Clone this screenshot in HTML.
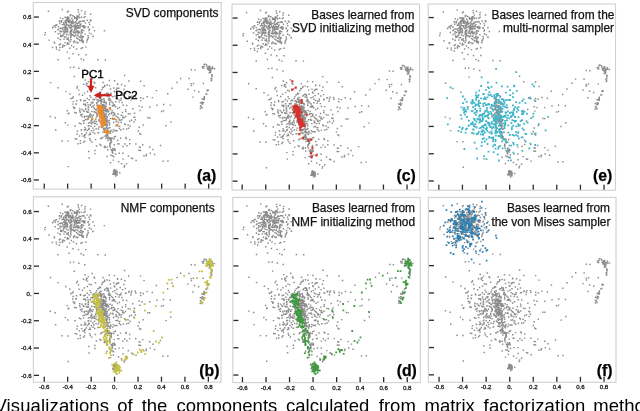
<!DOCTYPE html>
<html><head><meta charset="utf-8"><style>
html,body{margin:0;padding:0;background:#fff;width:640px;height:411px;overflow:hidden}
svg{display:block;font-family:"Liberation Sans",sans-serif;will-change:transform}
.t{font-size:11.9px;fill:#111;stroke:#111;stroke-width:0.25}
.l{font-size:15.8px;font-weight:bold;fill:#000;stroke:#000;stroke-width:0.25}
.n{font-size:6.1px;fill:#1a1a1a;stroke:#1a1a1a;stroke-width:0.3}
.p{font-size:11.5px;fill:#000;stroke:#000;stroke-width:0.4}
.c{font-size:18.5px;fill:#000}
</style></head><body>
<svg width="640" height="411" viewBox="0 0 640 411">
<defs><path id="base" fill="#8c8c8c" d="M-48.2 -55.0h1.45v1.45h-1.45zM-37.0 -76.5h1.45v1.45h-1.45zM-44.3 -73.6h1.45v1.45h-1.45zM-28.2 -79.0h1.45v1.45h-1.45zM-36.2 -76.1h1.45v1.45h-1.45zM-48.7 -78.2h1.45v1.45h-1.45zM-55.0 -68.2h1.45v1.45h-1.45zM-45.3 -57.4h1.45v1.45h-1.45zM-42.7 -83.5h1.45v1.45h-1.45zM-44.6 -61.4h1.45v1.45h-1.45zM-42.6 -77.4h1.45v1.45h-1.45zM-40.3 -70.7h1.45v1.45h-1.45zM-53.1 -74.6h1.45v1.45h-1.45zM-38.0 -81.2h1.45v1.45h-1.45zM-30.0 -76.1h1.45v1.45h-1.45zM-55.0 -59.6h1.45v1.45h-1.45zM-50.6 -73.1h1.45v1.45h-1.45zM-48.1 -80.9h1.45v1.45h-1.45zM-39.9 -73.6h1.45v1.45h-1.45zM-35.9 -73.4h1.45v1.45h-1.45zM-53.1 -89.8h1.45v1.45h-1.45zM-30.2 -82.6h1.45v1.45h-1.45zM-47.8 -56.4h1.45v1.45h-1.45zM-53.9 -62.6h1.45v1.45h-1.45zM-34.8 -77.7h1.45v1.45h-1.45zM-30.2 -87.4h1.45v1.45h-1.45zM-37.7 -73.5h1.45v1.45h-1.45zM-44.8 -68.2h1.45v1.45h-1.45zM-51.1 -74.7h1.45v1.45h-1.45zM-39.3 -67.6h1.45v1.45h-1.45zM-48.3 -74.3h1.45v1.45h-1.45zM-31.4 -71.4h1.45v1.45h-1.45zM-39.6 -66.5h1.45v1.45h-1.45zM-43.8 -68.3h1.45v1.45h-1.45zM-44.1 -66.1h1.45v1.45h-1.45zM-38.7 -80.8h1.45v1.45h-1.45zM-49.4 -81.6h1.45v1.45h-1.45zM-45.1 -67.9h1.45v1.45h-1.45zM-59.1 -52.0h1.45v1.45h-1.45zM-36.0 -62.3h1.45v1.45h-1.45zM-35.4 -71.2h1.45v1.45h-1.45zM-39.8 -81.1h1.45v1.45h-1.45zM-42.4 -45.4h1.45v1.45h-1.45zM-55.7 -78.3h1.45v1.45h-1.45zM-25.9 -70.0h1.45v1.45h-1.45zM-47.5 -60.0h1.45v1.45h-1.45zM-37.5 -56.8h1.45v1.45h-1.45zM-51.8 -71.8h1.45v1.45h-1.45zM-41.0 -68.8h1.45v1.45h-1.45zM-33.4 -61.1h1.45v1.45h-1.45zM-51.4 -67.5h1.45v1.45h-1.45zM-41.3 -68.1h1.45v1.45h-1.45zM-25.9 -66.1h1.45v1.45h-1.45zM-36.8 -66.2h1.45v1.45h-1.45zM-39.3 -67.3h1.45v1.45h-1.45zM-45.0 -83.4h1.45v1.45h-1.45zM-44.5 -84.1h1.45v1.45h-1.45zM-47.8 -67.1h1.45v1.45h-1.45zM-33.0 -51.5h1.45v1.45h-1.45zM-55.2 -70.9h1.45v1.45h-1.45zM-38.0 -75.2h1.45v1.45h-1.45zM-44.5 -59.6h1.45v1.45h-1.45zM-35.2 -74.2h1.45v1.45h-1.45zM-51.0 -71.4h1.45v1.45h-1.45zM-27.3 -71.7h1.45v1.45h-1.45zM-51.5 -67.4h1.45v1.45h-1.45zM-44.8 -73.4h1.45v1.45h-1.45zM-34.5 -63.4h1.45v1.45h-1.45zM-47.1 -78.8h1.45v1.45h-1.45zM-35.9 -81.4h1.45v1.45h-1.45zM-53.7 -63.2h1.45v1.45h-1.45zM-33.7 -63.3h1.45v1.45h-1.45zM-39.2 -70.3h1.45v1.45h-1.45zM-47.9 -82.3h1.45v1.45h-1.45zM-42.0 -66.7h1.45v1.45h-1.45zM-43.2 -72.7h1.45v1.45h-1.45zM-54.7 -63.9h1.45v1.45h-1.45zM-52.3 -54.1h1.45v1.45h-1.45zM-33.9 -82.0h1.45v1.45h-1.45zM-32.2 -56.8h1.45v1.45h-1.45zM-38.6 -76.1h1.45v1.45h-1.45zM-46.5 -77.2h1.45v1.45h-1.45zM-51.0 -62.3h1.45v1.45h-1.45zM-48.7 -65.0h1.45v1.45h-1.45zM-50.1 -78.3h1.45v1.45h-1.45zM-50.6 -67.1h1.45v1.45h-1.45zM-47.1 -88.0h1.45v1.45h-1.45zM-49.2 -74.4h1.45v1.45h-1.45zM-27.1 -61.4h1.45v1.45h-1.45zM-48.6 -68.1h1.45v1.45h-1.45zM-52.6 -80.4h1.45v1.45h-1.45zM-45.7 -79.0h1.45v1.45h-1.45zM-37.6 -70.9h1.45v1.45h-1.45zM-34.1 -68.4h1.45v1.45h-1.45zM-33.4 -60.5h1.45v1.45h-1.45zM-47.9 -80.2h1.45v1.45h-1.45zM-58.8 -74.5h1.45v1.45h-1.45zM-45.2 -66.5h1.45v1.45h-1.45zM-47.5 -80.8h1.45v1.45h-1.45zM-54.1 -77.2h1.45v1.45h-1.45zM-38.0 -67.4h1.45v1.45h-1.45zM-42.6 -76.2h1.45v1.45h-1.45zM-46.6 -59.0h1.45v1.45h-1.45zM-39.6 -64.2h1.45v1.45h-1.45zM-45.2 -71.2h1.45v1.45h-1.45zM-36.0 -84.8h1.45v1.45h-1.45zM-39.1 -71.7h1.45v1.45h-1.45zM-35.3 -73.0h1.45v1.45h-1.45zM-55.4 -66.1h1.45v1.45h-1.45zM-51.8 -76.2h1.45v1.45h-1.45zM-31.7 -73.5h1.45v1.45h-1.45zM-50.1 -77.0h1.45v1.45h-1.45zM-49.5 -72.7h1.45v1.45h-1.45zM-51.4 -60.0h1.45v1.45h-1.45zM-53.1 -70.9h1.45v1.45h-1.45zM-47.1 -74.1h1.45v1.45h-1.45zM-52.2 -74.6h1.45v1.45h-1.45zM-46.8 -80.5h1.45v1.45h-1.45zM-33.7 -69.1h1.45v1.45h-1.45zM-41.0 -72.7h1.45v1.45h-1.45zM-38.1 -68.6h1.45v1.45h-1.45zM-33.1 -66.8h1.45v1.45h-1.45zM-57.2 -72.7h1.45v1.45h-1.45zM-42.7 -77.2h1.45v1.45h-1.45zM-37.1 -71.8h1.45v1.45h-1.45zM-41.0 -71.7h1.45v1.45h-1.45zM-47.1 -61.3h1.45v1.45h-1.45zM-48.4 -70.1h1.45v1.45h-1.45zM-60.0 -67.4h1.45v1.45h-1.45zM-49.7 -70.1h1.45v1.45h-1.45zM-48.3 -71.2h1.45v1.45h-1.45zM-43.7 -80.8h1.45v1.45h-1.45zM-44.6 -68.9h1.45v1.45h-1.45zM-41.6 -56.7h1.45v1.45h-1.45zM-50.4 -81.9h1.45v1.45h-1.45zM-37.7 -71.4h1.45v1.45h-1.45zM-33.2 -69.4h1.45v1.45h-1.45zM-43.8 -68.4h1.45v1.45h-1.45zM-56.0 -78.0h1.45v1.45h-1.45zM-43.4 -70.0h1.45v1.45h-1.45zM-44.5 -65.8h1.45v1.45h-1.45zM-59.9 -71.9h1.45v1.45h-1.45zM-24.4 -78.4h1.45v1.45h-1.45zM-44.2 -63.6h1.45v1.45h-1.45zM-41.6 -73.6h1.45v1.45h-1.45zM-42.8 -77.2h1.45v1.45h-1.45zM-49.5 -79.0h1.45v1.45h-1.45zM-40.6 -66.5h1.45v1.45h-1.45zM-44.1 -73.5h1.45v1.45h-1.45zM-35.8 -71.3h1.45v1.45h-1.45zM-37.2 -89.4h1.45v1.45h-1.45zM-54.9 -55.2h1.45v1.45h-1.45zM-41.1 -63.3h1.45v1.45h-1.45zM-40.9 -58.3h1.45v1.45h-1.45zM-40.8 -80.9h1.45v1.45h-1.45zM-33.0 -62.3h1.45v1.45h-1.45zM-44.3 -77.6h1.45v1.45h-1.45zM-27.3 -63.4h1.45v1.45h-1.45zM-48.7 -79.4h1.45v1.45h-1.45zM-44.7 -62.8h1.45v1.45h-1.45zM-33.5 -57.7h1.45v1.45h-1.45zM-47.3 -78.3h1.45v1.45h-1.45zM-46.9 -76.7h1.45v1.45h-1.45zM-51.7 -76.8h1.45v1.45h-1.45zM-38.1 -83.3h1.45v1.45h-1.45zM-43.8 -68.0h1.45v1.45h-1.45zM-42.6 -78.9h1.45v1.45h-1.45zM-47.8 -69.7h1.45v1.45h-1.45zM-26.3 -76.8h1.45v1.45h-1.45zM-36.1 -66.7h1.45v1.45h-1.45zM-35.0 -61.7h1.45v1.45h-1.45zM-53.8 -63.5h1.45v1.45h-1.45zM-30.5 -72.1h1.45v1.45h-1.45zM-49.3 -68.0h1.45v1.45h-1.45zM-38.2 -79.9h1.45v1.45h-1.45zM-54.9 -81.1h1.45v1.45h-1.45zM-34.4 -65.4h1.45v1.45h-1.45zM-45.0 -74.6h1.45v1.45h-1.45zM-44.1 -71.8h1.45v1.45h-1.45zM-50.3 -56.6h1.45v1.45h-1.45zM-22.4 -72.1h1.45v1.45h-1.45zM-40.1 -74.7h1.45v1.45h-1.45zM-31.2 -78.0h1.45v1.45h-1.45zM-50.1 -69.9h1.45v1.45h-1.45zM-41.3 -76.7h1.45v1.45h-1.45zM-46.6 -73.7h1.45v1.45h-1.45zM-40.1 -81.5h1.45v1.45h-1.45zM-62.7 -71.4h1.45v1.45h-1.45zM-39.1 -76.0h1.45v1.45h-1.45zM-41.9 -64.3h1.45v1.45h-1.45zM-36.5 -73.6h1.45v1.45h-1.45zM-48.6 -60.2h1.45v1.45h-1.45zM-37.4 -64.0h1.45v1.45h-1.45zM-36.7 -82.5h1.45v1.45h-1.45zM-40.2 -72.5h1.45v1.45h-1.45zM-40.8 -81.5h1.45v1.45h-1.45zM-30.6 -71.4h1.45v1.45h-1.45zM-35.9 -71.1h1.45v1.45h-1.45zM-45.8 -76.7h1.45v1.45h-1.45zM-42.6 -64.2h1.45v1.45h-1.45zM-53.8 -78.5h1.45v1.45h-1.45zM-49.6 -62.2h1.45v1.45h-1.45zM-44.0 -76.5h1.45v1.45h-1.45zM-55.7 -75.7h1.45v1.45h-1.45zM-38.7 -61.3h1.45v1.45h-1.45zM-51.0 -69.4h1.45v1.45h-1.45zM-26.4 -68.8h1.45v1.45h-1.45zM-33.2 -78.1h1.45v1.45h-1.45zM-54.5 -70.8h1.45v1.45h-1.45zM-34.0 -66.9h1.45v1.45h-1.45zM-32.1 -62.4h1.45v1.45h-1.45zM-53.6 -67.4h1.45v1.45h-1.45zM-36.6 -67.8h1.45v1.45h-1.45zM-34.5 -58.8h1.45v1.45h-1.45zM-46.5 -81.4h1.45v1.45h-1.45zM-61.4 -73.2h1.45v1.45h-1.45zM-48.9 -65.0h1.45v1.45h-1.45zM-44.4 -59.4h1.45v1.45h-1.45zM-34.4 -75.3h1.45v1.45h-1.45zM-32.1 -72.1h1.45v1.45h-1.45zM-49.4 -75.8h1.45v1.45h-1.45zM-52.5 -63.7h1.45v1.45h-1.45zM-25.0 -79.2h1.45v1.45h-1.45zM-38.3 -82.3h1.45v1.45h-1.45zM-44.1 -75.4h1.45v1.45h-1.45zM-48.3 -68.2h1.45v1.45h-1.45zM-41.1 -82.4h1.45v1.45h-1.45zM-47.4 -79.0h1.45v1.45h-1.45zM-41.8 -57.2h1.45v1.45h-1.45zM-57.2 -65.4h1.45v1.45h-1.45zM-33.2 -72.9h1.45v1.45h-1.45zM-27.2 -72.3h1.45v1.45h-1.45zM-30.4 -72.8h1.45v1.45h-1.45zM-49.1 -76.4h1.45v1.45h-1.45zM-47.7 -59.9h1.45v1.45h-1.45zM-47.8 -67.8h1.45v1.45h-1.45zM-39.7 -77.5h1.45v1.45h-1.45zM-36.9 -87.1h1.45v1.45h-1.45zM-57.4 -69.5h1.45v1.45h-1.45zM-21.0 -68.5h1.45v1.45h-1.45zM-51.8 -65.0h1.45v1.45h-1.45zM-49.5 -67.1h1.45v1.45h-1.45zM-27.8 -60.0h1.45v1.45h-1.45zM-47.3 -82.0h1.45v1.45h-1.45zM-39.3 -73.5h1.45v1.45h-1.45zM-44.7 -78.3h1.45v1.45h-1.45zM-49.8 -78.4h1.45v1.45h-1.45zM-40.7 -69.5h1.45v1.45h-1.45zM-46.0 -78.3h1.45v1.45h-1.45zM-38.9 -67.9h1.45v1.45h-1.45zM-40.7 -62.8h1.45v1.45h-1.45zM-31.4 -81.7h1.45v1.45h-1.45zM-32.5 -73.2h1.45v1.45h-1.45zM-37.5 -60.4h1.45v1.45h-1.45zM-44.5 -69.1h1.45v1.45h-1.45zM-42.7 -75.9h1.45v1.45h-1.45zM-45.1 -65.3h1.45v1.45h-1.45zM-31.9 -68.6h1.45v1.45h-1.45zM-46.7 -55.3h1.45v1.45h-1.45zM-52.5 -69.2h1.45v1.45h-1.45zM-39.4 -57.1h1.45v1.45h-1.45zM-41.8 -73.5h1.45v1.45h-1.45zM-45.7 -71.4h1.45v1.45h-1.45zM-30.4 -65.1h1.45v1.45h-1.45zM-55.2 -68.0h1.45v1.45h-1.45zM-48.8 -70.5h1.45v1.45h-1.45zM-36.1 -77.8h1.45v1.45h-1.45zM-39.1 -81.8h1.45v1.45h-1.45zM-38.8 -78.9h1.45v1.45h-1.45zM-38.9 -73.0h1.45v1.45h-1.45zM-33.8 -88.6h1.45v1.45h-1.45zM-29.5 -44.5h1.45v1.45h-1.45zM-49.5 -70.9h1.45v1.45h-1.45zM-42.4 -75.4h1.45v1.45h-1.45zM-67.0 -87.9h1.45v1.45h-1.45zM-17.5 -39.5h1.45v1.45h-1.45zM-45.7 -51.0h1.45v1.45h-1.45zM-46.6 -72.7h1.45v1.45h-1.45zM-48.1 -47.1h1.45v1.45h-1.45zM-32.1 -78.3h1.45v1.45h-1.45zM-46.9 -64.1h1.45v1.45h-1.45zM-59.8 -73.9h1.45v1.45h-1.45zM-11.0 -68.5h1.45v1.45h-1.45zM-41.6 -32.0h1.45v1.45h-1.45zM-45.0 -31.7h1.45v1.45h-1.45zM-30.5 -85.2h1.45v1.45h-1.45zM-22.3 -62.6h1.45v1.45h-1.45zM-34.3 -50.8h1.45v1.45h-1.45zM-37.8 -63.5h1.45v1.45h-1.45zM-41.1 -22.8h1.45v1.45h-1.45zM-37.5 -66.3h1.45v1.45h-1.45zM-51.3 -65.8h1.45v1.45h-1.45zM-30.6 -29.4h1.45v1.45h-1.45zM-29.5 -52.1h1.45v1.45h-1.45zM-57.4 -61.0h1.45v1.45h-1.45zM-52.9 -51.9h1.45v1.45h-1.45zM-56.1 -48.9h1.45v1.45h-1.45zM-58.9 -50.0h1.45v1.45h-1.45zM-57.3 -39.4h1.45v1.45h-1.45zM-28.3 -58.9h1.45v1.45h-1.45zM-36.8 -83.0h1.45v1.45h-1.45zM-33.4 -59.0h1.45v1.45h-1.45zM-56.9 -70.0h1.45v1.45h-1.45zM-35.8 -73.4h1.45v1.45h-1.45zM-43.9 -53.7h1.45v1.45h-1.45zM-70.1 -66.6h1.45v1.45h-1.45zM-62.9 -51.7h1.45v1.45h-1.45zM-35.9 -59.5h1.45v1.45h-1.45zM-43.8 -64.7h1.45v1.45h-1.45zM-66.3 -59.1h1.45v1.45h-1.45zM-25.8 -74.7h1.45v1.45h-1.45zM-62.7 -71.7h1.45v1.45h-1.45zM-36.8 -44.5h1.45v1.45h-1.45zM-60.9 -56.3h1.45v1.45h-1.45zM-24.1 -65.1h1.45v1.45h-1.45zM-55.3 -59.8h1.45v1.45h-1.45zM-28.6 -57.1h1.45v1.45h-1.45zM-48.9 -64.8h1.45v1.45h-1.45zM-70.6 -64.5h1.45v1.45h-1.45zM-61.0 -57.1h1.45v1.45h-1.45zM-37.9 -56.3h1.45v1.45h-1.45zM-52.8 -52.9h1.45v1.45h-1.45zM-31.8 -39.2h1.45v1.45h-1.45zM-54.7 -62.8h1.45v1.45h-1.45zM-32.0 -58.1h1.45v1.45h-1.45zM-49.8 -68.2h1.45v1.45h-1.45zM-47.9 -87.2h1.45v1.45h-1.45zM-24.8 -85.0h1.45v1.45h-1.45zM-55.4 -51.7h1.45v1.45h-1.45zM-46.2 -40.9h1.45v1.45h-1.45zM-49.6 -71.9h1.45v1.45h-1.45zM-56.1 -54.4h1.45v1.45h-1.45zM-22.4 -62.9h1.45v1.45h-1.45zM-35.7 -58.8h1.45v1.45h-1.45zM-50.9 -53.4h1.45v1.45h-1.45zM-38.9 -50.3h1.45v1.45h-1.45zM-41.8 -52.2h1.45v1.45h-1.45zM-43.6 -80.6h1.45v1.45h-1.45zM-34.2 -40.3h1.45v1.45h-1.45zM-44.9 -84.5h1.45v1.45h-1.45zM-38.3 34.8h1.45v1.45h-1.45zM-30.2 35.4h1.45v1.45h-1.45zM-38.7 39.8h1.45v1.45h-1.45zM-4.6 30.9h1.45v1.45h-1.45zM24.5 11.2h1.45v1.45h-1.45zM7.5 47.2h1.45v1.45h-1.45zM-2.5 6.2h1.45v1.45h-1.45zM6.1 -14.8h1.45v1.45h-1.45zM-15.4 22.2h1.45v1.45h-1.45zM-23.0 17.3h1.45v1.45h-1.45zM1.6 31.5h1.45v1.45h-1.45zM-12.3 -11.9h1.45v1.45h-1.45zM-17.7 7.3h1.45v1.45h-1.45zM22.9 31.8h1.45v1.45h-1.45zM-8.3 -14.2h1.45v1.45h-1.45zM-42.0 7.7h1.45v1.45h-1.45zM-24.2 15.8h1.45v1.45h-1.45zM-2.1 20.0h1.45v1.45h-1.45zM-7.2 12.9h1.45v1.45h-1.45zM-27.3 17.5h1.45v1.45h-1.45zM-38.0 32.1h1.45v1.45h-1.45zM-14.4 13.3h1.45v1.45h-1.45zM19.1 14.1h1.45v1.45h-1.45zM-21.3 -16.9h1.45v1.45h-1.45zM-11.9 6.3h1.45v1.45h-1.45zM-31.8 43.1h1.45v1.45h-1.45zM-25.0 41.3h1.45v1.45h-1.45zM-17.3 2.6h1.45v1.45h-1.45zM-26.7 52.3h1.45v1.45h-1.45zM-39.1 4.9h1.45v1.45h-1.45zM-34.5 24.6h1.45v1.45h-1.45zM-0.9 -18.5h1.45v1.45h-1.45zM-12.9 25.5h1.45v1.45h-1.45zM-4.9 0.8h1.45v1.45h-1.45zM11.3 29.7h1.45v1.45h-1.45zM9.2 -23.7h1.45v1.45h-1.45zM-33.3 10.2h1.45v1.45h-1.45zM-19.7 19.9h1.45v1.45h-1.45zM-7.8 21.8h1.45v1.45h-1.45zM-46.6 14.1h1.45v1.45h-1.45zM-9.1 12.6h1.45v1.45h-1.45zM-38.8 1.6h1.45v1.45h-1.45zM3.8 20.5h1.45v1.45h-1.45zM-19.9 40.4h1.45v1.45h-1.45zM-0.8 14.0h1.45v1.45h-1.45zM-1.6 -11.2h1.45v1.45h-1.45zM-22.6 23.4h1.45v1.45h-1.45zM-16.8 33.4h1.45v1.45h-1.45zM-0.8 5.9h1.45v1.45h-1.45zM-20.5 51.3h1.45v1.45h-1.45zM10.3 12.4h1.45v1.45h-1.45zM3.7 27.4h1.45v1.45h-1.45zM-34.8 15.7h1.45v1.45h-1.45zM-11.6 24.9h1.45v1.45h-1.45zM-36.0 24.1h1.45v1.45h-1.45zM6.4 20.5h1.45v1.45h-1.45zM-42.2 2.4h1.45v1.45h-1.45zM-37.9 -12.8h1.45v1.45h-1.45zM4.2 19.9h1.45v1.45h-1.45zM-13.7 16.2h1.45v1.45h-1.45zM-31.9 -14.9h1.45v1.45h-1.45zM-24.2 -9.3h1.45v1.45h-1.45zM-2.4 3.7h1.45v1.45h-1.45zM1.4 26.5h1.45v1.45h-1.45zM10.1 -0.9h1.45v1.45h-1.45zM-5.7 3.6h1.45v1.45h-1.45zM7.6 16.9h1.45v1.45h-1.45zM-29.8 9.6h1.45v1.45h-1.45zM-18.9 11.2h1.45v1.45h-1.45zM-16.5 21.6h1.45v1.45h-1.45zM2.1 0.1h1.45v1.45h-1.45zM-16.1 13.3h1.45v1.45h-1.45zM-26.3 35.5h1.45v1.45h-1.45zM2.7 44.7h1.45v1.45h-1.45zM-48.2 11.5h1.45v1.45h-1.45zM-35.0 44.1h1.45v1.45h-1.45zM-9.2 14.6h1.45v1.45h-1.45zM-2.5 -2.5h1.45v1.45h-1.45zM-10.5 17.7h1.45v1.45h-1.45zM-30.2 -19.3h1.45v1.45h-1.45zM-23.7 21.1h1.45v1.45h-1.45zM-7.2 -5.7h1.45v1.45h-1.45zM-1.1 37.7h1.45v1.45h-1.45zM4.1 0.9h1.45v1.45h-1.45zM-26.5 29.3h1.45v1.45h-1.45zM-2.9 19.1h1.45v1.45h-1.45zM-10.2 36.9h1.45v1.45h-1.45zM-1.7 23.3h1.45v1.45h-1.45zM-4.9 19.4h1.45v1.45h-1.45zM-11.5 30.8h1.45v1.45h-1.45zM-21.2 5.9h1.45v1.45h-1.45zM20.0 20.6h1.45v1.45h-1.45zM-10.5 36.9h1.45v1.45h-1.45zM-27.2 8.6h1.45v1.45h-1.45zM-26.8 23.8h1.45v1.45h-1.45zM-44.5 -0.6h1.45v1.45h-1.45zM2.2 -14.8h1.45v1.45h-1.45zM4.9 -6.6h1.45v1.45h-1.45zM-11.9 29.2h1.45v1.45h-1.45zM-5.6 38.5h1.45v1.45h-1.45zM2.6 14.7h1.45v1.45h-1.45zM-18.9 46.8h1.45v1.45h-1.45zM-23.5 43.0h1.45v1.45h-1.45zM-25.2 23.2h1.45v1.45h-1.45zM-6.6 -3.1h1.45v1.45h-1.45zM28.7 -13.5h1.45v1.45h-1.45zM-64.8 -16.6h1.45v1.45h-1.45zM-27.1 26.8h1.45v1.45h-1.45zM-34.5 15.5h1.45v1.45h-1.45zM-12.5 32.7h1.45v1.45h-1.45zM-36.3 -4.8h1.45v1.45h-1.45zM9.9 25.4h1.45v1.45h-1.45zM11.3 6.3h1.45v1.45h-1.45zM0.8 22.4h1.45v1.45h-1.45zM-25.4 18.0h1.45v1.45h-1.45zM5.3 30.7h1.45v1.45h-1.45zM13.8 -2.7h1.45v1.45h-1.45zM-37.3 44.5h1.45v1.45h-1.45zM13.4 -18.2h1.45v1.45h-1.45zM-27.4 19.7h1.45v1.45h-1.45zM-29.8 6.5h1.45v1.45h-1.45zM-30.0 20.3h1.45v1.45h-1.45zM-42.6 4.9h1.45v1.45h-1.45zM5.8 23.2h1.45v1.45h-1.45zM-7.8 11.3h1.45v1.45h-1.45zM-19.4 13.6h1.45v1.45h-1.45zM0.8 16.9h1.45v1.45h-1.45zM1.0 -9.8h1.45v1.45h-1.45zM4.3 27.3h1.45v1.45h-1.45zM-9.3 37.4h1.45v1.45h-1.45zM-20.9 9.6h1.45v1.45h-1.45zM-12.8 -11.4h1.45v1.45h-1.45zM-3.3 11.2h1.45v1.45h-1.45zM-15.5 11.5h1.45v1.45h-1.45zM3.4 44.6h1.45v1.45h-1.45zM-33.7 34.5h1.45v1.45h-1.45zM-28.9 -15.7h1.45v1.45h-1.45zM-3.7 13.3h1.45v1.45h-1.45zM-12.8 -11.5h1.45v1.45h-1.45zM-49.5 -7.6h1.45v1.45h-1.45zM-25.9 -9.8h1.45v1.45h-1.45zM1.4 22.2h1.45v1.45h-1.45zM-32.2 21.4h1.45v1.45h-1.45zM-47.6 25.9h1.45v1.45h-1.45zM-11.3 15.6h1.45v1.45h-1.45zM-30.0 30.5h1.45v1.45h-1.45zM-6.8 12.3h1.45v1.45h-1.45zM-14.3 6.4h1.45v1.45h-1.45zM-4.0 41.4h1.45v1.45h-1.45zM31.0 55.2h1.45v1.45h-1.45zM-10.2 48.4h1.45v1.45h-1.45zM-3.1 6.7h1.45v1.45h-1.45zM-1.2 5.8h1.45v1.45h-1.45zM-25.8 16.2h1.45v1.45h-1.45zM-22.4 0.4h1.45v1.45h-1.45zM16.5 -3.0h1.45v1.45h-1.45zM18.7 22.8h1.45v1.45h-1.45zM-4.5 32.1h1.45v1.45h-1.45zM-18.3 25.2h1.45v1.45h-1.45zM-10.2 20.7h1.45v1.45h-1.45zM2.8 18.6h1.45v1.45h-1.45zM7.0 13.2h1.45v1.45h-1.45zM7.4 18.4h1.45v1.45h-1.45zM-0.6 -7.3h1.45v1.45h-1.45zM5.8 -1.0h1.45v1.45h-1.45zM-14.4 46.2h1.45v1.45h-1.45zM-36.8 -9.1h1.45v1.45h-1.45zM-47.2 14.6h1.45v1.45h-1.45zM-27.0 -17.5h1.45v1.45h-1.45zM-10.1 -39.2h1.45v1.45h-1.45zM-10.1 -5.0h1.45v1.45h-1.45zM-5.6 28.2h1.45v1.45h-1.45zM-12.5 13.6h1.45v1.45h-1.45zM-21.4 -0.1h1.45v1.45h-1.45zM18.4 17.9h1.45v1.45h-1.45zM-15.4 45.3h1.45v1.45h-1.45zM-3.6 2.5h1.45v1.45h-1.45zM-32.3 36.9h1.45v1.45h-1.45zM-8.8 24.8h1.45v1.45h-1.45zM-40.7 13.3h1.45v1.45h-1.45zM-3.0 19.5h1.45v1.45h-1.45zM27.9 25.7h1.45v1.45h-1.45zM-30.4 5.2h1.45v1.45h-1.45zM25.2 -18.0h1.45v1.45h-1.45zM-25.5 16.8h1.45v1.45h-1.45zM-10.0 2.9h1.45v1.45h-1.45zM-12.7 20.3h1.45v1.45h-1.45zM-29.1 33.8h1.45v1.45h-1.45zM-31.0 30.8h1.45v1.45h-1.45zM-18.7 -3.5h1.45v1.45h-1.45zM-20.9 0.2h1.45v1.45h-1.45zM-10.9 32.7h1.45v1.45h-1.45zM-33.2 14.9h1.45v1.45h-1.45zM-2.0 30.5h1.45v1.45h-1.45zM0.2 7.5h1.45v1.45h-1.45zM-19.8 -11.4h1.45v1.45h-1.45zM4.7 21.2h1.45v1.45h-1.45zM-20.4 54.4h1.45v1.45h-1.45zM-11.4 6.6h1.45v1.45h-1.45zM-4.7 43.2h1.45v1.45h-1.45zM-59.7 30.7h1.45v1.45h-1.45zM-39.5 4.7h1.45v1.45h-1.45zM-23.9 24.5h1.45v1.45h-1.45zM7.3 -4.3h1.45v1.45h-1.45zM-50.0 23.5h1.45v1.45h-1.45zM-35.7 11.5h1.45v1.45h-1.45zM-29.1 17.1h1.45v1.45h-1.45zM-8.2 47.7h1.45v1.45h-1.45zM14.7 27.1h1.45v1.45h-1.45zM-14.6 39.5h1.45v1.45h-1.45zM10.9 39.2h1.45v1.45h-1.45zM-18.2 0.4h1.45v1.45h-1.45zM-31.3 12.4h1.45v1.45h-1.45zM-31.1 36.6h1.45v1.45h-1.45zM-41.0 9.4h1.45v1.45h-1.45zM-3.3 39.0h1.45v1.45h-1.45zM4.0 29.4h1.45v1.45h-1.45zM-30.6 28.3h1.45v1.45h-1.45zM-28.8 12.3h1.45v1.45h-1.45zM11.6 46.6h1.45v1.45h-1.45zM1.0 31.3h1.45v1.45h-1.45zM-36.5 -30.9h1.45v1.45h-1.45zM-17.0 12.9h1.45v1.45h-1.45zM3.7 2.9h1.45v1.45h-1.45zM-0.5 31.5h1.45v1.45h-1.45zM-11.8 3.3h1.45v1.45h-1.45zM-26.2 58.8h1.45v1.45h-1.45zM-21.1 24.1h1.45v1.45h-1.45zM-14.8 -6.7h1.45v1.45h-1.45zM14.2 22.1h1.45v1.45h-1.45zM-35.1 41.4h1.45v1.45h-1.45zM-34.8 1.2h1.45v1.45h-1.45zM-21.6 30.9h1.45v1.45h-1.45zM-18.8 3.6h1.45v1.45h-1.45zM-2.5 32.8h1.45v1.45h-1.45zM1.9 17.9h1.45v1.45h-1.45zM-16.5 1.2h1.45v1.45h-1.45zM-21.1 23.9h1.45v1.45h-1.45zM-17.4 33.5h1.45v1.45h-1.45zM-34.1 30.5h1.45v1.45h-1.45zM0.6 20.6h1.45v1.45h-1.45zM19.3 18.1h1.45v1.45h-1.45zM-35.0 0.4h1.45v1.45h-1.45zM-24.9 5.4h1.45v1.45h-1.45zM-15.4 17.7h1.45v1.45h-1.45zM5.9 16.1h1.45v1.45h-1.45zM-23.2 -20.6h1.45v1.45h-1.45zM-6.9 12.1h1.45v1.45h-1.45zM-24.4 21.4h1.45v1.45h-1.45zM-8.8 25.8h1.45v1.45h-1.45zM-4.9 -10.2h1.45v1.45h-1.45zM9.5 44.8h1.45v1.45h-1.45zM10.2 17.3h1.45v1.45h-1.45zM-28.0 31.3h1.45v1.45h-1.45zM-34.0 30.8h1.45v1.45h-1.45zM-40.6 8.4h1.45v1.45h-1.45zM-35.9 36.7h1.45v1.45h-1.45zM-29.9 10.2h1.45v1.45h-1.45zM-10.6 47.0h1.45v1.45h-1.45zM-26.2 0.6h1.45v1.45h-1.45zM-5.9 1.4h1.45v1.45h-1.45zM-27.9 -7.7h1.45v1.45h-1.45zM4.1 8.2h1.45v1.45h-1.45zM-20.8 27.1h1.45v1.45h-1.45zM-20.1 24.4h1.45v1.45h-1.45zM-35.2 13.0h1.45v1.45h-1.45zM-19.4 -1.7h1.45v1.45h-1.45zM-45.5 -5.2h1.45v1.45h-1.45zM10.1 -5.7h1.45v1.45h-1.45zM-16.0 -6.1h1.45v1.45h-1.45zM-19.7 20.6h1.45v1.45h-1.45zM8.6 18.6h1.45v1.45h-1.45zM-31.4 21.5h1.45v1.45h-1.45zM-8.4 30.6h1.45v1.45h-1.45zM-12.5 14.7h1.45v1.45h-1.45zM-30.9 18.1h1.45v1.45h-1.45zM-22.3 33.2h1.45v1.45h-1.45zM-32.0 11.6h1.45v1.45h-1.45zM5.2 39.0h1.45v1.45h-1.45zM-8.3 -3.3h1.45v1.45h-1.45zM-10.8 -12.7h1.45v1.45h-1.45zM-26.3 29.2h1.45v1.45h-1.45zM3.4 -11.1h1.45v1.45h-1.45zM-5.4 33.6h1.45v1.45h-1.45zM-4.5 43.5h1.45v1.45h-1.45zM-25.4 -3.5h1.45v1.45h-1.45zM8.6 -9.7h1.45v1.45h-1.45zM-33.5 17.3h1.45v1.45h-1.45zM8.0 29.8h1.45v1.45h-1.45zM-5.8 5.3h1.45v1.45h-1.45zM-4.9 1.4h1.45v1.45h-1.45zM-60.2 18.6h1.45v1.45h-1.45zM-0.5 -3.3h1.45v1.45h-1.45zM-53.4 41.7h1.45v1.45h-1.45zM-11.1 48.1h1.45v1.45h-1.45zM-21.2 12.5h1.45v1.45h-1.45zM-0.6 15.4h1.45v1.45h-1.45zM-47.1 67.4h1.45v1.45h-1.45zM10.4 38.3h1.45v1.45h-1.45zM-12.7 9.4h1.45v1.45h-1.45zM-12.3 -16.7h1.45v1.45h-1.45zM-19.3 29.6h1.45v1.45h-1.45zM-8.3 57.3h1.45v1.45h-1.45zM-10.1 7.5h1.45v1.45h-1.45zM7.9 6.1h1.45v1.45h-1.45zM10.3 10.5h1.45v1.45h-1.45zM-5.9 -13.6h1.45v1.45h-1.45zM-19.7 10.5h1.45v1.45h-1.45zM-12.6 38.2h1.45v1.45h-1.45zM-8.0 36.7h1.45v1.45h-1.45zM15.6 0.9h1.45v1.45h-1.45zM-31.6 1.6h1.45v1.45h-1.45zM-30.4 38.3h1.45v1.45h-1.45zM34.4 18.7h1.45v1.45h-1.45zM-22.5 3.4h1.45v1.45h-1.45zM-28.1 -0.8h1.45v1.45h-1.45zM-1.5 6.6h1.45v1.45h-1.45zM-20.7 -16.0h1.45v1.45h-1.45zM-26.9 7.8h1.45v1.45h-1.45zM-22.5 28.9h1.45v1.45h-1.45zM-6.9 0.6h1.45v1.45h-1.45zM14.3 40.4h1.45v1.45h-1.45zM-31.7 24.0h1.45v1.45h-1.45zM14.7 14.8h1.45v1.45h-1.45zM-25.1 5.4h1.45v1.45h-1.45zM-25.6 39.5h1.45v1.45h-1.45zM-65.0 17.2h1.45v1.45h-1.45zM-1.3 6.1h1.45v1.45h-1.45zM-26.8 10.4h1.45v1.45h-1.45zM-18.3 0.8h1.45v1.45h-1.45zM-26.6 26.5h1.45v1.45h-1.45zM-18.1 6.3h1.45v1.45h-1.45zM-23.4 12.4h1.45v1.45h-1.45zM2.2 9.3h1.45v1.45h-1.45zM-27.9 3.4h1.45v1.45h-1.45zM12.9 14.5h1.45v1.45h-1.45zM-42.2 -2.2h1.45v1.45h-1.45zM-7.7 10.3h1.45v1.45h-1.45zM-16.4 20.2h1.45v1.45h-1.45zM-25.1 6.0h1.45v1.45h-1.45zM2.2 -15.3h1.45v1.45h-1.45zM-40.1 39.5h1.45v1.45h-1.45zM-14.5 15.5h1.45v1.45h-1.45zM23.9 47.9h1.45v1.45h-1.45zM-35.6 9.6h1.45v1.45h-1.45zM-23.8 8.1h1.45v1.45h-1.45zM-19.2 22.5h1.45v1.45h-1.45zM-0.4 51.2h1.45v1.45h-1.45zM0.4 2.5h1.45v1.45h-1.45zM-29.1 -14.1h1.45v1.45h-1.45zM-17.0 29.8h1.45v1.45h-1.45zM-38.6 -11.3h1.45v1.45h-1.45zM-24.1 3.5h1.45v1.45h-1.45zM-4.5 -6.0h1.45v1.45h-1.45zM13.2 29.1h1.45v1.45h-1.45zM-27.1 10.6h1.45v1.45h-1.45zM-43.1 -1.0h1.45v1.45h-1.45zM-7.5 31.3h1.45v1.45h-1.45zM25.3 1.4h1.45v1.45h-1.45zM-17.1 0.9h1.45v1.45h-1.45zM0.1 37.2h1.45v1.45h-1.45zM-28.4 20.3h1.45v1.45h-1.45zM-10.7 -13.8h1.45v1.45h-1.45zM-23.0 3.8h1.45v1.45h-1.45zM-23.6 20.0h1.45v1.45h-1.45zM-29.9 5.0h1.45v1.45h-1.45zM-57.3 -11.5h1.45v1.45h-1.45zM9.3 24.7h1.45v1.45h-1.45zM2.2 -10.9h1.45v1.45h-1.45zM-20.6 34.3h1.45v1.45h-1.45zM-8.5 -5.7h1.45v1.45h-1.45zM-31.7 5.1h1.45v1.45h-1.45zM-25.4 33.9h1.45v1.45h-1.45zM-11.6 17.1h1.45v1.45h-1.45zM-2.1 13.3h1.45v1.45h-1.45zM5.5 0.7h1.45v1.45h-1.45zM-8.0 34.4h1.45v1.45h-1.45zM2.1 26.1h1.45v1.45h-1.45zM-21.4 8.8h1.45v1.45h-1.45zM-2.3 16.3h1.45v1.45h-1.45zM3.1 23.3h1.45v1.45h-1.45zM-23.5 12.2h1.45v1.45h-1.45zM-7.7 34.7h1.45v1.45h-1.45zM-19.0 17.9h1.45v1.45h-1.45zM14.3 44.5h1.45v1.45h-1.45zM-8.4 17.4h1.45v1.45h-1.45zM-7.1 -4.7h1.45v1.45h-1.45zM10.8 -0.8h1.45v1.45h-1.45zM-5.7 14.5h1.45v1.45h-1.45zM-6.8 15.8h1.45v1.45h-1.45zM15.9 -1.4h1.45v1.45h-1.45zM-6.2 21.2h1.45v1.45h-1.45zM23.8 28.1h1.45v1.45h-1.45zM-1.6 5.5h1.45v1.45h-1.45zM-23.4 22.8h1.45v1.45h-1.45zM13.4 -2.2h1.45v1.45h-1.45zM-6.4 -1.2h1.45v1.45h-1.45zM-28.3 -15.6h1.45v1.45h-1.45zM2.3 41.1h1.45v1.45h-1.45zM-11.6 29.1h1.45v1.45h-1.45zM-27.3 5.7h1.45v1.45h-1.45zM-27.0 7.7h1.45v1.45h-1.45zM-22.7 3.0h1.45v1.45h-1.45zM-21.1 22.1h1.45v1.45h-1.45zM-39.2 13.7h1.45v1.45h-1.45zM3.7 54.0h1.45v1.45h-1.45zM-27.3 17.1h1.45v1.45h-1.45zM-14.1 38.8h1.45v1.45h-1.45zM-17.5 -5.3h1.45v1.45h-1.45zM-26.6 30.3h1.45v1.45h-1.45zM-14.0 11.2h1.45v1.45h-1.45zM-4.8 38.8h1.45v1.45h-1.45zM9.5 -13.3h1.45v1.45h-1.45zM-41.1 9.3h1.45v1.45h-1.45zM-15.7 -7.0h1.45v1.45h-1.45zM-32.8 -3.9h1.45v1.45h-1.45zM-5.0 34.1h1.45v1.45h-1.45zM-13.1 0.4h1.45v1.45h-1.45zM-27.9 13.1h1.45v1.45h-1.45zM1.7 -10.9h1.45v1.45h-1.45zM-1.1 15.8h1.45v1.45h-1.45zM-18.4 4.5h1.45v1.45h-1.45zM-47.5 41.9h1.45v1.45h-1.45zM32.5 18.6h1.45v1.45h-1.45zM-30.9 -6.1h1.45v1.45h-1.45zM-28.6 12.4h1.45v1.45h-1.45zM-6.0 -18.8h1.45v1.45h-1.45zM0.5 -1.0h1.45v1.45h-1.45zM-12.0 16.8h1.45v1.45h-1.45zM0.6 26.5h1.45v1.45h-1.45zM-7.8 50.6h1.45v1.45h-1.45zM-1.8 57.6h1.45v1.45h-1.45zM-30.7 35.8h1.45v1.45h-1.45zM1.5 -4.9h1.45v1.45h-1.45zM-24.3 27.1h1.45v1.45h-1.45zM-26.8 12.9h1.45v1.45h-1.45zM-25.0 35.1h1.45v1.45h-1.45zM-25.3 14.6h1.45v1.45h-1.45zM-7.5 41.3h1.45v1.45h-1.45zM-9.4 39.3h1.45v1.45h-1.45zM-12.8 19.8h1.45v1.45h-1.45zM6.8 3.3h1.45v1.45h-1.45zM-30.8 41.9h1.45v1.45h-1.45zM-40.3 26.7h1.45v1.45h-1.45zM12.7 25.7h1.45v1.45h-1.45zM-27.8 -13.0h1.45v1.45h-1.45zM-3.8 14.3h1.45v1.45h-1.45zM-13.7 -9.6h1.45v1.45h-1.45zM-30.1 1.2h1.45v1.45h-1.45zM-22.4 7.0h1.45v1.45h-1.45zM-22.0 15.7h1.45v1.45h-1.45zM-1.0 -8.1h1.45v1.45h-1.45zM-18.2 9.5h1.45v1.45h-1.45zM-10.7 8.8h1.45v1.45h-1.45zM-5.3 10.2h1.45v1.45h-1.45zM-8.6 -6.1h1.45v1.45h-1.45zM20.5 -1.1h1.45v1.45h-1.45zM-23.9 31.6h1.45v1.45h-1.45zM-27.1 18.1h1.45v1.45h-1.45zM-23.3 17.2h1.45v1.45h-1.45zM-18.7 15.1h1.45v1.45h-1.45zM-12.0 26.7h1.45v1.45h-1.45zM-24.4 -1.7h1.45v1.45h-1.45zM-31.0 17.3h1.45v1.45h-1.45zM-17.2 9.5h1.45v1.45h-1.45zM-20.4 13.0h1.45v1.45h-1.45zM-27.2 19.8h1.45v1.45h-1.45zM-29.7 29.9h1.45v1.45h-1.45zM-13.9 23.1h1.45v1.45h-1.45zM-5.9 -0.4h1.45v1.45h-1.45zM-12.2 10.8h1.45v1.45h-1.45zM-12.5 20.7h1.45v1.45h-1.45zM-12.9 15.6h1.45v1.45h-1.45zM-15.7 -2.1h1.45v1.45h-1.45zM-13.9 18.1h1.45v1.45h-1.45zM-15.0 7.3h1.45v1.45h-1.45zM-10.8 16.0h1.45v1.45h-1.45zM-16.1 9.7h1.45v1.45h-1.45zM-14.0 0.7h1.45v1.45h-1.45zM-13.1 7.7h1.45v1.45h-1.45zM-15.4 1.7h1.45v1.45h-1.45zM-11.5 20.5h1.45v1.45h-1.45zM-14.3 4.3h1.45v1.45h-1.45zM-10.0 7.6h1.45v1.45h-1.45zM-8.4 26.5h1.45v1.45h-1.45zM-15.2 6.3h1.45v1.45h-1.45zM-14.1 16.0h1.45v1.45h-1.45zM-15.3 8.9h1.45v1.45h-1.45zM-10.2 9.6h1.45v1.45h-1.45zM-10.4 29.6h1.45v1.45h-1.45zM-14.2 16.2h1.45v1.45h-1.45zM-13.7 11.8h1.45v1.45h-1.45zM-13.1 28.3h1.45v1.45h-1.45zM-14.8 15.9h1.45v1.45h-1.45zM-5.8 25.6h1.45v1.45h-1.45zM-11.2 3.2h1.45v1.45h-1.45zM-18.2 15.3h1.45v1.45h-1.45zM-11.5 17.6h1.45v1.45h-1.45zM-14.1 19.4h1.45v1.45h-1.45zM-8.2 11.9h1.45v1.45h-1.45zM-13.0 12.8h1.45v1.45h-1.45zM-8.6 20.6h1.45v1.45h-1.45zM-13.3 12.2h1.45v1.45h-1.45zM-14.0 17.4h1.45v1.45h-1.45zM-8.0 11.8h1.45v1.45h-1.45zM-11.5 13.5h1.45v1.45h-1.45zM-11.3 20.2h1.45v1.45h-1.45zM-8.0 25.2h1.45v1.45h-1.45zM-11.0 18.0h1.45v1.45h-1.45zM-9.4 12.2h1.45v1.45h-1.45zM-11.7 8.7h1.45v1.45h-1.45zM-14.0 27.3h1.45v1.45h-1.45zM-14.4 23.5h1.45v1.45h-1.45zM-10.0 21.5h1.45v1.45h-1.45zM-12.9 15.5h1.45v1.45h-1.45zM-14.5 23.0h1.45v1.45h-1.45zM-9.2 25.9h1.45v1.45h-1.45zM-11.4 14.2h1.45v1.45h-1.45zM-15.5 13.8h1.45v1.45h-1.45zM-18.2 16.8h1.45v1.45h-1.45zM-13.6 9.7h1.45v1.45h-1.45zM-13.0 13.7h1.45v1.45h-1.45zM-14.2 10.6h1.45v1.45h-1.45zM-14.8 15.6h1.45v1.45h-1.45zM-12.1 17.5h1.45v1.45h-1.45zM-14.8 8.3h1.45v1.45h-1.45zM-16.4 27.8h1.45v1.45h-1.45zM-14.6 18.1h1.45v1.45h-1.45zM-9.6 10.2h1.45v1.45h-1.45zM-9.2 21.6h1.45v1.45h-1.45zM-16.5 5.9h1.45v1.45h-1.45zM-10.9 19.0h1.45v1.45h-1.45zM-14.8 22.5h1.45v1.45h-1.45zM-15.2 9.3h1.45v1.45h-1.45zM-10.8 20.5h1.45v1.45h-1.45zM-12.5 14.3h1.45v1.45h-1.45zM-11.0 2.8h1.45v1.45h-1.45zM-9.1 28.5h1.45v1.45h-1.45zM-12.1 14.5h1.45v1.45h-1.45zM-9.2 7.2h1.45v1.45h-1.45zM-18.3 6.5h1.45v1.45h-1.45zM-11.0 17.6h1.45v1.45h-1.45zM-6.3 32.4h1.45v1.45h-1.45zM-3.1 53.0h1.45v1.45h-1.45zM-11.7 19.2h1.45v1.45h-1.45zM-4.5 56.1h1.45v1.45h-1.45zM-6.3 38.9h1.45v1.45h-1.45zM-14.2 2.7h1.45v1.45h-1.45zM-11.5 7.3h1.45v1.45h-1.45zM-14.2 -2.8h1.45v1.45h-1.45zM-11.1 1.3h1.45v1.45h-1.45zM-7.6 36.9h1.45v1.45h-1.45zM-11.8 6.8h1.45v1.45h-1.45zM-4.8 41.3h1.45v1.45h-1.45zM-10.9 15.5h1.45v1.45h-1.45zM-2.7 49.4h1.45v1.45h-1.45zM-13.7 15.8h1.45v1.45h-1.45zM-7.2 36.9h1.45v1.45h-1.45zM-0.4 50.4h1.45v1.45h-1.45zM-2.6 51.0h1.45v1.45h-1.45zM-3.6 51.1h1.45v1.45h-1.45zM-4.1 39.8h1.45v1.45h-1.45zM-9.0 26.1h1.45v1.45h-1.45zM-10.8 26.0h1.45v1.45h-1.45zM-3.1 52.1h1.45v1.45h-1.45zM-11.9 3.1h1.45v1.45h-1.45zM-10.6 20.3h1.45v1.45h-1.45zM-9.2 9.8h1.45v1.45h-1.45zM-9.8 19.0h1.45v1.45h-1.45zM-6.1 39.7h1.45v1.45h-1.45zM-5.7 46.3h1.45v1.45h-1.45zM-1.1 45.5h1.45v1.45h-1.45zM-10.7 -4.2h1.45v1.45h-1.45zM-10.3 29.2h1.45v1.45h-1.45zM-8.5 27.8h1.45v1.45h-1.45zM-14.2 6.2h1.45v1.45h-1.45zM-10.7 6.3h1.45v1.45h-1.45zM-13.1 5.6h1.45v1.45h-1.45zM-8.5 19.2h1.45v1.45h-1.45zM-13.9 1.7h1.45v1.45h-1.45zM-16.0 -1.1h1.45v1.45h-1.45zM-9.1 10.8h1.45v1.45h-1.45zM-5.7 39.7h1.45v1.45h-1.45zM-13.0 6.7h1.45v1.45h-1.45zM-9.1 31.9h1.45v1.45h-1.45zM-10.0 17.0h1.45v1.45h-1.45zM-1.5 50.9h1.45v1.45h-1.45zM-5.4 45.0h1.45v1.45h-1.45zM-9.2 3.6h1.45v1.45h-1.45zM0.1 54.8h1.45v1.45h-1.45zM-7.7 29.4h1.45v1.45h-1.45zM-9.7 15.4h1.45v1.45h-1.45zM-5.6 44.3h1.45v1.45h-1.45zM-11.6 6.4h1.45v1.45h-1.45zM-11.8 20.6h1.45v1.45h-1.45zM-13.6 11.2h1.45v1.45h-1.45zM-1.6 39.5h1.45v1.45h-1.45zM-11.6 9.7h1.45v1.45h-1.45zM-6.6 28.9h1.45v1.45h-1.45zM-8.4 34.5h1.45v1.45h-1.45zM-10.0 15.4h1.45v1.45h-1.45zM-11.8 11.7h1.45v1.45h-1.45zM-4.9 63.5h1.45v1.45h-1.45zM-9.3 25.7h1.45v1.45h-1.45zM-12.8 6.1h1.45v1.45h-1.45zM-10.2 20.1h1.45v1.45h-1.45zM-7.3 23.3h1.45v1.45h-1.45zM-6.4 32.2h1.45v1.45h-1.45zM-14.8 8.8h1.45v1.45h-1.45zM-7.4 39.2h1.45v1.45h-1.45zM-2.0 60.9h1.45v1.45h-1.45zM-13.8 1.2h1.45v1.45h-1.45zM-7.6 32.5h1.45v1.45h-1.45zM-12.1 22.1h1.45v1.45h-1.45zM-5.8 39.2h1.45v1.45h-1.45zM-10.0 23.5h1.45v1.45h-1.45zM-13.9 21.2h1.45v1.45h-1.45zM-15.6 13.5h1.45v1.45h-1.45zM-13.9 15.5h1.45v1.45h-1.45zM-12.2 17.9h1.45v1.45h-1.45zM-15.1 7.7h1.45v1.45h-1.45zM-10.1 29.3h1.45v1.45h-1.45zM-12.9 19.0h1.45v1.45h-1.45zM-5.7 46.7h1.45v1.45h-1.45zM-8.9 21.6h1.45v1.45h-1.45zM-12.3 5.8h1.45v1.45h-1.45zM-10.6 33.1h1.45v1.45h-1.45zM-10.4 11.5h1.45v1.45h-1.45zM-8.1 17.6h1.45v1.45h-1.45zM-7.8 38.4h1.45v1.45h-1.45zM-1.0 49.2h1.45v1.45h-1.45zM-13.9 1.3h1.45v1.45h-1.45zM-14.9 7.1h1.45v1.45h-1.45zM-11.6 -0.4h1.45v1.45h-1.45zM-4.2 50.5h1.45v1.45h-1.45zM-10.8 21.3h1.45v1.45h-1.45zM-5.9 23.7h1.45v1.45h-1.45zM-10.0 7.4h1.45v1.45h-1.45zM-14.6 0.5h1.45v1.45h-1.45zM-8.2 35.5h1.45v1.45h-1.45zM-13.7 2.3h1.45v1.45h-1.45zM-8.4 26.6h1.45v1.45h-1.45zM-9.1 17.1h1.45v1.45h-1.45zM-15.2 17.5h1.45v1.45h-1.45zM-12.2 6.4h1.45v1.45h-1.45zM-9.1 22.8h1.45v1.45h-1.45zM-5.0 48.3h1.45v1.45h-1.45zM-12.7 5.6h1.45v1.45h-1.45zM-11.8 5.6h1.45v1.45h-1.45zM-14.3 12.9h1.45v1.45h-1.45zM-9.3 36.0h1.45v1.45h-1.45zM-14.6 -0.7h1.45v1.45h-1.45zM-11.4 15.8h1.45v1.45h-1.45zM-2.9 56.6h1.45v1.45h-1.45zM-2.7 53.8h1.45v1.45h-1.45zM-9.5 4.7h1.45v1.45h-1.45zM-11.2 18.5h1.45v1.45h-1.45zM-8.6 25.5h1.45v1.45h-1.45zM-4.0 42.9h1.45v1.45h-1.45zM-11.8 15.2h1.45v1.45h-1.45zM1.5 72.9h1.45v1.45h-1.45zM0.9 73.7h1.45v1.45h-1.45zM1.6 75.9h1.45v1.45h-1.45zM1.8 73.9h1.45v1.45h-1.45zM-0.0 75.1h1.45v1.45h-1.45zM-2.1 74.2h1.45v1.45h-1.45zM1.2 72.9h1.45v1.45h-1.45zM1.4 73.8h1.45v1.45h-1.45zM0.5 73.6h1.45v1.45h-1.45zM-1.3 73.6h1.45v1.45h-1.45zM-0.4 72.1h1.45v1.45h-1.45zM-0.1 73.5h1.45v1.45h-1.45zM1.0 71.9h1.45v1.45h-1.45zM0.0 73.6h1.45v1.45h-1.45zM0.4 71.8h1.45v1.45h-1.45zM-1.1 75.2h1.45v1.45h-1.45zM4.3 73.6h1.45v1.45h-1.45zM0.3 76.8h1.45v1.45h-1.45zM-0.4 73.6h1.45v1.45h-1.45zM-0.6 74.1h1.45v1.45h-1.45zM-0.1 72.9h1.45v1.45h-1.45zM1.5 75.4h1.45v1.45h-1.45zM-1.6 72.6h1.45v1.45h-1.45zM0.4 74.8h1.45v1.45h-1.45zM-1.8 74.7h1.45v1.45h-1.45zM0.2 72.5h1.45v1.45h-1.45zM1.6 72.3h1.45v1.45h-1.45zM-1.2 70.6h1.45v1.45h-1.45zM1.1 73.6h1.45v1.45h-1.45zM-0.1 72.0h1.45v1.45h-1.45zM-0.4 74.0h1.45v1.45h-1.45zM0.3 71.1h1.45v1.45h-1.45zM-1.8 71.8h1.45v1.45h-1.45zM-2.7 74.9h1.45v1.45h-1.45zM0.4 71.9h1.45v1.45h-1.45zM95.0 -26.6h1.45v1.45h-1.45zM94.4 -33.1h1.45v1.45h-1.45zM92.2 -31.0h1.45v1.45h-1.45zM93.5 -32.8h1.45v1.45h-1.45zM93.8 -28.9h1.45v1.45h-1.45zM97.1 -32.3h1.45v1.45h-1.45zM93.9 -26.4h1.45v1.45h-1.45zM91.9 -30.8h1.45v1.45h-1.45zM95.2 -27.4h1.45v1.45h-1.45zM96.4 -31.0h1.45v1.45h-1.45zM93.7 -29.8h1.45v1.45h-1.45zM94.8 -28.9h1.45v1.45h-1.45zM95.6 -29.7h1.45v1.45h-1.45zM94.2 -31.7h1.45v1.45h-1.45zM95.2 -27.3h1.45v1.45h-1.45zM94.5 -28.1h1.45v1.45h-1.45zM94.7 -30.8h1.45v1.45h-1.45zM92.3 -31.8h1.45v1.45h-1.45zM97.3 -30.7h1.45v1.45h-1.45zM92.7 -29.7h1.45v1.45h-1.45zM94.9 -30.9h1.45v1.45h-1.45zM95.3 -28.7h1.45v1.45h-1.45zM93.7 -31.3h1.45v1.45h-1.45zM99.1 -30.5h1.45v1.45h-1.45zM91.2 -33.2h1.45v1.45h-1.45zM89.6 -34.9h1.45v1.45h-1.45zM87.5 -31.1h1.45v1.45h-1.45zM88.5 -32.8h1.45v1.45h-1.45zM88.2 -31.0h1.45v1.45h-1.45zM87.0 -32.5h1.45v1.45h-1.45zM88.8 -34.7h1.45v1.45h-1.45zM91.2 -34.2h1.45v1.45h-1.45zM96.3 -21.1h1.45v1.45h-1.45zM95.9 -18.5h1.45v1.45h-1.45zM96.3 -19.2h1.45v1.45h-1.45zM96.6 -22.9h1.45v1.45h-1.45zM95.7 -20.7h1.45v1.45h-1.45zM96.7 -24.2h1.45v1.45h-1.45zM96.3 -24.6h1.45v1.45h-1.45zM84.9 9.3h1.45v1.45h-1.45zM88.0 0.1h1.45v1.45h-1.45zM87.3 4.9h1.45v1.45h-1.45zM88.9 0.3h1.45v1.45h-1.45zM91.3 -5.2h1.45v1.45h-1.45zM86.7 8.8h1.45v1.45h-1.45zM91.8 -9.3h1.45v1.45h-1.45zM85.1 3.6h1.45v1.45h-1.45zM91.9 -8.5h1.45v1.45h-1.45zM88.5 -1.3h1.45v1.45h-1.45zM86.8 -0.1h1.45v1.45h-1.45zM90.6 -4.9h1.45v1.45h-1.45zM92.9 -8.9h1.45v1.45h-1.45zM86.8 2.7h1.45v1.45h-1.45zM88.8 -0.1h1.45v1.45h-1.45zM88.0 3.4h1.45v1.45h-1.45zM89.0 -1.3h1.45v1.45h-1.45zM87.1 4.8h1.45v1.45h-1.45zM86.5 4.3h1.45v1.45h-1.45zM89.0 -2.6h1.45v1.45h-1.45zM85.7 7.2h1.45v1.45h-1.45zM86.0 7.6h1.45v1.45h-1.45zM88.6 -0.7h1.45v1.45h-1.45zM85.1 6.6h1.45v1.45h-1.45zM26.6 7.7h1.45v1.45h-1.45zM25.3 -1.4h1.45v1.45h-1.45zM52.3 -5.4h1.45v1.45h-1.45zM61.7 -16.7h1.45v1.45h-1.45zM72.7 -10.0h1.45v1.45h-1.45zM20.0 -2.8h1.45v1.45h-1.45zM77.5 -2.1h1.45v1.45h-1.45zM87.9 -15.8h1.45v1.45h-1.45zM34.4 7.7h1.45v1.45h-1.45zM27.9 -0.7h1.45v1.45h-1.45zM41.6 6.1h1.45v1.45h-1.45zM65.3 -20.8h1.45v1.45h-1.45zM73.7 -20.7h1.45v1.45h-1.45zM78.1 -15.8h1.45v1.45h-1.45zM76.0 -29.4h1.45v1.45h-1.45zM75.8 -15.5h1.45v1.45h-1.45zM79.6 -29.1h1.45v1.45h-1.45zM83.3 -7.4h1.45v1.45h-1.45zM79.2 -8.6h1.45v1.45h-1.45zM76.1 -13.6h1.45v1.45h-1.45zM6.1 64.5h1.45v1.45h-1.45zM7.7 59.9h1.45v1.45h-1.45zM8.7 67.8h1.45v1.45h-1.45zM20.7 61.2h1.45v1.45h-1.45zM16.1 59.0h1.45v1.45h-1.45zM30.8 56.5h1.45v1.45h-1.45zM17.2 59.4h1.45v1.45h-1.45zM9.2 66.3h1.45v1.45h-1.45zM56.6 -10.9h1.45v1.45h-1.45zM46.2 12.2h1.45v1.45h-1.45zM48.1 11.5h1.45v1.45h-1.45zM39.2 55.3h1.45v1.45h-1.45zM17.4 9.6h1.45v1.45h-1.45zM24.2 34.3h1.45v1.45h-1.45zM23.8 6.9h1.45v1.45h-1.45zM25.3 35.1h1.45v1.45h-1.45zM55.5 22.8h1.45v1.45h-1.45zM37.0 -1.6h1.45v1.45h-1.45zM28.5 56.6h1.45v1.45h-1.45zM45.1 46.3h1.45v1.45h-1.45zM47.7 62.1h1.45v1.45h-1.45zM50.7 26.5h1.45v1.45h-1.45zM41.0 -8.6h1.45v1.45h-1.45zM55.0 5.9h1.45v1.45h-1.45zM37.6 50.2h1.45v1.45h-1.45zM52.5 61.8h1.45v1.45h-1.45zM48.2 5.3h1.45v1.45h-1.45zM31.7 -2.5h1.45v1.45h-1.45zM16.1 21.1h1.45v1.45h-1.45zM34.9 54.0h1.45v1.45h-1.45zM24.8 48.0h1.45v1.45h-1.45zM27.3 45.5h1.45v1.45h-1.45zM7.5 54.0h1.45v1.45h-1.45zM25.1 51.3h1.45v1.45h-1.45zM34.3 47.7h1.45v1.45h-1.45zM23.6 51.1h1.45v1.45h-1.45zM3.2 62.6h1.45v1.45h-1.45zM20.4 44.7h1.45v1.45h-1.45zM13.0 56.7h1.45v1.45h-1.45zM11.2 64.4h1.45v1.45h-1.45z"/><path id="basee" fill="#8c8c8c" d="M-48.2 -55.0h1.45v1.45h-1.45zM-37.0 -76.5h1.45v1.45h-1.45zM-44.3 -73.6h1.45v1.45h-1.45zM-28.2 -79.0h1.45v1.45h-1.45zM-36.2 -76.1h1.45v1.45h-1.45zM-48.7 -78.2h1.45v1.45h-1.45zM-55.0 -68.2h1.45v1.45h-1.45zM-45.3 -57.4h1.45v1.45h-1.45zM-42.7 -83.5h1.45v1.45h-1.45zM-44.6 -61.4h1.45v1.45h-1.45zM-42.6 -77.4h1.45v1.45h-1.45zM-40.3 -70.7h1.45v1.45h-1.45zM-53.1 -74.6h1.45v1.45h-1.45zM-38.0 -81.2h1.45v1.45h-1.45zM-30.0 -76.1h1.45v1.45h-1.45zM-55.0 -59.6h1.45v1.45h-1.45zM-50.6 -73.1h1.45v1.45h-1.45zM-48.1 -80.9h1.45v1.45h-1.45zM-39.9 -73.6h1.45v1.45h-1.45zM-35.9 -73.4h1.45v1.45h-1.45zM-53.1 -89.8h1.45v1.45h-1.45zM-30.2 -82.6h1.45v1.45h-1.45zM-47.8 -56.4h1.45v1.45h-1.45zM-53.9 -62.6h1.45v1.45h-1.45zM-34.8 -77.7h1.45v1.45h-1.45zM-30.2 -87.4h1.45v1.45h-1.45zM-37.7 -73.5h1.45v1.45h-1.45zM-44.8 -68.2h1.45v1.45h-1.45zM-51.1 -74.7h1.45v1.45h-1.45zM-39.3 -67.6h1.45v1.45h-1.45zM-48.3 -74.3h1.45v1.45h-1.45zM-31.4 -71.4h1.45v1.45h-1.45zM-39.6 -66.5h1.45v1.45h-1.45zM-43.8 -68.3h1.45v1.45h-1.45zM-44.1 -66.1h1.45v1.45h-1.45zM-38.7 -80.8h1.45v1.45h-1.45zM-49.4 -81.6h1.45v1.45h-1.45zM-45.1 -67.9h1.45v1.45h-1.45zM-59.1 -52.0h1.45v1.45h-1.45zM-36.0 -62.3h1.45v1.45h-1.45zM-35.4 -71.2h1.45v1.45h-1.45zM-39.8 -81.1h1.45v1.45h-1.45zM-42.4 -45.4h1.45v1.45h-1.45zM-55.7 -78.3h1.45v1.45h-1.45zM-25.9 -70.0h1.45v1.45h-1.45zM-47.5 -60.0h1.45v1.45h-1.45zM-37.5 -56.8h1.45v1.45h-1.45zM-51.8 -71.8h1.45v1.45h-1.45zM-41.0 -68.8h1.45v1.45h-1.45zM-33.4 -61.1h1.45v1.45h-1.45zM-51.4 -67.5h1.45v1.45h-1.45zM-41.3 -68.1h1.45v1.45h-1.45zM-25.9 -66.1h1.45v1.45h-1.45zM-36.8 -66.2h1.45v1.45h-1.45zM-39.3 -67.3h1.45v1.45h-1.45zM-45.0 -83.4h1.45v1.45h-1.45zM-44.5 -84.1h1.45v1.45h-1.45zM-47.8 -67.1h1.45v1.45h-1.45zM-33.0 -51.5h1.45v1.45h-1.45zM-55.2 -70.9h1.45v1.45h-1.45zM-38.0 -75.2h1.45v1.45h-1.45zM-44.5 -59.6h1.45v1.45h-1.45zM-35.2 -74.2h1.45v1.45h-1.45zM-51.0 -71.4h1.45v1.45h-1.45zM-27.3 -71.7h1.45v1.45h-1.45zM-51.5 -67.4h1.45v1.45h-1.45zM-44.8 -73.4h1.45v1.45h-1.45zM-34.5 -63.4h1.45v1.45h-1.45zM-47.1 -78.8h1.45v1.45h-1.45zM-35.9 -81.4h1.45v1.45h-1.45zM-53.7 -63.2h1.45v1.45h-1.45zM-33.7 -63.3h1.45v1.45h-1.45zM-39.2 -70.3h1.45v1.45h-1.45zM-47.9 -82.3h1.45v1.45h-1.45zM-42.0 -66.7h1.45v1.45h-1.45zM-43.2 -72.7h1.45v1.45h-1.45zM-54.7 -63.9h1.45v1.45h-1.45zM-52.3 -54.1h1.45v1.45h-1.45zM-33.9 -82.0h1.45v1.45h-1.45zM-32.2 -56.8h1.45v1.45h-1.45zM-38.6 -76.1h1.45v1.45h-1.45zM-46.5 -77.2h1.45v1.45h-1.45zM-51.0 -62.3h1.45v1.45h-1.45zM-48.7 -65.0h1.45v1.45h-1.45zM-50.1 -78.3h1.45v1.45h-1.45zM-50.6 -67.1h1.45v1.45h-1.45zM-47.1 -88.0h1.45v1.45h-1.45zM-49.2 -74.4h1.45v1.45h-1.45zM-27.1 -61.4h1.45v1.45h-1.45zM-48.6 -68.1h1.45v1.45h-1.45zM-52.6 -80.4h1.45v1.45h-1.45zM-45.7 -79.0h1.45v1.45h-1.45zM-37.6 -70.9h1.45v1.45h-1.45zM-34.1 -68.4h1.45v1.45h-1.45zM-33.4 -60.5h1.45v1.45h-1.45zM-47.9 -80.2h1.45v1.45h-1.45zM-58.8 -74.5h1.45v1.45h-1.45zM-45.2 -66.5h1.45v1.45h-1.45zM-47.5 -80.8h1.45v1.45h-1.45zM-54.1 -77.2h1.45v1.45h-1.45zM-38.0 -67.4h1.45v1.45h-1.45zM-42.6 -76.2h1.45v1.45h-1.45zM-46.6 -59.0h1.45v1.45h-1.45zM-39.6 -64.2h1.45v1.45h-1.45zM-45.2 -71.2h1.45v1.45h-1.45zM-36.0 -84.8h1.45v1.45h-1.45zM-39.1 -71.7h1.45v1.45h-1.45zM-35.3 -73.0h1.45v1.45h-1.45zM-55.4 -66.1h1.45v1.45h-1.45zM-51.8 -76.2h1.45v1.45h-1.45zM-31.7 -73.5h1.45v1.45h-1.45zM-50.1 -77.0h1.45v1.45h-1.45zM-49.5 -72.7h1.45v1.45h-1.45zM-51.4 -60.0h1.45v1.45h-1.45zM-53.1 -70.9h1.45v1.45h-1.45zM-47.1 -74.1h1.45v1.45h-1.45zM-52.2 -74.6h1.45v1.45h-1.45zM-46.8 -80.5h1.45v1.45h-1.45zM-33.7 -69.1h1.45v1.45h-1.45zM-41.0 -72.7h1.45v1.45h-1.45zM-38.1 -68.6h1.45v1.45h-1.45zM-33.1 -66.8h1.45v1.45h-1.45zM-57.2 -72.7h1.45v1.45h-1.45zM-42.7 -77.2h1.45v1.45h-1.45zM-37.1 -71.8h1.45v1.45h-1.45zM-41.0 -71.7h1.45v1.45h-1.45zM-47.1 -61.3h1.45v1.45h-1.45zM-48.4 -70.1h1.45v1.45h-1.45zM-60.0 -67.4h1.45v1.45h-1.45zM-49.7 -70.1h1.45v1.45h-1.45zM-48.3 -71.2h1.45v1.45h-1.45zM-43.7 -80.8h1.45v1.45h-1.45zM-44.6 -68.9h1.45v1.45h-1.45zM-41.6 -56.7h1.45v1.45h-1.45zM-50.4 -81.9h1.45v1.45h-1.45zM-37.7 -71.4h1.45v1.45h-1.45zM-33.2 -69.4h1.45v1.45h-1.45zM-43.8 -68.4h1.45v1.45h-1.45zM-56.0 -78.0h1.45v1.45h-1.45zM-43.4 -70.0h1.45v1.45h-1.45zM-44.5 -65.8h1.45v1.45h-1.45zM-59.9 -71.9h1.45v1.45h-1.45zM-24.4 -78.4h1.45v1.45h-1.45zM-44.2 -63.6h1.45v1.45h-1.45zM-41.6 -73.6h1.45v1.45h-1.45zM-42.8 -77.2h1.45v1.45h-1.45zM-49.5 -79.0h1.45v1.45h-1.45zM-40.6 -66.5h1.45v1.45h-1.45zM-44.1 -73.5h1.45v1.45h-1.45zM-35.8 -71.3h1.45v1.45h-1.45zM-37.2 -89.4h1.45v1.45h-1.45zM-54.9 -55.2h1.45v1.45h-1.45zM-41.1 -63.3h1.45v1.45h-1.45zM-40.9 -58.3h1.45v1.45h-1.45zM-40.8 -80.9h1.45v1.45h-1.45zM-33.0 -62.3h1.45v1.45h-1.45zM-44.3 -77.6h1.45v1.45h-1.45zM-27.3 -63.4h1.45v1.45h-1.45zM-48.7 -79.4h1.45v1.45h-1.45zM-44.7 -62.8h1.45v1.45h-1.45zM-33.5 -57.7h1.45v1.45h-1.45zM-47.3 -78.3h1.45v1.45h-1.45zM-46.9 -76.7h1.45v1.45h-1.45zM-51.7 -76.8h1.45v1.45h-1.45zM-38.1 -83.3h1.45v1.45h-1.45zM-43.8 -68.0h1.45v1.45h-1.45zM-42.6 -78.9h1.45v1.45h-1.45zM-47.8 -69.7h1.45v1.45h-1.45zM-26.3 -76.8h1.45v1.45h-1.45zM-36.1 -66.7h1.45v1.45h-1.45zM-35.0 -61.7h1.45v1.45h-1.45zM-53.8 -63.5h1.45v1.45h-1.45zM-30.5 -72.1h1.45v1.45h-1.45zM-49.3 -68.0h1.45v1.45h-1.45zM-38.2 -79.9h1.45v1.45h-1.45zM-54.9 -81.1h1.45v1.45h-1.45zM-34.4 -65.4h1.45v1.45h-1.45zM-45.0 -74.6h1.45v1.45h-1.45zM-44.1 -71.8h1.45v1.45h-1.45zM-50.3 -56.6h1.45v1.45h-1.45zM-22.4 -72.1h1.45v1.45h-1.45zM-40.1 -74.7h1.45v1.45h-1.45zM-31.2 -78.0h1.45v1.45h-1.45zM-50.1 -69.9h1.45v1.45h-1.45zM-41.3 -76.7h1.45v1.45h-1.45zM-46.6 -73.7h1.45v1.45h-1.45zM-40.1 -81.5h1.45v1.45h-1.45zM-62.7 -71.4h1.45v1.45h-1.45zM-39.1 -76.0h1.45v1.45h-1.45zM-41.9 -64.3h1.45v1.45h-1.45zM-36.5 -73.6h1.45v1.45h-1.45zM-48.6 -60.2h1.45v1.45h-1.45zM-37.4 -64.0h1.45v1.45h-1.45zM-36.7 -82.5h1.45v1.45h-1.45zM-40.2 -72.5h1.45v1.45h-1.45zM-40.8 -81.5h1.45v1.45h-1.45zM-30.6 -71.4h1.45v1.45h-1.45zM-35.9 -71.1h1.45v1.45h-1.45zM-45.8 -76.7h1.45v1.45h-1.45zM-42.6 -64.2h1.45v1.45h-1.45zM-53.8 -78.5h1.45v1.45h-1.45zM-49.6 -62.2h1.45v1.45h-1.45zM-44.0 -76.5h1.45v1.45h-1.45zM-55.7 -75.7h1.45v1.45h-1.45zM-38.7 -61.3h1.45v1.45h-1.45zM-51.0 -69.4h1.45v1.45h-1.45zM-26.4 -68.8h1.45v1.45h-1.45zM-33.2 -78.1h1.45v1.45h-1.45zM-54.5 -70.8h1.45v1.45h-1.45zM-34.0 -66.9h1.45v1.45h-1.45zM-32.1 -62.4h1.45v1.45h-1.45zM-53.6 -67.4h1.45v1.45h-1.45zM-36.6 -67.8h1.45v1.45h-1.45zM-34.5 -58.8h1.45v1.45h-1.45zM-46.5 -81.4h1.45v1.45h-1.45zM-61.4 -73.2h1.45v1.45h-1.45zM-48.9 -65.0h1.45v1.45h-1.45zM-44.4 -59.4h1.45v1.45h-1.45zM-34.4 -75.3h1.45v1.45h-1.45zM-32.1 -72.1h1.45v1.45h-1.45zM-49.4 -75.8h1.45v1.45h-1.45zM-52.5 -63.7h1.45v1.45h-1.45zM-25.0 -79.2h1.45v1.45h-1.45zM-38.3 -82.3h1.45v1.45h-1.45zM-44.1 -75.4h1.45v1.45h-1.45zM-48.3 -68.2h1.45v1.45h-1.45zM-41.1 -82.4h1.45v1.45h-1.45zM-47.4 -79.0h1.45v1.45h-1.45zM-41.8 -57.2h1.45v1.45h-1.45zM-57.2 -65.4h1.45v1.45h-1.45zM-33.2 -72.9h1.45v1.45h-1.45zM-27.2 -72.3h1.45v1.45h-1.45zM-30.4 -72.8h1.45v1.45h-1.45zM-49.1 -76.4h1.45v1.45h-1.45zM-47.7 -59.9h1.45v1.45h-1.45zM-47.8 -67.8h1.45v1.45h-1.45zM-39.7 -77.5h1.45v1.45h-1.45zM-36.9 -87.1h1.45v1.45h-1.45zM-57.4 -69.5h1.45v1.45h-1.45zM-21.0 -68.5h1.45v1.45h-1.45zM-51.8 -65.0h1.45v1.45h-1.45zM-49.5 -67.1h1.45v1.45h-1.45zM-27.8 -60.0h1.45v1.45h-1.45zM-47.3 -82.0h1.45v1.45h-1.45zM-39.3 -73.5h1.45v1.45h-1.45zM-44.7 -78.3h1.45v1.45h-1.45zM-49.8 -78.4h1.45v1.45h-1.45zM-40.7 -69.5h1.45v1.45h-1.45zM-46.0 -78.3h1.45v1.45h-1.45zM-38.9 -67.9h1.45v1.45h-1.45zM-40.7 -62.8h1.45v1.45h-1.45zM-31.4 -81.7h1.45v1.45h-1.45zM-32.5 -73.2h1.45v1.45h-1.45zM-37.5 -60.4h1.45v1.45h-1.45zM-44.5 -69.1h1.45v1.45h-1.45zM-42.7 -75.9h1.45v1.45h-1.45zM-45.1 -65.3h1.45v1.45h-1.45zM-31.9 -68.6h1.45v1.45h-1.45zM-46.7 -55.3h1.45v1.45h-1.45zM-52.5 -69.2h1.45v1.45h-1.45zM-39.4 -57.1h1.45v1.45h-1.45zM-41.8 -73.5h1.45v1.45h-1.45zM-45.7 -71.4h1.45v1.45h-1.45zM-30.4 -65.1h1.45v1.45h-1.45zM-55.2 -68.0h1.45v1.45h-1.45zM-48.8 -70.5h1.45v1.45h-1.45zM-36.1 -77.8h1.45v1.45h-1.45zM-39.1 -81.8h1.45v1.45h-1.45zM-38.8 -78.9h1.45v1.45h-1.45zM-38.9 -73.0h1.45v1.45h-1.45zM-33.8 -88.6h1.45v1.45h-1.45zM-29.5 -44.5h1.45v1.45h-1.45zM-49.5 -70.9h1.45v1.45h-1.45zM-42.4 -75.4h1.45v1.45h-1.45zM-67.0 -87.9h1.45v1.45h-1.45zM-17.5 -39.5h1.45v1.45h-1.45zM-45.7 -51.0h1.45v1.45h-1.45zM-46.6 -72.7h1.45v1.45h-1.45zM-48.1 -47.1h1.45v1.45h-1.45zM-32.1 -78.3h1.45v1.45h-1.45zM-46.9 -64.1h1.45v1.45h-1.45zM-59.8 -73.9h1.45v1.45h-1.45zM-11.0 -68.5h1.45v1.45h-1.45zM-41.6 -32.0h1.45v1.45h-1.45zM-45.0 -31.7h1.45v1.45h-1.45zM-30.5 -85.2h1.45v1.45h-1.45zM-22.3 -62.6h1.45v1.45h-1.45zM-34.3 -50.8h1.45v1.45h-1.45zM-37.8 -63.5h1.45v1.45h-1.45zM-41.1 -22.8h1.45v1.45h-1.45zM-37.5 -66.3h1.45v1.45h-1.45zM-51.3 -65.8h1.45v1.45h-1.45zM-30.6 -29.4h1.45v1.45h-1.45zM-29.5 -52.1h1.45v1.45h-1.45zM-57.4 -61.0h1.45v1.45h-1.45zM-52.9 -51.9h1.45v1.45h-1.45zM-56.1 -48.9h1.45v1.45h-1.45zM-58.9 -50.0h1.45v1.45h-1.45zM-57.3 -39.4h1.45v1.45h-1.45zM-28.3 -58.9h1.45v1.45h-1.45zM-36.8 -83.0h1.45v1.45h-1.45zM-33.4 -59.0h1.45v1.45h-1.45zM-56.9 -70.0h1.45v1.45h-1.45zM-35.8 -73.4h1.45v1.45h-1.45zM-43.9 -53.7h1.45v1.45h-1.45zM-70.1 -66.6h1.45v1.45h-1.45zM-62.9 -51.7h1.45v1.45h-1.45zM-35.9 -59.5h1.45v1.45h-1.45zM-43.8 -64.7h1.45v1.45h-1.45zM-66.3 -59.1h1.45v1.45h-1.45zM-25.8 -74.7h1.45v1.45h-1.45zM-62.7 -71.7h1.45v1.45h-1.45zM-36.8 -44.5h1.45v1.45h-1.45zM-60.9 -56.3h1.45v1.45h-1.45zM-24.1 -65.1h1.45v1.45h-1.45zM-55.3 -59.8h1.45v1.45h-1.45zM-28.6 -57.1h1.45v1.45h-1.45zM-48.9 -64.8h1.45v1.45h-1.45zM-70.6 -64.5h1.45v1.45h-1.45zM-61.0 -57.1h1.45v1.45h-1.45zM-37.9 -56.3h1.45v1.45h-1.45zM-52.8 -52.9h1.45v1.45h-1.45zM-31.8 -39.2h1.45v1.45h-1.45zM-54.7 -62.8h1.45v1.45h-1.45zM-32.0 -58.1h1.45v1.45h-1.45zM-49.8 -68.2h1.45v1.45h-1.45zM-47.9 -87.2h1.45v1.45h-1.45zM-24.8 -85.0h1.45v1.45h-1.45zM-55.4 -51.7h1.45v1.45h-1.45zM-46.2 -40.9h1.45v1.45h-1.45zM-49.6 -71.9h1.45v1.45h-1.45zM-56.1 -54.4h1.45v1.45h-1.45zM-22.4 -62.9h1.45v1.45h-1.45zM-35.7 -58.8h1.45v1.45h-1.45zM-50.9 -53.4h1.45v1.45h-1.45zM-38.9 -50.3h1.45v1.45h-1.45zM-41.8 -52.2h1.45v1.45h-1.45zM-43.6 -80.6h1.45v1.45h-1.45zM-34.2 -40.3h1.45v1.45h-1.45zM-44.9 -84.5h1.45v1.45h-1.45zM-12.2 10.8h1.45v1.45h-1.45zM-12.5 20.7h1.45v1.45h-1.45zM-12.9 15.6h1.45v1.45h-1.45zM-15.7 -2.1h1.45v1.45h-1.45zM-13.9 18.1h1.45v1.45h-1.45zM-15.0 7.3h1.45v1.45h-1.45zM-10.8 16.0h1.45v1.45h-1.45zM-16.1 9.7h1.45v1.45h-1.45zM-14.0 0.7h1.45v1.45h-1.45zM-13.1 7.7h1.45v1.45h-1.45zM-15.4 1.7h1.45v1.45h-1.45zM-11.5 20.5h1.45v1.45h-1.45zM-14.3 4.3h1.45v1.45h-1.45zM-10.0 7.6h1.45v1.45h-1.45zM-8.4 26.5h1.45v1.45h-1.45zM-15.2 6.3h1.45v1.45h-1.45zM-14.1 16.0h1.45v1.45h-1.45zM-15.3 8.9h1.45v1.45h-1.45zM-10.2 9.6h1.45v1.45h-1.45zM-10.4 29.6h1.45v1.45h-1.45zM-14.2 16.2h1.45v1.45h-1.45zM-13.7 11.8h1.45v1.45h-1.45zM-13.1 28.3h1.45v1.45h-1.45zM-14.8 15.9h1.45v1.45h-1.45zM-5.8 25.6h1.45v1.45h-1.45zM-11.2 3.2h1.45v1.45h-1.45zM-18.2 15.3h1.45v1.45h-1.45zM-11.5 17.6h1.45v1.45h-1.45zM-14.1 19.4h1.45v1.45h-1.45zM-8.2 11.9h1.45v1.45h-1.45zM-13.0 12.8h1.45v1.45h-1.45zM-8.6 20.6h1.45v1.45h-1.45zM-13.3 12.2h1.45v1.45h-1.45zM-14.0 17.4h1.45v1.45h-1.45zM-8.0 11.8h1.45v1.45h-1.45zM-11.5 13.5h1.45v1.45h-1.45zM-11.3 20.2h1.45v1.45h-1.45zM-8.0 25.2h1.45v1.45h-1.45zM-11.0 18.0h1.45v1.45h-1.45zM-9.4 12.2h1.45v1.45h-1.45zM-11.7 8.7h1.45v1.45h-1.45zM-14.0 27.3h1.45v1.45h-1.45zM-14.4 23.5h1.45v1.45h-1.45zM-10.0 21.5h1.45v1.45h-1.45zM-12.9 15.5h1.45v1.45h-1.45zM-14.5 23.0h1.45v1.45h-1.45zM-9.2 25.9h1.45v1.45h-1.45zM-11.4 14.2h1.45v1.45h-1.45zM-15.5 13.8h1.45v1.45h-1.45zM-18.2 16.8h1.45v1.45h-1.45zM-13.6 9.7h1.45v1.45h-1.45zM-13.0 13.7h1.45v1.45h-1.45zM-14.2 10.6h1.45v1.45h-1.45zM-14.8 15.6h1.45v1.45h-1.45zM-12.1 17.5h1.45v1.45h-1.45zM-14.8 8.3h1.45v1.45h-1.45zM-16.4 27.8h1.45v1.45h-1.45zM-14.6 18.1h1.45v1.45h-1.45zM-9.6 10.2h1.45v1.45h-1.45zM-9.2 21.6h1.45v1.45h-1.45zM-16.5 5.9h1.45v1.45h-1.45zM-10.9 19.0h1.45v1.45h-1.45zM-14.8 22.5h1.45v1.45h-1.45zM-15.2 9.3h1.45v1.45h-1.45zM-10.8 20.5h1.45v1.45h-1.45zM-12.5 14.3h1.45v1.45h-1.45zM-11.0 2.8h1.45v1.45h-1.45zM-9.1 28.5h1.45v1.45h-1.45zM-12.1 14.5h1.45v1.45h-1.45zM-9.2 7.2h1.45v1.45h-1.45zM-18.3 6.5h1.45v1.45h-1.45zM-11.0 17.6h1.45v1.45h-1.45zM-6.3 32.4h1.45v1.45h-1.45zM-3.1 53.0h1.45v1.45h-1.45zM-11.7 19.2h1.45v1.45h-1.45zM-4.5 56.1h1.45v1.45h-1.45zM-6.3 38.9h1.45v1.45h-1.45zM-14.2 2.7h1.45v1.45h-1.45zM-11.5 7.3h1.45v1.45h-1.45zM-14.2 -2.8h1.45v1.45h-1.45zM-11.1 1.3h1.45v1.45h-1.45zM-7.6 36.9h1.45v1.45h-1.45zM-11.8 6.8h1.45v1.45h-1.45zM-4.8 41.3h1.45v1.45h-1.45zM-10.9 15.5h1.45v1.45h-1.45zM-2.7 49.4h1.45v1.45h-1.45zM-13.7 15.8h1.45v1.45h-1.45zM-7.2 36.9h1.45v1.45h-1.45zM-0.4 50.4h1.45v1.45h-1.45zM-2.6 51.0h1.45v1.45h-1.45zM-3.6 51.1h1.45v1.45h-1.45zM-4.1 39.8h1.45v1.45h-1.45zM-9.0 26.1h1.45v1.45h-1.45zM-10.8 26.0h1.45v1.45h-1.45zM-3.1 52.1h1.45v1.45h-1.45zM-11.9 3.1h1.45v1.45h-1.45zM-10.6 20.3h1.45v1.45h-1.45zM-9.2 9.8h1.45v1.45h-1.45zM-9.8 19.0h1.45v1.45h-1.45zM-6.1 39.7h1.45v1.45h-1.45zM-5.7 46.3h1.45v1.45h-1.45zM-1.1 45.5h1.45v1.45h-1.45zM-10.7 -4.2h1.45v1.45h-1.45zM-10.3 29.2h1.45v1.45h-1.45zM-8.5 27.8h1.45v1.45h-1.45zM-14.2 6.2h1.45v1.45h-1.45zM-10.7 6.3h1.45v1.45h-1.45zM-13.1 5.6h1.45v1.45h-1.45zM-8.5 19.2h1.45v1.45h-1.45zM-13.9 1.7h1.45v1.45h-1.45zM-16.0 -1.1h1.45v1.45h-1.45zM-9.1 10.8h1.45v1.45h-1.45zM-5.7 39.7h1.45v1.45h-1.45zM-13.0 6.7h1.45v1.45h-1.45zM-9.1 31.9h1.45v1.45h-1.45zM-10.0 17.0h1.45v1.45h-1.45zM-1.5 50.9h1.45v1.45h-1.45zM-5.4 45.0h1.45v1.45h-1.45zM-9.2 3.6h1.45v1.45h-1.45zM0.1 54.8h1.45v1.45h-1.45zM-7.7 29.4h1.45v1.45h-1.45zM-9.7 15.4h1.45v1.45h-1.45zM-5.6 44.3h1.45v1.45h-1.45zM-11.6 6.4h1.45v1.45h-1.45zM-11.8 20.6h1.45v1.45h-1.45zM-13.6 11.2h1.45v1.45h-1.45zM-1.6 39.5h1.45v1.45h-1.45zM-11.6 9.7h1.45v1.45h-1.45zM-6.6 28.9h1.45v1.45h-1.45zM-8.4 34.5h1.45v1.45h-1.45zM-10.0 15.4h1.45v1.45h-1.45zM-11.8 11.7h1.45v1.45h-1.45zM-4.9 63.5h1.45v1.45h-1.45zM-9.3 25.7h1.45v1.45h-1.45zM-12.8 6.1h1.45v1.45h-1.45zM-10.2 20.1h1.45v1.45h-1.45zM-7.3 23.3h1.45v1.45h-1.45zM-6.4 32.2h1.45v1.45h-1.45zM-14.8 8.8h1.45v1.45h-1.45zM-7.4 39.2h1.45v1.45h-1.45zM-2.0 60.9h1.45v1.45h-1.45zM-13.8 1.2h1.45v1.45h-1.45zM-7.6 32.5h1.45v1.45h-1.45zM-12.1 22.1h1.45v1.45h-1.45zM-5.8 39.2h1.45v1.45h-1.45zM-10.0 23.5h1.45v1.45h-1.45zM-13.9 21.2h1.45v1.45h-1.45zM-15.6 13.5h1.45v1.45h-1.45zM-13.9 15.5h1.45v1.45h-1.45zM-12.2 17.9h1.45v1.45h-1.45zM-15.1 7.7h1.45v1.45h-1.45zM-10.1 29.3h1.45v1.45h-1.45zM-12.9 19.0h1.45v1.45h-1.45zM-5.7 46.7h1.45v1.45h-1.45zM-8.9 21.6h1.45v1.45h-1.45zM-12.3 5.8h1.45v1.45h-1.45zM-10.6 33.1h1.45v1.45h-1.45zM-10.4 11.5h1.45v1.45h-1.45zM-8.1 17.6h1.45v1.45h-1.45zM-7.8 38.4h1.45v1.45h-1.45zM-1.0 49.2h1.45v1.45h-1.45zM-13.9 1.3h1.45v1.45h-1.45zM-14.9 7.1h1.45v1.45h-1.45zM-11.6 -0.4h1.45v1.45h-1.45zM-4.2 50.5h1.45v1.45h-1.45zM-10.8 21.3h1.45v1.45h-1.45zM-5.9 23.7h1.45v1.45h-1.45zM-10.0 7.4h1.45v1.45h-1.45zM-14.6 0.5h1.45v1.45h-1.45zM-8.2 35.5h1.45v1.45h-1.45zM-13.7 2.3h1.45v1.45h-1.45zM-8.4 26.6h1.45v1.45h-1.45zM-9.1 17.1h1.45v1.45h-1.45zM-15.2 17.5h1.45v1.45h-1.45zM-12.2 6.4h1.45v1.45h-1.45zM-9.1 22.8h1.45v1.45h-1.45zM-5.0 48.3h1.45v1.45h-1.45zM-12.7 5.6h1.45v1.45h-1.45zM-11.8 5.6h1.45v1.45h-1.45zM-14.3 12.9h1.45v1.45h-1.45zM-9.3 36.0h1.45v1.45h-1.45zM-14.6 -0.7h1.45v1.45h-1.45zM-11.4 15.8h1.45v1.45h-1.45zM-2.9 56.6h1.45v1.45h-1.45zM-2.7 53.8h1.45v1.45h-1.45zM-9.5 4.7h1.45v1.45h-1.45zM-11.2 18.5h1.45v1.45h-1.45zM-8.6 25.5h1.45v1.45h-1.45zM-4.0 42.9h1.45v1.45h-1.45zM-11.8 15.2h1.45v1.45h-1.45zM1.5 72.9h1.45v1.45h-1.45zM0.9 73.7h1.45v1.45h-1.45zM1.6 75.9h1.45v1.45h-1.45zM1.8 73.9h1.45v1.45h-1.45zM-0.0 75.1h1.45v1.45h-1.45zM-2.1 74.2h1.45v1.45h-1.45zM1.2 72.9h1.45v1.45h-1.45zM1.4 73.8h1.45v1.45h-1.45zM0.5 73.6h1.45v1.45h-1.45zM-1.3 73.6h1.45v1.45h-1.45zM-0.4 72.1h1.45v1.45h-1.45zM-0.1 73.5h1.45v1.45h-1.45zM1.0 71.9h1.45v1.45h-1.45zM0.0 73.6h1.45v1.45h-1.45zM0.4 71.8h1.45v1.45h-1.45zM-1.1 75.2h1.45v1.45h-1.45zM4.3 73.6h1.45v1.45h-1.45zM0.3 76.8h1.45v1.45h-1.45zM-0.4 73.6h1.45v1.45h-1.45zM-0.6 74.1h1.45v1.45h-1.45zM-0.1 72.9h1.45v1.45h-1.45zM1.5 75.4h1.45v1.45h-1.45zM-1.6 72.6h1.45v1.45h-1.45zM0.4 74.8h1.45v1.45h-1.45zM-1.8 74.7h1.45v1.45h-1.45zM0.2 72.5h1.45v1.45h-1.45zM1.6 72.3h1.45v1.45h-1.45zM-1.2 70.6h1.45v1.45h-1.45zM1.1 73.6h1.45v1.45h-1.45zM-0.1 72.0h1.45v1.45h-1.45zM-0.4 74.0h1.45v1.45h-1.45zM0.3 71.1h1.45v1.45h-1.45zM-1.8 71.8h1.45v1.45h-1.45zM-2.7 74.9h1.45v1.45h-1.45zM0.4 71.9h1.45v1.45h-1.45zM95.0 -26.6h1.45v1.45h-1.45zM94.4 -33.1h1.45v1.45h-1.45zM92.2 -31.0h1.45v1.45h-1.45zM93.5 -32.8h1.45v1.45h-1.45zM93.8 -28.9h1.45v1.45h-1.45zM97.1 -32.3h1.45v1.45h-1.45zM93.9 -26.4h1.45v1.45h-1.45zM91.9 -30.8h1.45v1.45h-1.45zM95.2 -27.4h1.45v1.45h-1.45zM96.4 -31.0h1.45v1.45h-1.45zM93.7 -29.8h1.45v1.45h-1.45zM94.8 -28.9h1.45v1.45h-1.45zM95.6 -29.7h1.45v1.45h-1.45zM94.2 -31.7h1.45v1.45h-1.45zM95.2 -27.3h1.45v1.45h-1.45zM94.5 -28.1h1.45v1.45h-1.45zM94.7 -30.8h1.45v1.45h-1.45zM92.3 -31.8h1.45v1.45h-1.45zM97.3 -30.7h1.45v1.45h-1.45zM92.7 -29.7h1.45v1.45h-1.45zM94.9 -30.9h1.45v1.45h-1.45zM95.3 -28.7h1.45v1.45h-1.45zM93.7 -31.3h1.45v1.45h-1.45zM99.1 -30.5h1.45v1.45h-1.45zM91.2 -33.2h1.45v1.45h-1.45zM89.6 -34.9h1.45v1.45h-1.45zM87.5 -31.1h1.45v1.45h-1.45zM88.5 -32.8h1.45v1.45h-1.45zM88.2 -31.0h1.45v1.45h-1.45zM87.0 -32.5h1.45v1.45h-1.45zM88.8 -34.7h1.45v1.45h-1.45zM91.2 -34.2h1.45v1.45h-1.45zM96.3 -21.1h1.45v1.45h-1.45zM95.9 -18.5h1.45v1.45h-1.45zM96.3 -19.2h1.45v1.45h-1.45zM96.6 -22.9h1.45v1.45h-1.45zM95.7 -20.7h1.45v1.45h-1.45zM96.7 -24.2h1.45v1.45h-1.45zM96.3 -24.6h1.45v1.45h-1.45zM84.9 9.3h1.45v1.45h-1.45zM88.0 0.1h1.45v1.45h-1.45zM87.3 4.9h1.45v1.45h-1.45zM88.9 0.3h1.45v1.45h-1.45zM91.3 -5.2h1.45v1.45h-1.45zM86.7 8.8h1.45v1.45h-1.45zM91.8 -9.3h1.45v1.45h-1.45zM85.1 3.6h1.45v1.45h-1.45zM91.9 -8.5h1.45v1.45h-1.45zM88.5 -1.3h1.45v1.45h-1.45zM86.8 -0.1h1.45v1.45h-1.45zM90.6 -4.9h1.45v1.45h-1.45zM92.9 -8.9h1.45v1.45h-1.45zM86.8 2.7h1.45v1.45h-1.45zM88.8 -0.1h1.45v1.45h-1.45zM88.0 3.4h1.45v1.45h-1.45zM89.0 -1.3h1.45v1.45h-1.45zM87.1 4.8h1.45v1.45h-1.45zM86.5 4.3h1.45v1.45h-1.45zM89.0 -2.6h1.45v1.45h-1.45zM85.7 7.2h1.45v1.45h-1.45zM86.0 7.6h1.45v1.45h-1.45zM88.6 -0.7h1.45v1.45h-1.45zM85.1 6.6h1.45v1.45h-1.45zM26.6 7.7h1.45v1.45h-1.45zM25.3 -1.4h1.45v1.45h-1.45zM52.3 -5.4h1.45v1.45h-1.45zM61.7 -16.7h1.45v1.45h-1.45zM72.7 -10.0h1.45v1.45h-1.45zM20.0 -2.8h1.45v1.45h-1.45zM77.5 -2.1h1.45v1.45h-1.45zM87.9 -15.8h1.45v1.45h-1.45zM34.4 7.7h1.45v1.45h-1.45zM27.9 -0.7h1.45v1.45h-1.45zM41.6 6.1h1.45v1.45h-1.45zM65.3 -20.8h1.45v1.45h-1.45zM73.7 -20.7h1.45v1.45h-1.45zM78.1 -15.8h1.45v1.45h-1.45zM76.0 -29.4h1.45v1.45h-1.45zM75.8 -15.5h1.45v1.45h-1.45zM79.6 -29.1h1.45v1.45h-1.45zM83.3 -7.4h1.45v1.45h-1.45zM79.2 -8.6h1.45v1.45h-1.45zM76.1 -13.6h1.45v1.45h-1.45zM6.1 64.5h1.45v1.45h-1.45zM7.7 59.9h1.45v1.45h-1.45zM8.7 67.8h1.45v1.45h-1.45zM20.7 61.2h1.45v1.45h-1.45zM16.1 59.0h1.45v1.45h-1.45zM30.8 56.5h1.45v1.45h-1.45zM17.2 59.4h1.45v1.45h-1.45zM9.2 66.3h1.45v1.45h-1.45zM56.6 -10.9h1.45v1.45h-1.45zM46.2 12.2h1.45v1.45h-1.45zM48.1 11.5h1.45v1.45h-1.45zM39.2 55.3h1.45v1.45h-1.45zM17.4 9.6h1.45v1.45h-1.45zM24.2 34.3h1.45v1.45h-1.45zM23.8 6.9h1.45v1.45h-1.45zM25.3 35.1h1.45v1.45h-1.45zM55.5 22.8h1.45v1.45h-1.45zM37.0 -1.6h1.45v1.45h-1.45zM28.5 56.6h1.45v1.45h-1.45zM45.1 46.3h1.45v1.45h-1.45zM47.7 62.1h1.45v1.45h-1.45zM50.7 26.5h1.45v1.45h-1.45zM41.0 -8.6h1.45v1.45h-1.45zM55.0 5.9h1.45v1.45h-1.45zM37.6 50.2h1.45v1.45h-1.45zM52.5 61.8h1.45v1.45h-1.45zM48.2 5.3h1.45v1.45h-1.45zM31.7 -2.5h1.45v1.45h-1.45zM16.1 21.1h1.45v1.45h-1.45zM34.9 54.0h1.45v1.45h-1.45zM24.8 48.0h1.45v1.45h-1.45zM27.3 45.5h1.45v1.45h-1.45zM7.5 54.0h1.45v1.45h-1.45zM25.1 51.3h1.45v1.45h-1.45zM34.3 47.7h1.45v1.45h-1.45zM23.6 51.1h1.45v1.45h-1.45zM3.2 62.6h1.45v1.45h-1.45zM20.4 44.7h1.45v1.45h-1.45zM13.0 56.7h1.45v1.45h-1.45zM11.2 64.4h1.45v1.45h-1.45zM24.5 11.2h1.45v1.45h-1.45zM7.5 47.2h1.45v1.45h-1.45zM22.9 31.8h1.45v1.45h-1.45zM9.2 -23.7h1.45v1.45h-1.45zM28.7 -13.5h1.45v1.45h-1.45zM-64.8 -16.6h1.45v1.45h-1.45zM13.4 -18.2h1.45v1.45h-1.45zM-49.5 -7.6h1.45v1.45h-1.45zM31.0 55.2h1.45v1.45h-1.45zM-10.1 -39.2h1.45v1.45h-1.45zM27.9 25.7h1.45v1.45h-1.45zM25.2 -18.0h1.45v1.45h-1.45zM-59.7 30.7h1.45v1.45h-1.45zM11.6 46.6h1.45v1.45h-1.45zM-36.5 -30.9h1.45v1.45h-1.45zM-26.2 58.8h1.45v1.45h-1.45zM-60.2 18.6h1.45v1.45h-1.45zM-53.4 41.7h1.45v1.45h-1.45zM-47.1 67.4h1.45v1.45h-1.45zM-8.3 57.3h1.45v1.45h-1.45zM34.4 18.7h1.45v1.45h-1.45zM14.3 40.4h1.45v1.45h-1.45zM-65.0 17.2h1.45v1.45h-1.45zM23.9 47.9h1.45v1.45h-1.45zM25.3 1.4h1.45v1.45h-1.45zM-57.3 -11.5h1.45v1.45h-1.45zM14.3 44.5h1.45v1.45h-1.45zM23.8 28.1h1.45v1.45h-1.45zM3.7 54.0h1.45v1.45h-1.45zM-47.5 41.9h1.45v1.45h-1.45zM32.5 18.6h1.45v1.45h-1.45zM-1.8 57.6h1.45v1.45h-1.45zM20.5 -1.1h1.45v1.45h-1.45z"/></defs><rect x="33.3" y="2.5" width="187.9" height="186.6" fill="none" stroke="#d0d0d0" stroke-width="1.1"/><rect x="33.9" y="16.4" width="5" height="1.3" fill="#2a2a2a"/><rect x="33.9" y="43.5" width="5" height="1.3" fill="#2a2a2a"/><rect x="33.9" y="70.7" width="5" height="1.3" fill="#2a2a2a"/><rect x="33.9" y="97.8" width="5" height="1.3" fill="#2a2a2a"/><rect x="33.9" y="125.0" width="5" height="1.3" fill="#2a2a2a"/><rect x="33.9" y="152.2" width="5" height="1.3" fill="#2a2a2a"/><rect x="33.9" y="179.3" width="5" height="1.3" fill="#2a2a2a"/><rect x="43.6" y="183.6" width="1.3" height="5" fill="#2a2a2a"/><rect x="67.0" y="183.6" width="1.3" height="5" fill="#2a2a2a"/><rect x="90.5" y="183.6" width="1.3" height="5" fill="#2a2a2a"/><rect x="114.0" y="183.6" width="1.3" height="5" fill="#2a2a2a"/><rect x="137.5" y="183.6" width="1.3" height="5" fill="#2a2a2a"/><rect x="161.0" y="183.6" width="1.3" height="5" fill="#2a2a2a"/><rect x="184.5" y="183.6" width="1.3" height="5" fill="#2a2a2a"/><rect x="208.0" y="183.6" width="1.3" height="5" fill="#2a2a2a"/><use href="#base" transform="translate(114.7,98.5)"/><path fill="#ef8a2a" transform="translate(114.7,98.5)" d="M-13.4 19.7h2.2v2.2h-2.2zM-14.8 8.6h2.2v2.2h-2.2zM-14.7 14.3h2.2v2.2h-2.2zM-13.6 19.3h2.2v2.2h-2.2zM-13.4 17.4h2.2v2.2h-2.2zM-13.1 18.0h2.2v2.2h-2.2zM-15.1 14.5h2.2v2.2h-2.2zM-13.9 15.7h2.2v2.2h-2.2zM-11.8 22.5h2.2v2.2h-2.2zM-15.3 8.1h2.2v2.2h-2.2zM-16.0 9.3h2.2v2.2h-2.2zM-17.6 6.9h2.2v2.2h-2.2zM-14.6 16.7h2.2v2.2h-2.2zM-14.9 9.1h2.2v2.2h-2.2zM-15.2 12.2h2.2v2.2h-2.2zM-11.3 24.4h2.2v2.2h-2.2zM-12.7 21.5h2.2v2.2h-2.2zM-15.6 7.7h2.2v2.2h-2.2zM-13.8 24.2h2.2v2.2h-2.2zM-15.7 14.0h2.2v2.2h-2.2zM-16.1 16.1h2.2v2.2h-2.2zM-13.3 22.0h2.2v2.2h-2.2zM-14.0 14.1h2.2v2.2h-2.2zM-17.0 9.2h2.2v2.2h-2.2zM-15.8 10.5h2.2v2.2h-2.2zM-15.8 11.6h2.2v2.2h-2.2zM-13.4 15.5h2.2v2.2h-2.2zM-16.6 6.6h2.2v2.2h-2.2zM-14.4 7.3h2.2v2.2h-2.2zM-12.4 20.8h2.2v2.2h-2.2zM-10.9 24.2h2.2v2.2h-2.2zM-16.1 8.4h2.2v2.2h-2.2zM-11.8 19.1h2.2v2.2h-2.2zM-16.4 13.2h2.2v2.2h-2.2zM-17.2 8.6h2.2v2.2h-2.2zM-14.0 15.0h2.2v2.2h-2.2zM-16.4 6.8h2.2v2.2h-2.2zM-12.2 20.3h2.2v2.2h-2.2zM-12.2 24.3h2.2v2.2h-2.2zM-15.9 6.6h2.2v2.2h-2.2zM-17.8 6.8h2.2v2.2h-2.2zM-12.2 21.1h2.2v2.2h-2.2zM-15.8 6.8h2.2v2.2h-2.2zM-12.9 18.0h2.2v2.2h-2.2zM-14.8 13.7h2.2v2.2h-2.2zM-15.9 8.3h2.2v2.2h-2.2zM-14.7 15.8h2.2v2.2h-2.2zM-15.4 14.4h2.2v2.2h-2.2zM-14.4 13.4h2.2v2.2h-2.2zM-12.2 19.0h2.2v2.2h-2.2zM-14.8 14.7h2.2v2.2h-2.2zM-16.0 13.0h2.2v2.2h-2.2zM-17.4 12.6h2.2v2.2h-2.2zM-16.9 10.9h2.2v2.2h-2.2zM-16.2 7.2h2.2v2.2h-2.2zM-13.8 15.0h2.2v2.2h-2.2zM-11.7 23.2h2.2v2.2h-2.2zM-13.7 20.6h2.2v2.2h-2.2zM-15.6 8.9h2.2v2.2h-2.2zM-13.0 14.8h2.2v2.2h-2.2zM-12.2 21.4h2.2v2.2h-2.2zM-15.4 6.6h2.2v2.2h-2.2zM-14.2 13.5h2.2v2.2h-2.2zM-14.6 17.0h2.2v2.2h-2.2zM-15.4 8.6h2.2v2.2h-2.2zM-11.4 21.1h2.2v2.2h-2.2zM-15.7 7.9h2.2v2.2h-2.2zM-15.2 17.7h2.2v2.2h-2.2zM-15.2 15.7h2.2v2.2h-2.2zM-14.8 10.9h2.2v2.2h-2.2zM-14.1 11.6h2.2v2.2h-2.2zM-14.7 8.5h2.2v2.2h-2.2zM-14.5 18.9h2.2v2.2h-2.2zM-12.3 19.6h2.2v2.2h-2.2zM-13.0 22.5h2.2v2.2h-2.2zM-15.4 8.8h2.2v2.2h-2.2zM-14.4 16.2h2.2v2.2h-2.2zM-11.2 22.6h2.2v2.2h-2.2zM-16.2 12.1h2.2v2.2h-2.2zM-14.3 15.2h2.2v2.2h-2.2zM-12.9 19.3h2.2v2.2h-2.2zM-15.0 15.1h2.2v2.2h-2.2zM-15.9 8.8h2.2v2.2h-2.2zM-11.2 22.8h2.2v2.2h-2.2zM-13.2 19.3h2.2v2.2h-2.2zM-11.3 23.3h2.2v2.2h-2.2zM-12.9 23.2h2.2v2.2h-2.2zM-15.0 16.5h2.2v2.2h-2.2zM-13.8 24.6h2.2v2.2h-2.2zM-14.9 9.9h2.2v2.2h-2.2zM-15.3 12.5h2.2v2.2h-2.2zM-13.1 17.1h2.2v2.2h-2.2zM-15.8 9.8h2.2v2.2h-2.2zM-16.2 8.0h2.2v2.2h-2.2zM-14.0 14.1h2.2v2.2h-2.2zM-13.7 15.9h2.2v2.2h-2.2zM-15.6 12.5h2.2v2.2h-2.2zM-15.0 8.7h2.2v2.2h-2.2zM-13.2 21.5h2.2v2.2h-2.2zM-13.8 18.1h2.2v2.2h-2.2zM-12.6 8.7h2.2v2.2h-2.2zM-11.8 19.0h2.2v2.2h-2.2zM-15.2 10.9h2.2v2.2h-2.2zM-14.0 17.9h2.2v2.2h-2.2zM-13.5 24.4h2.2v2.2h-2.2zM-13.4 23.9h2.2v2.2h-2.2zM-16.0 7.7h2.2v2.2h-2.2zM-16.6 6.6h2.2v2.2h-2.2zM-13.3 22.8h2.2v2.2h-2.2zM-15.8 9.2h2.2v2.2h-2.2zM-12.5 24.6h2.2v2.2h-2.2zM-14.6 12.3h2.2v2.2h-2.2zM-16.8 9.5h2.2v2.2h-2.2zM-16.1 8.4h2.2v2.2h-2.2zM-14.8 22.8h2.2v2.2h-2.2zM-14.6 15.5h2.2v2.2h-2.2zM-13.7 18.7h2.2v2.2h-2.2zM-15.1 18.8h2.2v2.2h-2.2zM-16.2 11.4h2.2v2.2h-2.2zM-16.0 8.7h2.2v2.2h-2.2zM-16.9 9.8h2.2v2.2h-2.2zM-12.0 23.7h2.2v2.2h-2.2zM-12.0 21.1h2.2v2.2h-2.2zM-17.7 8.2h2.2v2.2h-2.2zM-13.9 13.4h2.2v2.2h-2.2zM-16.3 7.0h2.2v2.2h-2.2zM-13.3 24.0h2.2v2.2h-2.2zM-14.5 8.7h2.2v2.2h-2.2zM-16.4 8.1h2.2v2.2h-2.2zM-12.0 23.7h2.2v2.2h-2.2zM-15.6 12.6h2.2v2.2h-2.2zM-16.2 11.7h2.2v2.2h-2.2zM-14.1 25.3h2.2v2.2h-2.2zM-13.4 22.8h2.2v2.2h-2.2zM-13.9 9.8h2.2v2.2h-2.2zM-15.9 13.3h2.2v2.2h-2.2zM-15.2 15.7h2.2v2.2h-2.2zM-15.6 14.5h2.2v2.2h-2.2zM-13.3 18.1h2.2v2.2h-2.2zM-15.2 15.7h2.2v2.2h-2.2zM-14.7 16.7h2.2v2.2h-2.2zM-14.5 17.7h2.2v2.2h-2.2zM-13.7 21.1h2.2v2.2h-2.2zM-14.3 16.6h2.2v2.2h-2.2zM-14.3 21.5h2.2v2.2h-2.2zM-16.8 13.5h2.2v2.2h-2.2zM-13.2 21.0h2.2v2.2h-2.2zM-14.8 11.6h2.2v2.2h-2.2zM-12.5 21.8h2.2v2.2h-2.2zM-15.3 13.6h2.2v2.2h-2.2zM-9.5 32.5h2.2v2.2h-2.2zM-10.3 31.6h2.2v2.2h-2.2zM-10.7 31.1h2.2v2.2h-2.2zM-8.4 33.5h2.2v2.2h-2.2zM-12.2 25.0h2.2v2.2h-2.2zM-14.1 27.3h2.2v2.2h-2.2zM-9.5 31.6h2.2v2.2h-2.2zM1.5 25.4h2.2v2.2h-2.2zM-5.9 8.5h2.2v2.2h-2.2zM-23.4 19.0h2.2v2.2h-2.2zM-1.6 19.2h2.2v2.2h-2.2zM-7.0 32.5h2.2v2.2h-2.2z"/><text class="t" x="218.4" y="17.2" text-anchor="end">SVD components</text><text class="l" x="216.3" y="180.9" text-anchor="end">(a)</text><text class="n" x="31.5" y="19.4" text-anchor="end">0.6</text><text class="n" x="31.5" y="46.6" text-anchor="end">0.4</text><text class="n" x="31.5" y="73.7" text-anchor="end">0.2</text><text class="n" x="31.5" y="100.9" text-anchor="end">0.</text><text class="n" x="31.5" y="128.1" text-anchor="end">-0.2</text><text class="n" x="31.5" y="155.2" text-anchor="end">-0.4</text><text class="n" x="31.5" y="182.4" text-anchor="end">-0.6</text><rect x="232.0" y="4.1" width="187.5" height="185.9" fill="none" stroke="#d0d0d0" stroke-width="1.1"/><rect x="232.6" y="17.4" width="5" height="1.3" fill="#2a2a2a"/><rect x="232.6" y="44.6" width="5" height="1.3" fill="#2a2a2a"/><rect x="232.6" y="71.8" width="5" height="1.3" fill="#2a2a2a"/><rect x="232.6" y="98.9" width="5" height="1.3" fill="#2a2a2a"/><rect x="232.6" y="126.1" width="5" height="1.3" fill="#2a2a2a"/><rect x="232.6" y="153.3" width="5" height="1.3" fill="#2a2a2a"/><rect x="232.6" y="180.5" width="5" height="1.3" fill="#2a2a2a"/><rect x="241.5" y="184.5" width="1.3" height="5" fill="#2a2a2a"/><rect x="265.1" y="184.5" width="1.3" height="5" fill="#2a2a2a"/><rect x="288.6" y="184.5" width="1.3" height="5" fill="#2a2a2a"/><rect x="312.2" y="184.5" width="1.3" height="5" fill="#2a2a2a"/><rect x="335.7" y="184.5" width="1.3" height="5" fill="#2a2a2a"/><rect x="359.3" y="184.5" width="1.3" height="5" fill="#2a2a2a"/><rect x="382.8" y="184.5" width="1.3" height="5" fill="#2a2a2a"/><rect x="406.4" y="184.5" width="1.3" height="5" fill="#2a2a2a"/><use href="#base" transform="translate(312.8,99.6)"/><path fill="#d8302a" transform="translate(312.8,99.6)" d="M-14.0 23.9h2.2v2.2h-2.2zM-18.2 8.7h2.2v2.2h-2.2zM-14.9 17.9h2.2v2.2h-2.2zM-16.9 12.9h2.2v2.2h-2.2zM-16.2 16.3h2.2v2.2h-2.2zM-17.1 11.6h2.2v2.2h-2.2zM-13.2 19.4h2.2v2.2h-2.2zM-15.4 13.0h2.2v2.2h-2.2zM-15.8 8.2h2.2v2.2h-2.2zM-16.2 17.3h2.2v2.2h-2.2zM-13.6 23.5h2.2v2.2h-2.2zM-15.9 11.5h2.2v2.2h-2.2zM-19.5 5.5h2.2v2.2h-2.2zM-13.8 24.0h2.2v2.2h-2.2zM-12.4 23.9h2.2v2.2h-2.2zM-12.3 22.5h2.2v2.2h-2.2zM-14.8 19.3h2.2v2.2h-2.2zM-15.9 11.6h2.2v2.2h-2.2zM-14.4 14.6h2.2v2.2h-2.2zM-16.5 6.6h2.2v2.2h-2.2zM-12.1 24.0h2.2v2.2h-2.2zM-16.9 7.4h2.2v2.2h-2.2zM-13.0 19.5h2.2v2.2h-2.2zM-12.8 20.5h2.2v2.2h-2.2zM-18.0 6.7h2.2v2.2h-2.2zM-16.6 14.4h2.2v2.2h-2.2zM-18.2 5.9h2.2v2.2h-2.2zM-12.6 19.7h2.2v2.2h-2.2zM-18.9 6.7h2.2v2.2h-2.2zM-12.3 20.9h2.2v2.2h-2.2zM-16.2 13.8h2.2v2.2h-2.2zM-18.9 5.8h2.2v2.2h-2.2zM-13.7 20.8h2.2v2.2h-2.2zM-17.3 5.4h2.2v2.2h-2.2zM-16.3 8.5h2.2v2.2h-2.2zM-13.2 26.0h2.2v2.2h-2.2zM-11.7 21.9h2.2v2.2h-2.2zM-12.1 25.0h2.2v2.2h-2.2zM-14.6 10.4h2.2v2.2h-2.2zM-13.8 20.7h2.2v2.2h-2.2zM-17.3 6.2h2.2v2.2h-2.2zM-12.9 26.0h2.2v2.2h-2.2zM-20.1 7.6h2.2v2.2h-2.2zM-13.5 22.2h2.2v2.2h-2.2zM-13.4 22.6h2.2v2.2h-2.2zM-13.1 19.0h2.2v2.2h-2.2zM-16.0 10.6h2.2v2.2h-2.2zM-16.2 12.0h2.2v2.2h-2.2zM-15.8 19.5h2.2v2.2h-2.2zM-17.4 10.9h2.2v2.2h-2.2zM-15.5 14.3h2.2v2.2h-2.2zM-15.4 16.2h2.2v2.2h-2.2zM-12.1 25.4h2.2v2.2h-2.2zM-18.6 6.3h2.2v2.2h-2.2zM-18.8 8.4h2.2v2.2h-2.2zM-9.9 24.0h2.2v2.2h-2.2zM-19.2 8.7h2.2v2.2h-2.2zM-15.2 13.9h2.2v2.2h-2.2zM-16.7 8.2h2.2v2.2h-2.2zM-14.9 20.7h2.2v2.2h-2.2zM-15.3 18.9h2.2v2.2h-2.2zM-15.6 13.0h2.2v2.2h-2.2zM-16.0 12.5h2.2v2.2h-2.2zM-15.0 13.6h2.2v2.2h-2.2zM-16.9 8.9h2.2v2.2h-2.2zM-16.5 11.0h2.2v2.2h-2.2zM-18.2 10.1h2.2v2.2h-2.2zM-15.4 6.4h2.2v2.2h-2.2zM-11.2 23.0h2.2v2.2h-2.2zM-12.2 21.9h2.2v2.2h-2.2zM-17.7 8.8h2.2v2.2h-2.2zM-14.5 24.0h2.2v2.2h-2.2zM-15.0 19.9h2.2v2.2h-2.2zM-17.5 7.0h2.2v2.2h-2.2zM-15.2 16.8h2.2v2.2h-2.2zM-11.5 21.5h2.2v2.2h-2.2zM-18.1 11.3h2.2v2.2h-2.2zM-11.9 23.5h2.2v2.2h-2.2zM-15.7 17.5h2.2v2.2h-2.2zM-17.3 12.9h2.2v2.2h-2.2zM-14.1 22.9h2.2v2.2h-2.2zM-17.5 13.3h2.2v2.2h-2.2zM-10.8 24.8h2.2v2.2h-2.2zM-18.0 8.4h2.2v2.2h-2.2zM-16.5 15.4h2.2v2.2h-2.2zM-13.6 20.4h2.2v2.2h-2.2zM-13.8 18.9h2.2v2.2h-2.2zM-12.9 22.8h2.2v2.2h-2.2zM-12.5 24.3h2.2v2.2h-2.2zM-13.6 21.3h2.2v2.2h-2.2zM-16.1 7.6h2.2v2.2h-2.2zM-16.5 9.8h2.2v2.2h-2.2zM-17.1 10.3h2.2v2.2h-2.2zM-16.7 12.8h2.2v2.2h-2.2zM-16.7 11.2h2.2v2.2h-2.2zM-19.9 11.2h2.2v2.2h-2.2zM-18.3 6.5h2.2v2.2h-2.2zM-11.8 18.8h2.2v2.2h-2.2zM-16.8 7.6h2.2v2.2h-2.2zM-9.4 24.4h2.2v2.2h-2.2zM-14.6 19.5h2.2v2.2h-2.2zM-17.8 5.3h2.2v2.2h-2.2zM-12.3 21.3h2.2v2.2h-2.2zM-13.9 8.4h2.2v2.2h-2.2zM-9.7 25.0h2.2v2.2h-2.2zM-16.2 14.6h2.2v2.2h-2.2zM-13.8 22.6h2.2v2.2h-2.2zM-17.3 13.8h2.2v2.2h-2.2zM-15.5 14.4h2.2v2.2h-2.2zM-12.4 24.6h2.2v2.2h-2.2zM-20.2 6.4h2.2v2.2h-2.2zM-18.6 7.7h2.2v2.2h-2.2zM-17.9 8.5h2.2v2.2h-2.2zM-16.9 5.9h2.2v2.2h-2.2zM-17.6 15.8h2.2v2.2h-2.2zM-16.1 10.0h2.2v2.2h-2.2zM-16.8 14.7h2.2v2.2h-2.2zM-13.4 18.6h2.2v2.2h-2.2zM-13.2 20.9h2.2v2.2h-2.2zM-14.2 14.9h2.2v2.2h-2.2zM-17.0 10.5h2.2v2.2h-2.2zM-14.1 23.5h2.2v2.2h-2.2zM-15.8 11.0h2.2v2.2h-2.2zM-12.0 23.2h2.2v2.2h-2.2zM-15.0 21.5h2.2v2.2h-2.2zM-14.8 15.6h2.2v2.2h-2.2zM-17.2 4.6h2.2v2.2h-2.2zM-13.7 21.9h2.2v2.2h-2.2zM-13.6 21.0h2.2v2.2h-2.2zM-17.5 5.1h2.2v2.2h-2.2zM-2.4 55.9h2.2v2.2h-2.2zM2.5 54.6h2.2v2.2h-2.2zM-7.6 13.9h2.2v2.2h-2.2zM-12.5 11.6h2.2v2.2h-2.2zM-14.6 33.4h2.2v2.2h-2.2zM-12.3 -0.5h2.2v2.2h-2.2zM-3.1 38.9h2.2v2.2h-2.2zM-2.1 55.6h2.2v2.2h-2.2zM-13.7 26.9h2.2v2.2h-2.2zM-2.7 52.4h2.2v2.2h-2.2zM-12.5 2.0h2.2v2.2h-2.2zM-1.4 47.0h2.2v2.2h-2.2zM-5.6 40.2h2.2v2.2h-2.2zM-10.3 24.9h2.2v2.2h-2.2zM-13.5 29.5h2.2v2.2h-2.2zM-10.9 37.4h2.2v2.2h-2.2zM-21.6 -19.3h2.2v2.2h-2.2zM-21.7 -11.0h2.2v2.2h-2.2zM-18.2 -13.0h2.2v2.2h-2.2z"/><text class="t" x="414.4" y="18.6" text-anchor="end">Bases learned from</text><text class="t" x="414.4" y="32.1" text-anchor="end">SVD initializing method</text><text class="l" x="415.8" y="180.9" text-anchor="end">(c)</text><rect x="428.2" y="4.0" width="187.3" height="186.2" fill="none" stroke="#d0d0d0" stroke-width="1.1"/><rect x="428.8" y="16.9" width="5" height="1.3" fill="#2a2a2a"/><rect x="428.8" y="44.1" width="5" height="1.3" fill="#2a2a2a"/><rect x="428.8" y="71.3" width="5" height="1.3" fill="#2a2a2a"/><rect x="428.8" y="98.6" width="5" height="1.3" fill="#2a2a2a"/><rect x="428.8" y="125.8" width="5" height="1.3" fill="#2a2a2a"/><rect x="428.8" y="153.1" width="5" height="1.3" fill="#2a2a2a"/><rect x="428.8" y="180.3" width="5" height="1.3" fill="#2a2a2a"/><rect x="438.2" y="184.7" width="1.3" height="5" fill="#2a2a2a"/><rect x="461.8" y="184.7" width="1.3" height="5" fill="#2a2a2a"/><rect x="485.4" y="184.7" width="1.3" height="5" fill="#2a2a2a"/><rect x="509.0" y="184.7" width="1.3" height="5" fill="#2a2a2a"/><rect x="532.6" y="184.7" width="1.3" height="5" fill="#2a2a2a"/><rect x="556.1" y="184.7" width="1.3" height="5" fill="#2a2a2a"/><rect x="579.8" y="184.7" width="1.3" height="5" fill="#2a2a2a"/><rect x="603.4" y="184.7" width="1.3" height="5" fill="#2a2a2a"/><use href="#basee" transform="translate(509.6,99.2)"/><path fill="#40b4c8" transform="translate(509.6,99.2)" d="M-25.8 3.0h1.8v1.8h-1.8zM-14.4 29.8h1.8v1.8h-1.8zM14.9 33.6h1.8v1.8h-1.8zM-22.1 -5.5h1.8v1.8h-1.8zM-28.2 15.7h1.8v1.8h-1.8zM-24.8 -1.1h1.8v1.8h-1.8zM-8.9 32.3h1.8v1.8h-1.8zM-25.5 -2.8h1.8v1.8h-1.8zM-13.6 -6.3h1.8v1.8h-1.8zM-38.0 -0.1h1.8v1.8h-1.8zM-31.0 22.6h1.8v1.8h-1.8zM-18.6 23.7h1.8v1.8h-1.8zM-36.7 18.5h1.8v1.8h-1.8zM-9.6 8.2h1.8v1.8h-1.8zM7.3 36.1h1.8v1.8h-1.8zM-6.0 27.9h1.8v1.8h-1.8zM-8.2 11.3h1.8v1.8h-1.8zM-19.0 14.1h1.8v1.8h-1.8zM-16.0 20.7h1.8v1.8h-1.8zM21.3 33.7h1.8v1.8h-1.8zM-24.8 28.7h1.8v1.8h-1.8zM-5.5 20.7h1.8v1.8h-1.8zM-12.5 -6.1h1.8v1.8h-1.8zM-23.9 29.2h1.8v1.8h-1.8zM24.7 44.9h1.8v1.8h-1.8zM-24.0 59.0h1.8v1.8h-1.8zM-34.7 14.8h1.8v1.8h-1.8zM12.1 37.2h1.8v1.8h-1.8zM-38.3 23.2h1.8v1.8h-1.8zM-14.7 27.4h1.8v1.8h-1.8zM-27.3 -6.0h1.8v1.8h-1.8zM-12.4 6.5h1.8v1.8h-1.8zM-37.0 24.2h1.8v1.8h-1.8zM-46.4 12.6h1.8v1.8h-1.8zM-20.9 23.3h1.8v1.8h-1.8zM-12.1 48.4h1.8v1.8h-1.8zM-44.2 11.6h1.8v1.8h-1.8zM-27.3 3.8h1.8v1.8h-1.8zM-23.0 43.9h1.8v1.8h-1.8zM-32.4 33.5h1.8v1.8h-1.8zM-16.5 24.0h1.8v1.8h-1.8zM-17.7 37.9h1.8v1.8h-1.8zM-23.0 -2.7h1.8v1.8h-1.8zM2.2 34.8h1.8v1.8h-1.8zM-21.2 32.2h1.8v1.8h-1.8zM-10.8 23.1h1.8v1.8h-1.8zM-31.0 16.2h1.8v1.8h-1.8zM-37.8 22.0h1.8v1.8h-1.8zM-3.8 5.0h1.8v1.8h-1.8zM-9.8 28.6h1.8v1.8h-1.8zM2.5 -6.8h1.8v1.8h-1.8zM2.9 10.8h1.8v1.8h-1.8zM-20.9 23.3h1.8v1.8h-1.8zM-14.9 30.9h1.8v1.8h-1.8zM-28.0 30.1h1.8v1.8h-1.8zM13.3 29.8h1.8v1.8h-1.8zM-17.2 37.4h1.8v1.8h-1.8zM-34.4 -0.4h1.8v1.8h-1.8zM-20.7 25.4h1.8v1.8h-1.8zM-13.7 -0.0h1.8v1.8h-1.8zM1.3 29.2h1.8v1.8h-1.8zM-12.5 9.9h1.8v1.8h-1.8zM-5.2 24.5h1.8v1.8h-1.8zM8.2 25.0h1.8v1.8h-1.8zM-63.3 -2.0h1.8v1.8h-1.8zM-15.0 41.2h1.8v1.8h-1.8zM-29.4 -1.8h1.8v1.8h-1.8zM-27.7 25.7h1.8v1.8h-1.8zM-29.3 -14.1h1.8v1.8h-1.8zM-12.5 -4.7h1.8v1.8h-1.8zM10.2 21.0h1.8v1.8h-1.8zM-25.9 24.7h1.8v1.8h-1.8zM-35.2 8.9h1.8v1.8h-1.8zM3.6 -14.4h1.8v1.8h-1.8zM-43.5 28.5h1.8v1.8h-1.8zM-14.0 -17.5h1.8v1.8h-1.8zM-17.3 10.4h1.8v1.8h-1.8zM-23.3 30.8h1.8v1.8h-1.8zM-12.6 17.8h1.8v1.8h-1.8zM8.3 38.4h1.8v1.8h-1.8zM-18.5 21.8h1.8v1.8h-1.8zM-13.9 -0.5h1.8v1.8h-1.8zM13.7 23.8h1.8v1.8h-1.8zM-29.5 27.5h1.8v1.8h-1.8zM-5.6 39.0h1.8v1.8h-1.8zM35.1 30.2h1.8v1.8h-1.8zM0.8 12.2h1.8v1.8h-1.8zM11.6 20.0h1.8v1.8h-1.8zM-33.8 11.8h1.8v1.8h-1.8zM-35.8 42.6h1.8v1.8h-1.8zM8.0 7.1h1.8v1.8h-1.8zM-12.7 14.0h1.8v1.8h-1.8zM-30.6 19.7h1.8v1.8h-1.8zM-15.0 48.5h1.8v1.8h-1.8zM-26.7 -6.1h1.8v1.8h-1.8zM-9.3 24.4h1.8v1.8h-1.8zM-26.5 56.1h1.8v1.8h-1.8zM-24.8 15.9h1.8v1.8h-1.8zM-6.1 26.0h1.8v1.8h-1.8zM2.7 42.5h1.8v1.8h-1.8zM0.7 45.6h1.8v1.8h-1.8zM-49.8 15.0h1.8v1.8h-1.8zM5.9 26.3h1.8v1.8h-1.8zM22.7 16.5h1.8v1.8h-1.8zM-25.7 16.5h1.8v1.8h-1.8zM-16.2 5.1h1.8v1.8h-1.8zM-49.0 18.5h1.8v1.8h-1.8zM-28.1 26.7h1.8v1.8h-1.8zM-10.0 7.4h1.8v1.8h-1.8zM-9.0 35.2h1.8v1.8h-1.8zM-6.7 4.1h1.8v1.8h-1.8zM-27.5 19.0h1.8v1.8h-1.8zM-23.5 7.7h1.8v1.8h-1.8zM-19.2 33.4h1.8v1.8h-1.8zM-41.9 25.4h1.8v1.8h-1.8zM-17.5 46.2h1.8v1.8h-1.8zM2.2 15.1h1.8v1.8h-1.8zM-14.4 26.0h1.8v1.8h-1.8zM-24.6 5.1h1.8v1.8h-1.8zM5.3 20.9h1.8v1.8h-1.8zM-16.8 52.0h1.8v1.8h-1.8zM-14.5 -2.5h1.8v1.8h-1.8zM-2.5 11.3h1.8v1.8h-1.8zM-45.2 9.8h1.8v1.8h-1.8zM-46.0 11.3h1.8v1.8h-1.8zM-13.5 -4.2h1.8v1.8h-1.8zM-22.6 -17.6h1.8v1.8h-1.8zM-16.7 18.1h1.8v1.8h-1.8zM-11.8 0.3h1.8v1.8h-1.8zM-14.4 -31.2h1.8v1.8h-1.8zM23.5 -13.7h1.8v1.8h-1.8zM7.8 10.1h1.8v1.8h-1.8zM-16.3 -4.8h1.8v1.8h-1.8zM3.8 20.7h1.8v1.8h-1.8zM-11.9 46.7h1.8v1.8h-1.8zM-18.6 -3.8h1.8v1.8h-1.8zM-30.0 21.2h1.8v1.8h-1.8zM18.8 48.4h1.8v1.8h-1.8zM-11.2 17.5h1.8v1.8h-1.8zM-21.2 24.9h1.8v1.8h-1.8zM-38.0 11.0h1.8v1.8h-1.8zM-19.0 31.5h1.8v1.8h-1.8zM-2.1 -0.2h1.8v1.8h-1.8zM-7.1 -0.6h1.8v1.8h-1.8zM-27.9 38.7h1.8v1.8h-1.8zM4.7 7.0h1.8v1.8h-1.8zM-4.3 12.5h1.8v1.8h-1.8zM-19.9 7.8h1.8v1.8h-1.8zM3.8 8.9h1.8v1.8h-1.8zM-15.2 3.0h1.8v1.8h-1.8zM11.9 50.7h1.8v1.8h-1.8zM-36.3 2.7h1.8v1.8h-1.8zM-3.5 20.3h1.8v1.8h-1.8zM-30.3 8.5h1.8v1.8h-1.8zM-42.8 6.9h1.8v1.8h-1.8zM-26.7 27.5h1.8v1.8h-1.8zM-16.2 44.6h1.8v1.8h-1.8zM-23.7 27.5h1.8v1.8h-1.8zM-10.3 45.8h1.8v1.8h-1.8zM-0.5 -0.2h1.8v1.8h-1.8zM14.0 11.7h1.8v1.8h-1.8zM-27.2 33.9h1.8v1.8h-1.8zM-35.7 19.4h1.8v1.8h-1.8zM-11.6 36.0h1.8v1.8h-1.8zM-28.3 31.8h1.8v1.8h-1.8zM-47.4 3.0h1.8v1.8h-1.8zM-20.9 -4.7h1.8v1.8h-1.8zM-31.5 5.9h1.8v1.8h-1.8zM-19.9 11.8h1.8v1.8h-1.8zM16.4 13.8h1.8v1.8h-1.8zM6.8 44.7h1.8v1.8h-1.8zM-47.3 9.6h1.8v1.8h-1.8zM-14.5 -5.8h1.8v1.8h-1.8zM-32.6 -2.9h1.8v1.8h-1.8zM-29.7 34.3h1.8v1.8h-1.8zM-33.8 33.9h1.8v1.8h-1.8zM-8.5 20.9h1.8v1.8h-1.8zM-0.5 -9.9h1.8v1.8h-1.8zM-33.1 18.7h1.8v1.8h-1.8zM-19.2 37.6h1.8v1.8h-1.8zM5.6 2.1h1.8v1.8h-1.8zM-0.7 34.9h1.8v1.8h-1.8zM-2.9 -13.5h1.8v1.8h-1.8zM-12.7 2.6h1.8v1.8h-1.8zM-0.7 -0.0h1.8v1.8h-1.8zM-13.9 28.1h1.8v1.8h-1.8zM-16.1 2.9h1.8v1.8h-1.8zM-27.0 13.7h1.8v1.8h-1.8zM9.4 25.3h1.8v1.8h-1.8zM-18.0 8.8h1.8v1.8h-1.8zM-21.3 37.7h1.8v1.8h-1.8zM-25.7 41.4h1.8v1.8h-1.8zM-37.4 7.1h1.8v1.8h-1.8zM-6.0 15.8h1.8v1.8h-1.8zM-28.6 21.2h1.8v1.8h-1.8zM-36.9 33.4h1.8v1.8h-1.8zM-1.6 51.7h1.8v1.8h-1.8zM-50.9 27.0h1.8v1.8h-1.8zM-17.3 39.3h1.8v1.8h-1.8zM-8.5 41.3h1.8v1.8h-1.8zM0.4 60.2h1.8v1.8h-1.8zM-27.7 19.8h1.8v1.8h-1.8zM-0.3 -4.9h1.8v1.8h-1.8zM-9.4 37.4h1.8v1.8h-1.8zM-19.6 26.9h1.8v1.8h-1.8zM-10.7 24.1h1.8v1.8h-1.8zM-8.8 4.0h1.8v1.8h-1.8zM-10.0 17.5h1.8v1.8h-1.8zM6.6 8.3h1.8v1.8h-1.8zM12.6 13.9h1.8v1.8h-1.8zM-26.4 13.4h1.8v1.8h-1.8zM-2.7 48.3h1.8v1.8h-1.8zM-31.7 3.5h1.8v1.8h-1.8zM-27.8 17.2h1.8v1.8h-1.8zM-6.0 2.6h1.8v1.8h-1.8zM11.5 14.0h1.8v1.8h-1.8zM-33.8 27.4h1.8v1.8h-1.8zM-41.6 20.5h1.8v1.8h-1.8zM-22.1 3.9h1.8v1.8h-1.8zM-1.4 18.2h1.8v1.8h-1.8zM-14.0 32.8h1.8v1.8h-1.8zM-24.5 -10.3h1.8v1.8h-1.8zM-13.6 19.3h1.8v1.8h-1.8zM0.4 17.0h1.8v1.8h-1.8zM-35.3 5.8h1.8v1.8h-1.8zM-29.1 31.5h1.8v1.8h-1.8zM-47.6 -3.6h1.8v1.8h-1.8zM-18.7 5.3h1.8v1.8h-1.8zM-30.4 10.8h1.8v1.8h-1.8zM-33.0 18.5h1.8v1.8h-1.8zM-13.3 23.1h1.8v1.8h-1.8zM-11.6 60.4h1.8v1.8h-1.8zM-9.8 33.4h1.8v1.8h-1.8zM24.1 0.4h1.8v1.8h-1.8zM6.2 11.8h1.8v1.8h-1.8zM2.3 12.9h1.8v1.8h-1.8zM-45.3 14.6h1.8v1.8h-1.8zM11.9 28.3h1.8v1.8h-1.8zM-25.3 11.4h1.8v1.8h-1.8zM-26.5 38.2h1.8v1.8h-1.8zM-52.1 30.7h1.8v1.8h-1.8zM-41.7 25.8h1.8v1.8h-1.8zM-14.7 16.4h1.8v1.8h-1.8zM2.5 -3.0h1.8v1.8h-1.8zM-27.1 5.9h1.8v1.8h-1.8zM-12.5 18.4h1.8v1.8h-1.8zM20.7 18.0h1.8v1.8h-1.8zM-30.2 20.8h1.8v1.8h-1.8zM-13.3 17.2h1.8v1.8h-1.8zM-6.7 0.7h1.8v1.8h-1.8zM-4.9 15.4h1.8v1.8h-1.8zM-43.5 16.9h1.8v1.8h-1.8zM-8.7 16.9h1.8v1.8h-1.8zM-44.5 29.2h1.8v1.8h-1.8zM-62.7 24.2h1.8v1.8h-1.8zM-33.9 -3.9h1.8v1.8h-1.8zM-34.1 21.4h1.8v1.8h-1.8zM-22.4 -13.0h1.8v1.8h-1.8zM-2.5 15.3h1.8v1.8h-1.8zM5.8 34.7h1.8v1.8h-1.8zM3.8 -13.8h1.8v1.8h-1.8zM-35.4 26.6h1.8v1.8h-1.8zM-31.4 16.3h1.8v1.8h-1.8zM-15.2 33.1h1.8v1.8h-1.8zM-29.9 20.2h1.8v1.8h-1.8zM-4.6 0.0h1.8v1.8h-1.8zM17.0 22.4h1.8v1.8h-1.8zM-30.8 15.0h1.8v1.8h-1.8zM-32.5 4.3h1.8v1.8h-1.8zM-15.9 -2.8h1.8v1.8h-1.8zM4.5 16.9h1.8v1.8h-1.8zM-11.6 25.5h1.8v1.8h-1.8zM-44.9 32.6h1.8v1.8h-1.8zM-13.0 31.9h1.8v1.8h-1.8zM-34.3 -7.5h1.8v1.8h-1.8zM-15.0 19.4h1.8v1.8h-1.8zM-15.9 15.3h1.8v1.8h-1.8zM-9.5 2.0h1.8v1.8h-1.8zM-36.7 26.1h1.8v1.8h-1.8zM15.0 3.1h1.8v1.8h-1.8zM15.1 41.5h1.8v1.8h-1.8zM-21.3 36.9h1.8v1.8h-1.8zM-25.3 11.1h1.8v1.8h-1.8zM5.7 -28.0h1.8v1.8h-1.8zM-16.9 17.4h1.8v1.8h-1.8zM-31.2 5.9h1.8v1.8h-1.8zM-38.3 3.6h1.8v1.8h-1.8zM21.9 -15.7h1.8v1.8h-1.8zM-10.9 31.3h1.8v1.8h-1.8zM12.9 10.9h1.8v1.8h-1.8zM-22.0 51.6h1.8v1.8h-1.8zM-4.7 -7.5h1.8v1.8h-1.8zM-32.0 1.6h1.8v1.8h-1.8zM-12.0 14.5h1.8v1.8h-1.8zM-14.7 35.6h1.8v1.8h-1.8zM-19.0 -13.3h1.8v1.8h-1.8zM-27.0 30.8h1.8v1.8h-1.8zM-31.3 -9.5h1.8v1.8h-1.8zM-15.3 6.0h1.8v1.8h-1.8zM-46.1 48.9h1.8v1.8h-1.8zM-0.6 57.4h1.8v1.8h-1.8zM-25.9 25.1h1.8v1.8h-1.8zM-19.8 -5.4h1.8v1.8h-1.8zM-23.8 9.7h1.8v1.8h-1.8zM-3.5 17.7h1.8v1.8h-1.8zM-27.9 26.2h1.8v1.8h-1.8zM-13.0 14.5h1.8v1.8h-1.8zM-49.0 7.3h1.8v1.8h-1.8zM-31.6 0.5h1.8v1.8h-1.8zM7.8 32.0h1.8v1.8h-1.8zM-29.4 14.7h1.8v1.8h-1.8zM-8.5 3.4h1.8v1.8h-1.8zM-5.0 12.2h1.8v1.8h-1.8zM-34.8 4.2h1.8v1.8h-1.8zM-30.1 3.0h1.8v1.8h-1.8zM-18.7 33.6h1.8v1.8h-1.8zM-21.8 18.2h1.8v1.8h-1.8zM-26.7 -1.2h1.8v1.8h-1.8zM-2.2 25.3h1.8v1.8h-1.8zM-34.0 4.7h1.8v1.8h-1.8zM-24.8 25.2h1.8v1.8h-1.8zM-33.9 48.6h1.8v1.8h-1.8zM-7.7 19.8h1.8v1.8h-1.8zM-37.4 29.4h1.8v1.8h-1.8zM-13.1 7.0h1.8v1.8h-1.8zM-22.0 23.8h1.8v1.8h-1.8zM8.3 38.6h1.8v1.8h-1.8zM-33.6 10.9h1.8v1.8h-1.8zM-34.6 -4.7h1.8v1.8h-1.8zM-24.4 21.0h1.8v1.8h-1.8zM-32.4 19.3h1.8v1.8h-1.8zM18.8 -2.0h1.8v1.8h-1.8zM-23.1 11.6h1.8v1.8h-1.8zM-42.8 9.1h1.8v1.8h-1.8zM7.7 32.7h1.8v1.8h-1.8zM-8.6 -13.7h1.8v1.8h-1.8zM7.7 24.1h1.8v1.8h-1.8zM-14.9 39.8h1.8v1.8h-1.8zM-10.2 18.3h1.8v1.8h-1.8zM-27.3 14.0h1.8v1.8h-1.8zM-38.8 10.8h1.8v1.8h-1.8zM2.4 5.3h1.8v1.8h-1.8zM-21.3 13.8h1.8v1.8h-1.8zM19.9 43.6h1.8v1.8h-1.8zM-10.9 35.9h1.8v1.8h-1.8zM-22.7 22.4h1.8v1.8h-1.8zM5.6 32.0h1.8v1.8h-1.8zM-17.2 26.8h1.8v1.8h-1.8zM-16.6 14.7h1.8v1.8h-1.8zM3.0 14.7h1.8v1.8h-1.8zM-9.4 15.9h1.8v1.8h-1.8zM-4.6 12.8h1.8v1.8h-1.8zM-10.3 12.6h1.8v1.8h-1.8zM11.2 37.3h1.8v1.8h-1.8zM-47.7 27.8h1.8v1.8h-1.8zM-45.6 -0.8h1.8v1.8h-1.8zM3.8 35.6h1.8v1.8h-1.8zM-14.5 23.8h1.8v1.8h-1.8zM-21.1 -7.9h1.8v1.8h-1.8zM-9.4 31.5h1.8v1.8h-1.8zM-11.5 29.4h1.8v1.8h-1.8zM-10.5 2.7h1.8v1.8h-1.8zM-6.8 16.8h1.8v1.8h-1.8zM-35.0 24.0h1.8v1.8h-1.8zM-46.3 7.9h1.8v1.8h-1.8zM-11.7 11.9h1.8v1.8h-1.8zM-12.3 20.0h1.8v1.8h-1.8zM-23.9 4.7h1.8v1.8h-1.8zM0.9 22.9h1.8v1.8h-1.8zM-17.0 17.6h1.8v1.8h-1.8zM4.4 21.4h1.8v1.8h-1.8zM-14.7 20.9h1.8v1.8h-1.8zM-39.5 24.2h1.8v1.8h-1.8zM-19.7 7.4h1.8v1.8h-1.8zM-4.1 0.1h1.8v1.8h-1.8zM-34.1 -2.2h1.8v1.8h-1.8zM-7.9 48.3h1.8v1.8h-1.8zM-43.8 1.8h1.8v1.8h-1.8zM-39.3 23.5h1.8v1.8h-1.8zM-17.5 41.3h1.8v1.8h-1.8zM-38.4 23.7h1.8v1.8h-1.8zM-12.1 35.8h1.8v1.8h-1.8zM25.1 33.3h1.8v1.8h-1.8zM-7.8 8.5h1.8v1.8h-1.8zM15.7 34.1h1.8v1.8h-1.8zM-28.9 45.8h1.8v1.8h-1.8zM-33.3 58.4h1.8v1.8h-1.8zM-18.6 4.8h1.8v1.8h-1.8zM2.8 14.4h1.8v1.8h-1.8zM-22.3 4.6h1.8v1.8h-1.8zM-5.7 6.5h1.8v1.8h-1.8zM-12.8 54.4h1.8v1.8h-1.8zM-22.5 17.2h1.8v1.8h-1.8zM-5.2 22.9h1.8v1.8h-1.8zM-27.6 34.7h1.8v1.8h-1.8zM-25.4 11.0h1.8v1.8h-1.8zM6.3 -9.3h1.8v1.8h-1.8zM-7.3 6.0h1.8v1.8h-1.8zM-22.4 14.8h1.8v1.8h-1.8zM18.3 -2.2h1.8v1.8h-1.8zM-20.8 26.6h1.8v1.8h-1.8zM-25.7 32.4h1.8v1.8h-1.8zM13.0 -0.7h1.8v1.8h-1.8zM-25.1 24.3h1.8v1.8h-1.8zM-16.7 20.5h1.8v1.8h-1.8zM-6.8 39.5h1.8v1.8h-1.8zM-16.7 18.8h1.8v1.8h-1.8zM11.7 1.1h1.8v1.8h-1.8zM-25.0 16.1h1.8v1.8h-1.8zM-15.7 24.1h1.8v1.8h-1.8zM-5.0 16.4h1.8v1.8h-1.8zM-59.9 -12.6h1.8v1.8h-1.8zM-15.7 25.1h1.8v1.8h-1.8zM-16.3 6.0h1.8v1.8h-1.8zM-27.6 19.8h1.8v1.8h-1.8zM3.6 9.5h1.8v1.8h-1.8zM2.6 12.8h1.8v1.8h-1.8zM-4.6 42.1h1.8v1.8h-1.8zM0.5 16.0h1.8v1.8h-1.8zM-28.9 -22.7h1.8v1.8h-1.8zM-18.5 28.4h1.8v1.8h-1.8zM2.8 25.6h1.8v1.8h-1.8zM8.0 17.0h1.8v1.8h-1.8zM3.2 44.3h1.8v1.8h-1.8zM-14.1 17.6h1.8v1.8h-1.8zM-15.6 19.5h1.8v1.8h-1.8zM12.0 12.5h1.8v1.8h-1.8zM-10.2 15.6h1.8v1.8h-1.8zM-0.6 12.9h1.8v1.8h-1.8zM8.1 25.7h1.8v1.8h-1.8zM-15.4 44.8h1.8v1.8h-1.8zM-30.4 18.5h1.8v1.8h-1.8zM-39.5 2.5h1.8v1.8h-1.8zM-6.6 1.0h1.8v1.8h-1.8zM-28.1 26.3h1.8v1.8h-1.8zM-6.8 16.4h1.8v1.8h-1.8zM-13.6 -5.5h1.8v1.8h-1.8zM-5.5 23.8h1.8v1.8h-1.8zM-27.6 13.9h1.8v1.8h-1.8zM-28.6 42.2h1.8v1.8h-1.8zM2.1 15.6h1.8v1.8h-1.8zM-21.6 -11.9h1.8v1.8h-1.8zM-38.5 32.7h1.8v1.8h-1.8zM-39.0 2.2h1.8v1.8h-1.8zM1.9 20.1h1.8v1.8h-1.8zM-34.3 12.3h1.8v1.8h-1.8zM-8.8 -0.9h1.8v1.8h-1.8zM-3.0 7.6h1.8v1.8h-1.8zM-23.9 39.2h1.8v1.8h-1.8zM2.9 52.5h1.8v1.8h-1.8zM4.5 17.1h1.8v1.8h-1.8zM-35.7 20.0h1.8v1.8h-1.8zM-37.5 1.4h1.8v1.8h-1.8zM-49.3 31.8h1.8v1.8h-1.8zM-31.8 31.8h1.8v1.8h-1.8zM-4.7 7.3h1.8v1.8h-1.8zM-21.2 22.7h1.8v1.8h-1.8zM-2.9 42.0h1.8v1.8h-1.8zM11.5 11.1h1.8v1.8h-1.8zM28.3 24.0h1.8v1.8h-1.8zM-36.8 29.6h1.8v1.8h-1.8zM9.1 2.7h1.8v1.8h-1.8zM-16.1 -3.2h1.8v1.8h-1.8zM-10.8 8.5h1.8v1.8h-1.8zM23.0 13.5h1.8v1.8h-1.8zM-23.3 15.6h1.8v1.8h-1.8zM-36.1 13.1h1.8v1.8h-1.8zM-10.2 -3.2h1.8v1.8h-1.8zM-27.5 18.7h1.8v1.8h-1.8zM-21.2 4.4h1.8v1.8h-1.8zM-13.9 17.7h1.8v1.8h-1.8zM-22.3 12.1h1.8v1.8h-1.8zM-32.0 -5.0h1.8v1.8h-1.8zM-19.1 13.3h1.8v1.8h-1.8zM-48.5 29.1h1.8v1.8h-1.8zM1.4 27.4h1.8v1.8h-1.8zM37.5 16.7h1.8v1.8h-1.8zM-2.1 32.5h1.8v1.8h-1.8zM1.9 20.1h1.8v1.8h-1.8zM-30.8 28.2h1.8v1.8h-1.8z"/><text class="t" x="614.4" y="18.6" text-anchor="end">Bases learned from the</text><text class="t" x="614.0" y="32.1" text-anchor="end">multi-normal sampler</text><text class="l" x="612.2" y="180.9" text-anchor="end">(e)</text><rect x="33.4" y="196.8" width="187.6" height="185.4" fill="none" stroke="#d0d0d0" stroke-width="1.1"/><rect x="34.0" y="210.9" width="5" height="1.3" fill="#2a2a2a"/><rect x="34.0" y="238.2" width="5" height="1.3" fill="#2a2a2a"/><rect x="34.0" y="265.5" width="5" height="1.3" fill="#2a2a2a"/><rect x="34.0" y="292.8" width="5" height="1.3" fill="#2a2a2a"/><rect x="34.0" y="320.1" width="5" height="1.3" fill="#2a2a2a"/><rect x="34.0" y="347.4" width="5" height="1.3" fill="#2a2a2a"/><rect x="34.0" y="374.7" width="5" height="1.3" fill="#2a2a2a"/><rect x="43.6" y="376.7" width="1.3" height="5" fill="#2a2a2a"/><rect x="67.0" y="376.7" width="1.3" height="5" fill="#2a2a2a"/><rect x="90.5" y="376.7" width="1.3" height="5" fill="#2a2a2a"/><rect x="113.9" y="376.7" width="1.3" height="5" fill="#2a2a2a"/><rect x="137.4" y="376.7" width="1.3" height="5" fill="#2a2a2a"/><rect x="160.8" y="376.7" width="1.3" height="5" fill="#2a2a2a"/><rect x="184.3" y="376.7" width="1.3" height="5" fill="#2a2a2a"/><rect x="207.7" y="376.7" width="1.3" height="5" fill="#2a2a2a"/><use href="#base" transform="translate(114.6,293.4)"/><path fill="#c4bf45" transform="translate(114.6,293.4)" d="M-5.4 43.1h1.8v1.8h-1.8zM-15.7 25.5h1.8v1.8h-1.8zM-17.9 17.4h1.8v1.8h-1.8zM-19.7 7.5h1.8v1.8h-1.8zM-8.1 46.7h1.8v1.8h-1.8zM-10.6 26.3h1.8v1.8h-1.8zM-20.3 1.2h1.8v1.8h-1.8zM-9.2 59.1h1.8v1.8h-1.8zM-15.3 16.4h1.8v1.8h-1.8zM-23.4 7.5h1.8v1.8h-1.8zM-21.4 7.9h1.8v1.8h-1.8zM-11.8 32.6h1.8v1.8h-1.8zM-15.4 5.4h1.8v1.8h-1.8zM-18.4 6.5h1.8v1.8h-1.8zM-11.7 33.8h1.8v1.8h-1.8zM-14.2 22.7h1.8v1.8h-1.8zM-12.3 17.2h1.8v1.8h-1.8zM-18.2 4.2h1.8v1.8h-1.8zM-11.2 26.7h1.8v1.8h-1.8zM-18.2 7.0h1.8v1.8h-1.8zM-16.3 23.7h1.8v1.8h-1.8zM-16.5 14.8h1.8v1.8h-1.8zM-18.6 1.1h1.8v1.8h-1.8zM-5.2 41.0h1.8v1.8h-1.8zM-16.2 14.9h1.8v1.8h-1.8zM-19.1 10.7h1.8v1.8h-1.8zM-22.1 7.0h1.8v1.8h-1.8zM-16.0 11.1h1.8v1.8h-1.8zM-12.6 22.0h1.8v1.8h-1.8zM-20.4 0.6h1.8v1.8h-1.8zM-14.6 30.5h1.8v1.8h-1.8zM-17.2 25.7h1.8v1.8h-1.8zM-6.2 52.9h1.8v1.8h-1.8zM-18.6 6.6h1.8v1.8h-1.8zM-20.6 0.6h1.8v1.8h-1.8zM-14.7 17.3h1.8v1.8h-1.8zM-14.2 28.6h1.8v1.8h-1.8zM-13.7 19.7h1.8v1.8h-1.8zM-19.5 0.3h1.8v1.8h-1.8zM-5.7 53.5h1.8v1.8h-1.8zM-11.0 37.3h1.8v1.8h-1.8zM-10.8 36.2h1.8v1.8h-1.8zM-5.5 58.5h1.8v1.8h-1.8zM-7.1 46.8h1.8v1.8h-1.8zM-19.3 9.5h1.8v1.8h-1.8zM-16.2 18.7h1.8v1.8h-1.8zM-11.9 43.2h1.8v1.8h-1.8zM-16.1 16.9h1.8v1.8h-1.8zM-22.4 1.8h1.8v1.8h-1.8zM-13.4 23.1h1.8v1.8h-1.8zM-9.8 42.0h1.8v1.8h-1.8zM-12.2 23.3h1.8v1.8h-1.8zM-5.4 48.5h1.8v1.8h-1.8zM-18.5 12.6h1.8v1.8h-1.8zM-16.1 16.4h1.8v1.8h-1.8zM-21.4 6.7h1.8v1.8h-1.8zM-17.5 19.4h1.8v1.8h-1.8zM-15.2 21.2h1.8v1.8h-1.8zM-11.7 25.1h1.8v1.8h-1.8zM-8.6 49.3h1.8v1.8h-1.8zM-13.5 16.8h1.8v1.8h-1.8zM-17.0 -0.4h1.8v1.8h-1.8zM-11.0 37.6h1.8v1.8h-1.8zM-17.8 4.8h1.8v1.8h-1.8zM-10.5 33.0h1.8v1.8h-1.8zM-6.2 54.6h1.8v1.8h-1.8zM-15.5 23.4h1.8v1.8h-1.8zM-14.7 26.5h1.8v1.8h-1.8zM-20.1 10.3h1.8v1.8h-1.8zM-9.6 47.3h1.8v1.8h-1.8zM-14.2 21.7h1.8v1.8h-1.8zM-19.0 11.8h1.8v1.8h-1.8zM-14.7 5.9h1.8v1.8h-1.8zM-20.9 2.6h1.8v1.8h-1.8zM-9.9 40.4h1.8v1.8h-1.8zM-16.7 17.5h1.8v1.8h-1.8zM-8.9 43.6h1.8v1.8h-1.8zM-11.6 27.8h1.8v1.8h-1.8zM-20.8 7.3h1.8v1.8h-1.8zM-5.6 47.7h1.8v1.8h-1.8zM-17.8 13.8h1.8v1.8h-1.8zM-12.3 27.2h1.8v1.8h-1.8zM-12.0 32.1h1.8v1.8h-1.8zM-18.4 8.8h1.8v1.8h-1.8zM-13.3 21.3h1.8v1.8h-1.8zM-15.9 16.0h1.8v1.8h-1.8zM-9.0 44.4h1.8v1.8h-1.8zM-8.7 50.9h1.8v1.8h-1.8zM-18.1 5.4h1.8v1.8h-1.8zM-6.6 37.4h1.8v1.8h-1.8zM-17.9 7.4h1.8v1.8h-1.8zM-18.5 4.3h1.8v1.8h-1.8zM-14.5 15.6h1.8v1.8h-1.8zM-12.6 28.4h1.8v1.8h-1.8zM-11.1 25.0h1.8v1.8h-1.8zM-20.8 2.2h1.8v1.8h-1.8zM-15.4 9.8h1.8v1.8h-1.8zM-19.2 0.2h1.8v1.8h-1.8zM-6.4 36.6h1.8v1.8h-1.8zM-11.3 32.6h1.8v1.8h-1.8zM-10.7 41.9h1.8v1.8h-1.8zM-18.1 9.4h1.8v1.8h-1.8zM-15.6 27.0h1.8v1.8h-1.8zM-15.2 22.3h1.8v1.8h-1.8zM-16.2 19.3h1.8v1.8h-1.8zM-11.3 45.2h1.8v1.8h-1.8zM-13.0 19.3h1.8v1.8h-1.8zM-16.9 0.4h1.8v1.8h-1.8zM-14.9 20.1h1.8v1.8h-1.8zM-14.7 23.4h1.8v1.8h-1.8zM-13.7 25.8h1.8v1.8h-1.8zM-14.7 21.3h1.8v1.8h-1.8zM-13.5 27.4h1.8v1.8h-1.8zM-10.1 32.0h1.8v1.8h-1.8zM-17.3 4.1h1.8v1.8h-1.8zM-16.0 8.2h1.8v1.8h-1.8zM-11.2 28.7h1.8v1.8h-1.8zM-4.0 54.3h1.8v1.8h-1.8zM-19.7 12.5h1.8v1.8h-1.8zM-15.5 22.8h1.8v1.8h-1.8zM-17.0 10.6h1.8v1.8h-1.8zM-18.5 9.0h1.8v1.8h-1.8zM-8.6 35.0h1.8v1.8h-1.8zM-15.6 32.8h1.8v1.8h-1.8zM-20.2 4.5h1.8v1.8h-1.8zM-19.9 1.3h1.8v1.8h-1.8zM-16.8 19.9h1.8v1.8h-1.8zM-9.1 39.7h1.8v1.8h-1.8zM-14.0 31.2h1.8v1.8h-1.8zM-16.6 20.9h1.8v1.8h-1.8zM-13.6 21.0h1.8v1.8h-1.8zM-18.2 9.0h1.8v1.8h-1.8zM-9.2 29.8h1.8v1.8h-1.8zM-11.3 27.7h1.8v1.8h-1.8zM-17.0 21.2h1.8v1.8h-1.8zM-5.0 57.2h1.8v1.8h-1.8zM-20.3 3.8h1.8v1.8h-1.8zM-16.2 10.7h1.8v1.8h-1.8zM-11.0 37.6h1.8v1.8h-1.8zM-14.8 16.5h1.8v1.8h-1.8zM-18.1 17.4h1.8v1.8h-1.8zM-22.4 7.6h1.8v1.8h-1.8zM-16.6 24.7h1.8v1.8h-1.8zM-17.9 5.0h1.8v1.8h-1.8zM-13.5 18.9h1.8v1.8h-1.8zM-19.0 3.0h1.8v1.8h-1.8zM-16.7 10.0h1.8v1.8h-1.8zM-13.8 25.1h1.8v1.8h-1.8zM-11.6 33.3h1.8v1.8h-1.8zM-9.0 46.5h1.8v1.8h-1.8zM-16.2 6.8h1.8v1.8h-1.8zM-4.7 60.9h1.8v1.8h-1.8zM-16.1 14.0h1.8v1.8h-1.8zM-17.4 17.0h1.8v1.8h-1.8zM-10.6 40.3h1.8v1.8h-1.8zM-18.0 8.9h1.8v1.8h-1.8zM-8.8 47.9h1.8v1.8h-1.8zM-9.2 45.0h1.8v1.8h-1.8zM-18.7 19.2h1.8v1.8h-1.8zM-10.0 36.9h1.8v1.8h-1.8zM-13.2 24.3h1.8v1.8h-1.8zM-15.4 20.7h1.8v1.8h-1.8zM-21.4 3.0h1.8v1.8h-1.8zM-16.8 8.7h1.8v1.8h-1.8zM-18.8 6.2h1.8v1.8h-1.8zM-17.6 5.7h1.8v1.8h-1.8zM-12.8 33.0h1.8v1.8h-1.8zM-16.7 19.3h1.8v1.8h-1.8zM-11.0 28.7h1.8v1.8h-1.8zM-6.5 63.5h1.8v1.8h-1.8zM0.5 78.8h1.8v1.8h-1.8zM3.6 73.8h1.8v1.8h-1.8zM1.2 76.7h1.8v1.8h-1.8zM1.1 74.5h1.8v1.8h-1.8zM2.0 75.7h1.8v1.8h-1.8zM1.9 73.3h1.8v1.8h-1.8zM1.1 73.5h1.8v1.8h-1.8zM1.5 79.8h1.8v1.8h-1.8zM-3.2 70.4h1.8v1.8h-1.8zM-1.0 69.6h1.8v1.8h-1.8zM4.2 76.3h1.8v1.8h-1.8zM0.5 73.5h1.8v1.8h-1.8zM0.0 77.2h1.8v1.8h-1.8zM2.3 70.5h1.8v1.8h-1.8zM-1.3 73.1h1.8v1.8h-1.8zM-1.9 73.1h1.8v1.8h-1.8zM1.8 71.5h1.8v1.8h-1.8zM3.8 71.9h1.8v1.8h-1.8zM1.5 79.9h1.8v1.8h-1.8zM0.9 74.7h1.8v1.8h-1.8zM2.5 76.1h1.8v1.8h-1.8zM2.5 76.1h1.8v1.8h-1.8zM-0.9 76.1h1.8v1.8h-1.8zM-1.8 77.2h1.8v1.8h-1.8zM2.5 74.7h1.8v1.8h-1.8zM0.5 72.0h1.8v1.8h-1.8zM5.7 76.4h1.8v1.8h-1.8zM3.5 74.9h1.8v1.8h-1.8zM0.6 69.8h1.8v1.8h-1.8zM1.4 74.0h1.8v1.8h-1.8zM-0.2 75.1h1.8v1.8h-1.8zM4.0 72.7h1.8v1.8h-1.8zM0.7 68.2h1.8v1.8h-1.8zM-0.2 74.6h1.8v1.8h-1.8zM3.6 78.4h1.8v1.8h-1.8zM4.3 73.6h1.8v1.8h-1.8zM2.2 70.9h1.8v1.8h-1.8zM0.4 73.4h1.8v1.8h-1.8zM22.2 58.2h1.8v1.8h-1.8zM6.3 65.7h1.8v1.8h-1.8zM10.1 62.2h1.8v1.8h-1.8zM10.0 65.4h1.8v1.8h-1.8zM9.6 65.0h1.8v1.8h-1.8zM25.8 57.7h1.8v1.8h-1.8zM29.7 59.8h1.8v1.8h-1.8zM11.8 62.5h1.8v1.8h-1.8zM25.6 56.1h1.8v1.8h-1.8zM27.6 55.9h1.8v1.8h-1.8zM17.9 60.2h1.8v1.8h-1.8zM11.4 64.1h1.8v1.8h-1.8zM25.8 56.4h1.8v1.8h-1.8zM10.1 62.9h1.8v1.8h-1.8zM43.5 48.4h1.8v1.8h-1.8zM40.5 47.1h1.8v1.8h-1.8zM46.5 43.2h1.8v1.8h-1.8zM93.3 -30.7h1.8v1.8h-1.8zM92.0 -28.5h1.8v1.8h-1.8zM95.8 -33.7h1.8v1.8h-1.8zM96.8 -28.7h1.8v1.8h-1.8zM96.9 -30.1h1.8v1.8h-1.8zM95.0 -28.2h1.8v1.8h-1.8zM94.7 -26.3h1.8v1.8h-1.8zM94.3 -34.2h1.8v1.8h-1.8zM96.5 -29.4h1.8v1.8h-1.8zM95.5 -34.2h1.8v1.8h-1.8zM94.5 -35.0h1.8v1.8h-1.8zM95.0 -30.1h1.8v1.8h-1.8zM91.8 -32.3h1.8v1.8h-1.8zM92.6 -30.6h1.8v1.8h-1.8zM90.7 -28.2h1.8v1.8h-1.8zM97.3 -28.8h1.8v1.8h-1.8zM90.8 -30.5h1.8v1.8h-1.8zM97.6 -28.5h1.8v1.8h-1.8zM94.3 -33.5h1.8v1.8h-1.8zM93.6 -32.9h1.8v1.8h-1.8zM96.3 -31.1h1.8v1.8h-1.8zM94.1 -33.5h1.8v1.8h-1.8zM93.9 -32.5h1.8v1.8h-1.8zM94.5 -31.3h1.8v1.8h-1.8zM94.1 -35.4h1.8v1.8h-1.8zM95.3 -16.4h1.8v1.8h-1.8zM95.1 -20.8h1.8v1.8h-1.8zM95.5 -22.1h1.8v1.8h-1.8zM95.7 -24.6h1.8v1.8h-1.8zM95.1 -25.7h1.8v1.8h-1.8zM94.6 -17.3h1.8v1.8h-1.8zM92.0 -13.4h1.8v1.8h-1.8zM85.6 7.5h1.8v1.8h-1.8zM91.5 -12.1h1.8v1.8h-1.8zM87.1 9.0h1.8v1.8h-1.8zM92.0 -10.5h1.8v1.8h-1.8zM93.2 -10.5h1.8v1.8h-1.8zM88.6 5.5h1.8v1.8h-1.8zM86.2 7.7h1.8v1.8h-1.8zM90.1 -1.1h1.8v1.8h-1.8zM92.0 -10.4h1.8v1.8h-1.8zM88.4 4.5h1.8v1.8h-1.8zM89.6 -11.9h1.8v1.8h-1.8zM91.6 -11.1h1.8v1.8h-1.8zM91.0 -1.9h1.8v1.8h-1.8zM92.0 -9.1h1.8v1.8h-1.8zM92.0 -6.3h1.8v1.8h-1.8zM93.6 -10.1h1.8v1.8h-1.8zM89.5 3.5h1.8v1.8h-1.8zM47.8 -1.6h1.8v1.8h-1.8zM51.9 -10.8h1.8v1.8h-1.8zM57.6 -8.3h1.8v1.8h-1.8zM84.0 -23.0h1.8v1.8h-1.8zM56.1 -14.6h1.8v1.8h-1.8zM68.7 -18.4h1.8v1.8h-1.8zM86.6 -22.9h1.8v1.8h-1.8zM81.6 -16.2h1.8v1.8h-1.8zM53.6 -14.4h1.8v1.8h-1.8zM55.1 17.9h1.8v1.8h-1.8zM29.1 9.9h1.8v1.8h-1.8zM18.2 16.4h1.8v1.8h-1.8zM40.3 11.9h1.8v1.8h-1.8zM24.3 55.0h1.8v1.8h-1.8zM10.6 25.5h1.8v1.8h-1.8zM38.2 36.9h1.8v1.8h-1.8zM29.4 16.3h1.8v1.8h-1.8zM18.8 23.7h1.8v1.8h-1.8z"/><text class="t" x="214.6" y="211.6" text-anchor="end">NMF components</text><text class="l" x="219.4" y="375.6" text-anchor="end">(b)</text><text class="n" x="31.6" y="214.0" text-anchor="end">0.6</text><text class="n" x="31.6" y="241.3" text-anchor="end">0.4</text><text class="n" x="31.6" y="268.6" text-anchor="end">0.2</text><text class="n" x="31.6" y="295.8" text-anchor="end">0.</text><text class="n" x="31.6" y="323.1" text-anchor="end">-0.2</text><text class="n" x="31.6" y="350.4" text-anchor="end">-0.4</text><text class="n" x="31.6" y="377.7" text-anchor="end">-0.6</text><text class="n" x="44.2" y="389.2" text-anchor="middle">-0.6</text><text class="n" x="67.7" y="389.2" text-anchor="middle">-0.4</text><text class="n" x="91.1" y="389.2" text-anchor="middle">-0.2</text><text class="n" x="114.6" y="389.2" text-anchor="middle">0.</text><text class="n" x="138.0" y="389.2" text-anchor="middle">0.2</text><text class="n" x="161.5" y="389.2" text-anchor="middle">0.4</text><text class="n" x="184.9" y="389.2" text-anchor="middle">0.6</text><text class="n" x="208.4" y="389.2" text-anchor="middle">0.8</text><rect x="232.8" y="197.4" width="187.5" height="185.2" fill="none" stroke="#d0d0d0" stroke-width="1.1"/><rect x="233.4" y="210.8" width="5" height="1.3" fill="#2a2a2a"/><rect x="233.4" y="238.0" width="5" height="1.3" fill="#2a2a2a"/><rect x="233.4" y="265.3" width="5" height="1.3" fill="#2a2a2a"/><rect x="233.4" y="292.6" width="5" height="1.3" fill="#2a2a2a"/><rect x="233.4" y="319.8" width="5" height="1.3" fill="#2a2a2a"/><rect x="233.4" y="347.1" width="5" height="1.3" fill="#2a2a2a"/><rect x="233.4" y="374.4" width="5" height="1.3" fill="#2a2a2a"/><rect x="241.8" y="377.1" width="1.3" height="5" fill="#2a2a2a"/><rect x="265.4" y="377.1" width="1.3" height="5" fill="#2a2a2a"/><rect x="288.9" y="377.1" width="1.3" height="5" fill="#2a2a2a"/><rect x="312.4" y="377.1" width="1.3" height="5" fill="#2a2a2a"/><rect x="336.0" y="377.1" width="1.3" height="5" fill="#2a2a2a"/><rect x="359.5" y="377.1" width="1.3" height="5" fill="#2a2a2a"/><rect x="383.0" y="377.1" width="1.3" height="5" fill="#2a2a2a"/><rect x="406.6" y="377.1" width="1.3" height="5" fill="#2a2a2a"/><use href="#base" transform="translate(313.1,293.2)"/><path fill="#3f9a3f" transform="translate(313.1,293.2)" d="M-5.4 43.1h1.8v1.8h-1.8zM-15.7 25.5h1.8v1.8h-1.8zM-17.9 17.4h1.8v1.8h-1.8zM-19.7 7.5h1.8v1.8h-1.8zM-8.1 46.7h1.8v1.8h-1.8zM-10.6 26.3h1.8v1.8h-1.8zM-20.3 1.2h1.8v1.8h-1.8zM-9.2 59.1h1.8v1.8h-1.8zM-15.3 16.4h1.8v1.8h-1.8zM-23.4 7.5h1.8v1.8h-1.8zM-21.4 7.9h1.8v1.8h-1.8zM-11.8 32.6h1.8v1.8h-1.8zM-15.4 5.4h1.8v1.8h-1.8zM-18.4 6.5h1.8v1.8h-1.8zM-11.7 33.8h1.8v1.8h-1.8zM-14.2 22.7h1.8v1.8h-1.8zM-12.3 17.2h1.8v1.8h-1.8zM-18.2 4.2h1.8v1.8h-1.8zM-11.2 26.7h1.8v1.8h-1.8zM-18.2 7.0h1.8v1.8h-1.8zM-16.3 23.7h1.8v1.8h-1.8zM-16.5 14.8h1.8v1.8h-1.8zM-18.6 1.1h1.8v1.8h-1.8zM-5.2 41.0h1.8v1.8h-1.8zM-16.2 14.9h1.8v1.8h-1.8zM-19.1 10.7h1.8v1.8h-1.8zM-22.1 7.0h1.8v1.8h-1.8zM-16.0 11.1h1.8v1.8h-1.8zM-12.6 22.0h1.8v1.8h-1.8zM-20.4 0.6h1.8v1.8h-1.8zM-14.6 30.5h1.8v1.8h-1.8zM-17.2 25.7h1.8v1.8h-1.8zM-6.2 52.9h1.8v1.8h-1.8zM-18.6 6.6h1.8v1.8h-1.8zM-20.6 0.6h1.8v1.8h-1.8zM-14.7 17.3h1.8v1.8h-1.8zM-14.2 28.6h1.8v1.8h-1.8zM-13.7 19.7h1.8v1.8h-1.8zM-19.5 0.3h1.8v1.8h-1.8zM-5.7 53.5h1.8v1.8h-1.8zM-11.0 37.3h1.8v1.8h-1.8zM-10.8 36.2h1.8v1.8h-1.8zM-5.5 58.5h1.8v1.8h-1.8zM-7.1 46.8h1.8v1.8h-1.8zM-19.3 9.5h1.8v1.8h-1.8zM-16.2 18.7h1.8v1.8h-1.8zM-11.9 43.2h1.8v1.8h-1.8zM-16.1 16.9h1.8v1.8h-1.8zM-22.4 1.8h1.8v1.8h-1.8zM-13.4 23.1h1.8v1.8h-1.8zM-9.8 42.0h1.8v1.8h-1.8zM-12.2 23.3h1.8v1.8h-1.8zM-5.4 48.5h1.8v1.8h-1.8zM-18.5 12.6h1.8v1.8h-1.8zM-16.1 16.4h1.8v1.8h-1.8zM-21.4 6.7h1.8v1.8h-1.8zM-17.5 19.4h1.8v1.8h-1.8zM-15.2 21.2h1.8v1.8h-1.8zM-11.7 25.1h1.8v1.8h-1.8zM-8.6 49.3h1.8v1.8h-1.8zM-13.5 16.8h1.8v1.8h-1.8zM-17.0 -0.4h1.8v1.8h-1.8zM-11.0 37.6h1.8v1.8h-1.8zM-17.8 4.8h1.8v1.8h-1.8zM-10.5 33.0h1.8v1.8h-1.8zM-6.2 54.6h1.8v1.8h-1.8zM-15.5 23.4h1.8v1.8h-1.8zM-14.7 26.5h1.8v1.8h-1.8zM-20.1 10.3h1.8v1.8h-1.8zM-9.6 47.3h1.8v1.8h-1.8zM-14.2 21.7h1.8v1.8h-1.8zM-19.0 11.8h1.8v1.8h-1.8zM-14.7 5.9h1.8v1.8h-1.8zM-20.9 2.6h1.8v1.8h-1.8zM-9.9 40.4h1.8v1.8h-1.8zM-16.7 17.5h1.8v1.8h-1.8zM-8.9 43.6h1.8v1.8h-1.8zM-11.6 27.8h1.8v1.8h-1.8zM-20.8 7.3h1.8v1.8h-1.8zM-5.6 47.7h1.8v1.8h-1.8zM-17.8 13.8h1.8v1.8h-1.8zM-12.3 27.2h1.8v1.8h-1.8zM-12.0 32.1h1.8v1.8h-1.8zM-18.4 8.8h1.8v1.8h-1.8zM-13.3 21.3h1.8v1.8h-1.8zM-15.9 16.0h1.8v1.8h-1.8zM-9.0 44.4h1.8v1.8h-1.8zM-8.7 50.9h1.8v1.8h-1.8zM-18.1 5.4h1.8v1.8h-1.8zM-6.6 37.4h1.8v1.8h-1.8zM-17.9 7.4h1.8v1.8h-1.8zM-18.5 4.3h1.8v1.8h-1.8zM-14.5 15.6h1.8v1.8h-1.8zM-12.6 28.4h1.8v1.8h-1.8zM-11.1 25.0h1.8v1.8h-1.8zM-20.8 2.2h1.8v1.8h-1.8zM-15.4 9.8h1.8v1.8h-1.8zM-19.2 0.2h1.8v1.8h-1.8zM-6.4 36.6h1.8v1.8h-1.8zM-11.3 32.6h1.8v1.8h-1.8zM-10.7 41.9h1.8v1.8h-1.8zM-18.1 9.4h1.8v1.8h-1.8zM-15.6 27.0h1.8v1.8h-1.8zM-15.2 22.3h1.8v1.8h-1.8zM-16.2 19.3h1.8v1.8h-1.8zM-11.3 45.2h1.8v1.8h-1.8zM-13.0 19.3h1.8v1.8h-1.8zM-16.9 0.4h1.8v1.8h-1.8zM-14.9 20.1h1.8v1.8h-1.8zM-14.7 23.4h1.8v1.8h-1.8zM-13.7 25.8h1.8v1.8h-1.8zM-14.7 21.3h1.8v1.8h-1.8zM-13.5 27.4h1.8v1.8h-1.8zM-10.1 32.0h1.8v1.8h-1.8zM-17.3 4.1h1.8v1.8h-1.8zM-16.0 8.2h1.8v1.8h-1.8zM-11.2 28.7h1.8v1.8h-1.8zM-4.0 54.3h1.8v1.8h-1.8zM-19.7 12.5h1.8v1.8h-1.8zM-15.5 22.8h1.8v1.8h-1.8zM-17.0 10.6h1.8v1.8h-1.8zM-18.5 9.0h1.8v1.8h-1.8zM-8.6 35.0h1.8v1.8h-1.8zM-15.6 32.8h1.8v1.8h-1.8zM-20.2 4.5h1.8v1.8h-1.8zM-19.9 1.3h1.8v1.8h-1.8zM-16.8 19.9h1.8v1.8h-1.8zM-9.1 39.7h1.8v1.8h-1.8zM-14.0 31.2h1.8v1.8h-1.8zM-16.6 20.9h1.8v1.8h-1.8zM-13.6 21.0h1.8v1.8h-1.8zM-18.2 9.0h1.8v1.8h-1.8zM-9.2 29.8h1.8v1.8h-1.8zM-11.3 27.7h1.8v1.8h-1.8zM-17.0 21.2h1.8v1.8h-1.8zM-5.0 57.2h1.8v1.8h-1.8zM-20.3 3.8h1.8v1.8h-1.8zM-16.2 10.7h1.8v1.8h-1.8zM-11.0 37.6h1.8v1.8h-1.8zM-14.8 16.5h1.8v1.8h-1.8zM-18.1 17.4h1.8v1.8h-1.8zM-22.4 7.6h1.8v1.8h-1.8zM-16.6 24.7h1.8v1.8h-1.8zM-17.9 5.0h1.8v1.8h-1.8zM-13.5 18.9h1.8v1.8h-1.8zM-19.0 3.0h1.8v1.8h-1.8zM-16.7 10.0h1.8v1.8h-1.8zM-13.8 25.1h1.8v1.8h-1.8zM-11.6 33.3h1.8v1.8h-1.8zM-9.0 46.5h1.8v1.8h-1.8zM-16.2 6.8h1.8v1.8h-1.8zM-4.7 60.9h1.8v1.8h-1.8zM-16.1 14.0h1.8v1.8h-1.8zM-17.4 17.0h1.8v1.8h-1.8zM-10.6 40.3h1.8v1.8h-1.8zM-18.0 8.9h1.8v1.8h-1.8zM-8.8 47.9h1.8v1.8h-1.8zM-9.2 45.0h1.8v1.8h-1.8zM-18.7 19.2h1.8v1.8h-1.8zM-10.0 36.9h1.8v1.8h-1.8zM-13.2 24.3h1.8v1.8h-1.8zM-15.4 20.7h1.8v1.8h-1.8zM-21.4 3.0h1.8v1.8h-1.8zM-16.8 8.7h1.8v1.8h-1.8zM-18.8 6.2h1.8v1.8h-1.8zM-17.6 5.7h1.8v1.8h-1.8zM-12.8 33.0h1.8v1.8h-1.8zM-16.7 19.3h1.8v1.8h-1.8zM-11.0 28.7h1.8v1.8h-1.8zM-6.5 63.5h1.8v1.8h-1.8zM0.5 78.8h1.8v1.8h-1.8zM3.6 73.8h1.8v1.8h-1.8zM1.2 76.7h1.8v1.8h-1.8zM1.1 74.5h1.8v1.8h-1.8zM2.0 75.7h1.8v1.8h-1.8zM1.9 73.3h1.8v1.8h-1.8zM1.1 73.5h1.8v1.8h-1.8zM1.5 79.8h1.8v1.8h-1.8zM-3.2 70.4h1.8v1.8h-1.8zM-1.0 69.6h1.8v1.8h-1.8zM4.2 76.3h1.8v1.8h-1.8zM0.5 73.5h1.8v1.8h-1.8zM0.0 77.2h1.8v1.8h-1.8zM2.3 70.5h1.8v1.8h-1.8zM-1.3 73.1h1.8v1.8h-1.8zM-1.9 73.1h1.8v1.8h-1.8zM1.8 71.5h1.8v1.8h-1.8zM3.8 71.9h1.8v1.8h-1.8zM1.5 79.9h1.8v1.8h-1.8zM0.9 74.7h1.8v1.8h-1.8zM2.5 76.1h1.8v1.8h-1.8zM2.5 76.1h1.8v1.8h-1.8zM-0.9 76.1h1.8v1.8h-1.8zM-1.8 77.2h1.8v1.8h-1.8zM2.5 74.7h1.8v1.8h-1.8zM0.5 72.0h1.8v1.8h-1.8zM5.7 76.4h1.8v1.8h-1.8zM3.5 74.9h1.8v1.8h-1.8zM0.6 69.8h1.8v1.8h-1.8zM1.4 74.0h1.8v1.8h-1.8zM-0.2 75.1h1.8v1.8h-1.8zM4.0 72.7h1.8v1.8h-1.8zM0.7 68.2h1.8v1.8h-1.8zM-0.2 74.6h1.8v1.8h-1.8zM3.6 78.4h1.8v1.8h-1.8zM4.3 73.6h1.8v1.8h-1.8zM2.2 70.9h1.8v1.8h-1.8zM0.4 73.4h1.8v1.8h-1.8zM22.2 58.2h1.8v1.8h-1.8zM6.3 65.7h1.8v1.8h-1.8zM10.1 62.2h1.8v1.8h-1.8zM10.0 65.4h1.8v1.8h-1.8zM9.6 65.0h1.8v1.8h-1.8zM25.8 57.7h1.8v1.8h-1.8zM29.7 59.8h1.8v1.8h-1.8zM11.8 62.5h1.8v1.8h-1.8zM25.6 56.1h1.8v1.8h-1.8zM27.6 55.9h1.8v1.8h-1.8zM17.9 60.2h1.8v1.8h-1.8zM11.4 64.1h1.8v1.8h-1.8zM25.8 56.4h1.8v1.8h-1.8zM10.1 62.9h1.8v1.8h-1.8zM43.5 48.4h1.8v1.8h-1.8zM40.5 47.1h1.8v1.8h-1.8zM46.5 43.2h1.8v1.8h-1.8zM93.3 -30.7h1.8v1.8h-1.8zM92.0 -28.5h1.8v1.8h-1.8zM95.8 -33.7h1.8v1.8h-1.8zM96.8 -28.7h1.8v1.8h-1.8zM96.9 -30.1h1.8v1.8h-1.8zM95.0 -28.2h1.8v1.8h-1.8zM94.7 -26.3h1.8v1.8h-1.8zM94.3 -34.2h1.8v1.8h-1.8zM96.5 -29.4h1.8v1.8h-1.8zM95.5 -34.2h1.8v1.8h-1.8zM94.5 -35.0h1.8v1.8h-1.8zM95.0 -30.1h1.8v1.8h-1.8zM91.8 -32.3h1.8v1.8h-1.8zM92.6 -30.6h1.8v1.8h-1.8zM90.7 -28.2h1.8v1.8h-1.8zM97.3 -28.8h1.8v1.8h-1.8zM90.8 -30.5h1.8v1.8h-1.8zM97.6 -28.5h1.8v1.8h-1.8zM94.3 -33.5h1.8v1.8h-1.8zM93.6 -32.9h1.8v1.8h-1.8zM96.3 -31.1h1.8v1.8h-1.8zM94.1 -33.5h1.8v1.8h-1.8zM93.9 -32.5h1.8v1.8h-1.8zM94.5 -31.3h1.8v1.8h-1.8zM94.1 -35.4h1.8v1.8h-1.8zM95.3 -16.4h1.8v1.8h-1.8zM95.1 -20.8h1.8v1.8h-1.8zM95.5 -22.1h1.8v1.8h-1.8zM95.7 -24.6h1.8v1.8h-1.8zM95.1 -25.7h1.8v1.8h-1.8zM94.6 -17.3h1.8v1.8h-1.8zM92.0 -13.4h1.8v1.8h-1.8zM85.6 7.5h1.8v1.8h-1.8zM91.5 -12.1h1.8v1.8h-1.8zM87.1 9.0h1.8v1.8h-1.8zM92.0 -10.5h1.8v1.8h-1.8zM93.2 -10.5h1.8v1.8h-1.8zM88.6 5.5h1.8v1.8h-1.8zM86.2 7.7h1.8v1.8h-1.8zM90.1 -1.1h1.8v1.8h-1.8zM92.0 -10.4h1.8v1.8h-1.8zM88.4 4.5h1.8v1.8h-1.8zM89.6 -11.9h1.8v1.8h-1.8zM91.6 -11.1h1.8v1.8h-1.8zM91.0 -1.9h1.8v1.8h-1.8zM92.0 -9.1h1.8v1.8h-1.8zM92.0 -6.3h1.8v1.8h-1.8zM93.6 -10.1h1.8v1.8h-1.8zM89.5 3.5h1.8v1.8h-1.8zM47.8 -1.6h1.8v1.8h-1.8zM51.9 -10.8h1.8v1.8h-1.8zM57.6 -8.3h1.8v1.8h-1.8zM84.0 -23.0h1.8v1.8h-1.8zM56.1 -14.6h1.8v1.8h-1.8zM68.7 -18.4h1.8v1.8h-1.8zM86.6 -22.9h1.8v1.8h-1.8zM81.6 -16.2h1.8v1.8h-1.8zM53.6 -14.4h1.8v1.8h-1.8zM55.1 17.9h1.8v1.8h-1.8zM29.1 9.9h1.8v1.8h-1.8zM18.2 16.4h1.8v1.8h-1.8zM40.3 11.9h1.8v1.8h-1.8zM24.3 55.0h1.8v1.8h-1.8zM10.6 25.5h1.8v1.8h-1.8zM38.2 36.9h1.8v1.8h-1.8zM29.4 16.3h1.8v1.8h-1.8zM18.8 23.7h1.8v1.8h-1.8z"/><text class="t" x="415.0" y="211.6" text-anchor="end">Bases learned from</text><text class="t" x="415.0" y="225.5" text-anchor="end">NMF initializing method</text><text class="l" x="416.8" y="375.8" text-anchor="end">(d)</text><text class="n" x="242.5" y="389.6" text-anchor="middle">-0.6</text><text class="n" x="266.0" y="389.6" text-anchor="middle">-0.4</text><text class="n" x="289.6" y="389.6" text-anchor="middle">-0.2</text><text class="n" x="313.1" y="389.6" text-anchor="middle">0.</text><text class="n" x="336.6" y="389.6" text-anchor="middle">0.2</text><text class="n" x="360.1" y="389.6" text-anchor="middle">0.4</text><text class="n" x="383.7" y="389.6" text-anchor="middle">0.6</text><text class="n" x="407.2" y="389.6" text-anchor="middle">0.8</text><rect x="428.4" y="197.4" width="187.6" height="184.9" fill="none" stroke="#d0d0d0" stroke-width="1.1"/><rect x="429.0" y="210.4" width="5" height="1.3" fill="#2a2a2a"/><rect x="429.0" y="237.7" width="5" height="1.3" fill="#2a2a2a"/><rect x="429.0" y="265.0" width="5" height="1.3" fill="#2a2a2a"/><rect x="429.0" y="292.3" width="5" height="1.3" fill="#2a2a2a"/><rect x="429.0" y="319.6" width="5" height="1.3" fill="#2a2a2a"/><rect x="429.0" y="346.9" width="5" height="1.3" fill="#2a2a2a"/><rect x="429.0" y="374.2" width="5" height="1.3" fill="#2a2a2a"/><rect x="438.4" y="376.8" width="1.3" height="5" fill="#2a2a2a"/><rect x="461.9" y="376.8" width="1.3" height="5" fill="#2a2a2a"/><rect x="485.5" y="376.8" width="1.3" height="5" fill="#2a2a2a"/><rect x="509.1" y="376.8" width="1.3" height="5" fill="#2a2a2a"/><rect x="532.6" y="376.8" width="1.3" height="5" fill="#2a2a2a"/><rect x="556.2" y="376.8" width="1.3" height="5" fill="#2a2a2a"/><rect x="579.8" y="376.8" width="1.3" height="5" fill="#2a2a2a"/><rect x="603.4" y="376.8" width="1.3" height="5" fill="#2a2a2a"/><use href="#base" transform="translate(509.7,292.9)"/><path fill="#2c7fb2" transform="translate(509.7,292.9)" d="M-43.4 -52.5h1.7v1.7h-1.7zM-46.9 -66.5h1.7v1.7h-1.7zM-38.1 -65.2h1.7v1.7h-1.7zM-46.0 -61.7h1.7v1.7h-1.7zM-51.0 -74.5h1.7v1.7h-1.7zM-35.6 -86.6h1.7v1.7h-1.7zM-40.7 -69.9h1.7v1.7h-1.7zM-36.9 -82.3h1.7v1.7h-1.7zM-46.4 -44.5h1.7v1.7h-1.7zM-47.8 -65.7h1.7v1.7h-1.7zM-34.0 -64.3h1.7v1.7h-1.7zM-41.7 -84.2h1.7v1.7h-1.7zM-35.8 -66.2h1.7v1.7h-1.7zM-41.3 -86.1h1.7v1.7h-1.7zM-41.6 -67.8h1.7v1.7h-1.7zM-63.4 -61.5h1.7v1.7h-1.7zM-31.9 -62.0h1.7v1.7h-1.7zM-48.6 -79.3h1.7v1.7h-1.7zM-54.6 -81.5h1.7v1.7h-1.7zM-45.4 -71.0h1.7v1.7h-1.7zM-46.2 -77.8h1.7v1.7h-1.7zM-50.3 -76.2h1.7v1.7h-1.7zM-54.8 -72.7h1.7v1.7h-1.7zM-33.3 -67.2h1.7v1.7h-1.7zM-50.7 -55.7h1.7v1.7h-1.7zM-54.9 -65.7h1.7v1.7h-1.7zM-41.4 -65.3h1.7v1.7h-1.7zM-55.4 -72.3h1.7v1.7h-1.7zM-43.1 -74.0h1.7v1.7h-1.7zM-46.3 -72.5h1.7v1.7h-1.7zM-49.8 -65.1h1.7v1.7h-1.7zM-38.7 -58.1h1.7v1.7h-1.7zM-53.2 -56.8h1.7v1.7h-1.7zM-38.7 -75.6h1.7v1.7h-1.7zM-46.8 -69.8h1.7v1.7h-1.7zM-23.6 -70.9h1.7v1.7h-1.7zM-51.7 -56.3h1.7v1.7h-1.7zM-48.6 -74.2h1.7v1.7h-1.7zM-14.7 -58.1h1.7v1.7h-1.7zM-35.6 -73.9h1.7v1.7h-1.7zM-46.1 -68.4h1.7v1.7h-1.7zM-64.1 -83.7h1.7v1.7h-1.7zM-46.2 -72.7h1.7v1.7h-1.7zM-46.1 -66.1h1.7v1.7h-1.7zM-33.0 -59.0h1.7v1.7h-1.7zM-54.6 -82.0h1.7v1.7h-1.7zM-26.3 -76.5h1.7v1.7h-1.7zM-39.1 -61.4h1.7v1.7h-1.7zM-43.8 -63.6h1.7v1.7h-1.7zM-42.3 -65.8h1.7v1.7h-1.7zM-49.4 -61.9h1.7v1.7h-1.7zM-41.4 -79.2h1.7v1.7h-1.7zM-41.8 -81.5h1.7v1.7h-1.7zM-29.6 -63.3h1.7v1.7h-1.7zM-37.6 -74.3h1.7v1.7h-1.7zM-27.4 -54.0h1.7v1.7h-1.7zM-36.8 -72.9h1.7v1.7h-1.7zM-62.9 -64.5h1.7v1.7h-1.7zM-25.0 -80.9h1.7v1.7h-1.7zM-32.1 -73.2h1.7v1.7h-1.7zM-47.6 -62.8h1.7v1.7h-1.7zM-44.8 -63.3h1.7v1.7h-1.7zM-49.8 -79.5h1.7v1.7h-1.7zM-41.3 -69.7h1.7v1.7h-1.7zM-44.8 -70.3h1.7v1.7h-1.7zM-58.9 -74.9h1.7v1.7h-1.7zM-31.4 -65.3h1.7v1.7h-1.7zM-54.4 -52.9h1.7v1.7h-1.7zM-42.6 -70.1h1.7v1.7h-1.7zM-58.5 -88.3h1.7v1.7h-1.7zM-46.3 -55.0h1.7v1.7h-1.7zM-41.3 -70.4h1.7v1.7h-1.7zM-43.5 -70.8h1.7v1.7h-1.7zM-43.8 -71.8h1.7v1.7h-1.7zM-40.6 -79.7h1.7v1.7h-1.7zM-38.1 -60.6h1.7v1.7h-1.7zM-41.1 -80.5h1.7v1.7h-1.7zM-59.3 -81.7h1.7v1.7h-1.7zM-31.4 -59.6h1.7v1.7h-1.7zM-37.9 -71.9h1.7v1.7h-1.7zM-40.8 -83.0h1.7v1.7h-1.7zM-37.2 -60.4h1.7v1.7h-1.7zM-52.9 -57.8h1.7v1.7h-1.7zM-39.4 -65.2h1.7v1.7h-1.7zM-38.4 -74.7h1.7v1.7h-1.7zM-50.8 -77.2h1.7v1.7h-1.7zM-34.2 -77.4h1.7v1.7h-1.7zM-48.0 -64.4h1.7v1.7h-1.7zM-51.2 -53.4h1.7v1.7h-1.7zM-39.3 -72.2h1.7v1.7h-1.7zM-55.7 -73.0h1.7v1.7h-1.7zM-41.7 -69.7h1.7v1.7h-1.7zM-46.3 -75.3h1.7v1.7h-1.7zM-51.8 -78.5h1.7v1.7h-1.7zM-28.7 -92.2h1.7v1.7h-1.7zM-41.0 -88.2h1.7v1.7h-1.7zM-47.7 -81.9h1.7v1.7h-1.7zM-37.3 -54.2h1.7v1.7h-1.7zM-50.4 -66.5h1.7v1.7h-1.7zM-36.6 -75.6h1.7v1.7h-1.7zM-55.3 -66.5h1.7v1.7h-1.7zM-62.1 -62.7h1.7v1.7h-1.7zM-41.2 -75.0h1.7v1.7h-1.7zM-46.5 -64.7h1.7v1.7h-1.7zM-50.7 -84.2h1.7v1.7h-1.7zM-38.9 -68.6h1.7v1.7h-1.7zM-34.9 -65.8h1.7v1.7h-1.7zM-47.7 -71.9h1.7v1.7h-1.7zM-36.9 -60.8h1.7v1.7h-1.7zM-39.7 -60.1h1.7v1.7h-1.7zM-60.0 -72.8h1.7v1.7h-1.7zM-33.0 -65.0h1.7v1.7h-1.7zM-49.8 -56.7h1.7v1.7h-1.7zM-42.2 -73.7h1.7v1.7h-1.7zM-36.4 -81.9h1.7v1.7h-1.7zM-49.0 -59.9h1.7v1.7h-1.7zM-60.8 -61.4h1.7v1.7h-1.7zM-38.3 -64.3h1.7v1.7h-1.7zM-53.2 -59.9h1.7v1.7h-1.7zM-29.1 -85.9h1.7v1.7h-1.7zM-39.4 -75.0h1.7v1.7h-1.7zM-52.2 -75.2h1.7v1.7h-1.7zM-21.8 -63.5h1.7v1.7h-1.7zM-60.7 -66.0h1.7v1.7h-1.7zM-35.7 -74.9h1.7v1.7h-1.7zM-35.5 -76.6h1.7v1.7h-1.7zM-44.1 -84.7h1.7v1.7h-1.7zM-38.5 -56.7h1.7v1.7h-1.7zM-50.0 -65.2h1.7v1.7h-1.7zM-53.3 -55.1h1.7v1.7h-1.7zM-41.7 -74.8h1.7v1.7h-1.7zM-42.8 -87.6h1.7v1.7h-1.7zM-56.3 -66.1h1.7v1.7h-1.7zM-47.7 -66.8h1.7v1.7h-1.7zM-49.1 -73.6h1.7v1.7h-1.7zM-63.4 -57.1h1.7v1.7h-1.7zM-47.8 -77.9h1.7v1.7h-1.7zM-52.0 -78.7h1.7v1.7h-1.7zM-57.8 -57.6h1.7v1.7h-1.7zM-52.6 -62.7h1.7v1.7h-1.7zM-47.9 -63.6h1.7v1.7h-1.7zM-54.4 -48.7h1.7v1.7h-1.7zM-32.9 -58.2h1.7v1.7h-1.7zM-43.6 -61.6h1.7v1.7h-1.7zM-47.1 -74.2h1.7v1.7h-1.7zM-52.7 -79.3h1.7v1.7h-1.7zM-48.3 -67.3h1.7v1.7h-1.7zM-58.5 -73.7h1.7v1.7h-1.7zM-43.1 -58.0h1.7v1.7h-1.7zM-45.2 -68.0h1.7v1.7h-1.7zM-52.9 -82.5h1.7v1.7h-1.7zM-45.8 -63.9h1.7v1.7h-1.7zM-54.3 -71.1h1.7v1.7h-1.7zM-42.2 -63.3h1.7v1.7h-1.7zM-48.7 -68.8h1.7v1.7h-1.7zM-43.5 -74.5h1.7v1.7h-1.7zM-49.8 -67.6h1.7v1.7h-1.7zM-32.7 -67.2h1.7v1.7h-1.7zM-48.7 -68.4h1.7v1.7h-1.7zM-57.9 -63.1h1.7v1.7h-1.7zM-49.4 -73.4h1.7v1.7h-1.7zM-42.1 -70.6h1.7v1.7h-1.7zM-31.4 -56.0h1.7v1.7h-1.7zM-24.0 -66.9h1.7v1.7h-1.7zM-42.4 -72.7h1.7v1.7h-1.7zM-45.8 -78.7h1.7v1.7h-1.7zM-37.5 -54.3h1.7v1.7h-1.7zM-53.2 -70.2h1.7v1.7h-1.7zM-48.8 -69.4h1.7v1.7h-1.7zM-46.0 -71.0h1.7v1.7h-1.7zM-53.9 -68.9h1.7v1.7h-1.7zM-38.0 -75.6h1.7v1.7h-1.7zM-53.3 -65.1h1.7v1.7h-1.7zM-47.1 -78.9h1.7v1.7h-1.7zM-45.8 -77.8h1.7v1.7h-1.7zM-47.8 -82.9h1.7v1.7h-1.7zM-49.3 -79.3h1.7v1.7h-1.7zM-54.2 -81.7h1.7v1.7h-1.7zM-41.1 -61.5h1.7v1.7h-1.7zM-44.9 -69.2h1.7v1.7h-1.7zM-54.9 -69.5h1.7v1.7h-1.7zM-30.9 -73.5h1.7v1.7h-1.7zM-47.3 -66.1h1.7v1.7h-1.7zM-36.6 -76.0h1.7v1.7h-1.7zM-42.5 -84.7h1.7v1.7h-1.7zM-54.9 -50.9h1.7v1.7h-1.7zM-46.3 -73.2h1.7v1.7h-1.7zM-59.6 -61.6h1.7v1.7h-1.7zM-42.5 -57.6h1.7v1.7h-1.7zM-48.0 -73.5h1.7v1.7h-1.7zM-55.1 -77.4h1.7v1.7h-1.7zM-35.0 -74.7h1.7v1.7h-1.7zM-40.9 -69.3h1.7v1.7h-1.7zM-56.8 -66.7h1.7v1.7h-1.7zM-49.1 -78.7h1.7v1.7h-1.7zM-23.8 -61.5h1.7v1.7h-1.7zM-60.5 -63.6h1.7v1.7h-1.7zM-41.8 -67.3h1.7v1.7h-1.7zM-35.5 -78.7h1.7v1.7h-1.7zM-49.9 -64.9h1.7v1.7h-1.7zM-44.8 -58.9h1.7v1.7h-1.7zM-38.3 -61.9h1.7v1.7h-1.7zM-48.4 -61.4h1.7v1.7h-1.7zM-46.8 -81.6h1.7v1.7h-1.7zM-45.5 -59.0h1.7v1.7h-1.7zM-38.2 -72.0h1.7v1.7h-1.7zM-47.9 -77.8h1.7v1.7h-1.7zM-42.1 -82.1h1.7v1.7h-1.7zM-40.4 -68.1h1.7v1.7h-1.7zM-51.9 -58.1h1.7v1.7h-1.7zM-42.4 -74.5h1.7v1.7h-1.7zM-41.7 -57.0h1.7v1.7h-1.7zM-56.6 -55.2h1.7v1.7h-1.7zM-49.6 -54.0h1.7v1.7h-1.7zM-64.0 -48.7h1.7v1.7h-1.7zM-57.0 -39.6h1.7v1.7h-1.7zM-27.7 -48.0h1.7v1.7h-1.7zM-34.7 -42.4h1.7v1.7h-1.7zM-35.0 -47.4h1.7v1.7h-1.7zM-30.6 -43.1h1.7v1.7h-1.7zM-43.0 -51.4h1.7v1.7h-1.7zM-47.6 -42.9h1.7v1.7h-1.7zM-24.0 -33.1h1.7v1.7h-1.7zM-61.7 -50.8h1.7v1.7h-1.7zM-14.0 -55.7h1.7v1.7h-1.7zM-59.9 -40.8h1.7v1.7h-1.7zM-28.9 -67.4h1.7v1.7h-1.7zM-52.1 -54.8h1.7v1.7h-1.7zM-38.8 -58.0h1.7v1.7h-1.7zM-54.4 -46.3h1.7v1.7h-1.7zM-56.4 -71.2h1.7v1.7h-1.7zM-50.0 -70.5h1.7v1.7h-1.7zM-23.2 -43.6h1.7v1.7h-1.7zM-40.3 -66.3h1.7v1.7h-1.7zM-24.2 -43.1h1.7v1.7h-1.7zM-31.7 -55.1h1.7v1.7h-1.7zM-47.5 -48.0h1.7v1.7h-1.7zM-40.7 -50.2h1.7v1.7h-1.7zM-35.1 -60.1h1.7v1.7h-1.7zM-37.8 -60.1h1.7v1.7h-1.7zM-55.4 -63.5h1.7v1.7h-1.7zM-25.1 -45.7h1.7v1.7h-1.7zM-50.5 -57.5h1.7v1.7h-1.7zM-43.9 -57.9h1.7v1.7h-1.7zM-49.1 -66.3h1.7v1.7h-1.7zM-46.7 -55.4h1.7v1.7h-1.7zM-47.9 -45.9h1.7v1.7h-1.7zM-39.1 -49.4h1.7v1.7h-1.7zM-58.0 -48.0h1.7v1.7h-1.7zM-55.8 -61.4h1.7v1.7h-1.7zM-65.3 -71.4h1.7v1.7h-1.7zM-27.9 -41.8h1.7v1.7h-1.7zM-56.7 -69.3h1.7v1.7h-1.7zM-39.3 -63.0h1.7v1.7h-1.7zM-43.1 -40.1h1.7v1.7h-1.7zM-39.0 -69.7h1.7v1.7h-1.7zM-40.4 -48.3h1.7v1.7h-1.7zM-39.0 -34.3h1.7v1.7h-1.7zM-66.8 -68.1h1.7v1.7h-1.7zM-44.6 -46.8h1.7v1.7h-1.7zM-61.9 -73.9h1.7v1.7h-1.7zM-57.6 -50.9h1.7v1.7h-1.7zM-40.6 -47.3h1.7v1.7h-1.7z"/><text class="t" x="610.0" y="211.6" text-anchor="end">Bases learned from</text><text class="t" x="610.4" y="225.5" text-anchor="end">the von Mises sampler</text><text class="l" x="612.5" y="375.8" text-anchor="end">(f)</text><text class="n" x="439.0" y="389.3" text-anchor="middle">-0.6</text><text class="n" x="462.6" y="389.3" text-anchor="middle">-0.4</text><text class="n" x="486.1" y="389.3" text-anchor="middle">-0.2</text><text class="n" x="509.7" y="389.3" text-anchor="middle">0.</text><text class="n" x="533.3" y="389.3" text-anchor="middle">0.2</text><text class="n" x="556.9" y="389.3" text-anchor="middle">0.4</text><text class="n" x="580.4" y="389.3" text-anchor="middle">0.6</text><text class="n" x="604.0" y="389.3" text-anchor="middle">0.8</text><text class="p" x="81.3" y="77.5">PC1</text><text class="p" x="115.3" y="99.0">PC2</text><rect x="89.9" y="78.3" width="2.2" height="8.5" fill="#cc1f1a"/><path d="M87.5 85.8h7l-3.5 7.2z" fill="#cc1f1a"/><rect x="100" y="94.1" width="11.6" height="2.2" fill="#cc1f1a"/><path d="M100.8 91.7v7l-7.2-3.5z" fill="#cc1f1a"/><text class="c" x="-5.6" y="412.1" textLength="114.6" lengthAdjust="spacing">Visualizations</text><text class="c" x="117.3" y="412.1">of</text><text class="c" x="141.7" y="412.1">the</text><text class="c" x="176.5" y="412.1">components</text><text class="c" x="286.0" y="412.1">calculated</text><text class="c" x="378.8" y="412.1">from</text><text class="c" x="424.5" y="412.1">matrix</text><text class="c" x="483.6" y="412.1" textLength="101.8" lengthAdjust="spacing">factorization</text><text class="c" x="593.3" y="412.1">metho</text>
</svg></body></html>
